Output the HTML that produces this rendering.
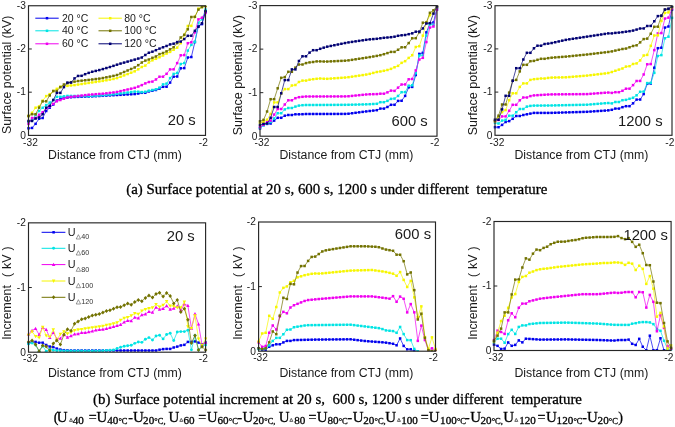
<!DOCTYPE html>
<html><head><meta charset="utf-8"><style>
html,body{margin:0;padding:0;background:#fff;overflow:hidden;width:675px;height:427px;}
svg{display:block;will-change:transform;}
text{fill:#1a1a1a;}
.sf{stroke:#000;stroke-width:0.28px;}
</style></head><body>
<svg width="675" height="427" viewBox="0 0 675 427">
<rect width="675" height="427" fill="#fff"/>
<defs>
<clipPath id="cp1"><rect x="26.5" y="5.75" width="181.0" height="129.65"/></clipPath>
<clipPath id="cp2"><rect x="258" y="5.6" width="181" height="130.6"/></clipPath>
<clipPath id="cp3"><rect x="493" y="5.7" width="181" height="129.60000000000002"/></clipPath>
<clipPath id="cp4"><rect x="26.5" y="222.85" width="181.1" height="129.35"/></clipPath>
<clipPath id="cp5"><rect x="256.6" y="222" width="180.89999999999998" height="129.2"/></clipPath>
<clipPath id="cp6"><rect x="492" y="221.5" width="181.10000000000002" height="129.0"/></clipPath>
</defs>
<g clip-path="url(#cp1)">
<polyline points="28.50,128.30 32.04,127.95 35.58,123.82 39.12,118.70 42.66,118.01 46.20,111.00 49.74,107.66 53.28,104.52 56.82,100.59 60.36,98.80 63.90,97.84 67.44,97.54 70.98,97.23 74.52,96.97 78.06,96.87 81.60,96.76 85.14,96.65 88.68,96.54 92.22,96.38 95.76,96.18 99.30,95.99 102.84,95.79 106.38,95.60 109.92,95.40 113.46,95.21 117.00,95.02 120.54,94.83 124.08,94.64 127.62,94.44 131.16,94.25 134.70,94.06 138.24,93.51 141.78,92.80 145.32,92.79 148.86,91.42 152.40,90.70 155.94,89.98 159.48,88.61 163.02,86.80 166.56,86.73 170.10,82.60 173.64,76.70 177.18,76.51 180.72,68.30 184.26,68.12 187.80,57.50 191.34,57.03 194.88,42.04 198.42,25.99 201.96,24.09 205.50,12.00" fill="none" stroke="#0000ee" stroke-width="0.7" stroke-linejoin="round"/>
<rect x="27.25" y="127.05" width="2.50" height="2.50" fill="#0000ee"/>
<rect x="30.79" y="126.70" width="2.50" height="2.50" fill="#0000ee"/>
<rect x="34.33" y="122.57" width="2.50" height="2.50" fill="#0000ee"/>
<rect x="37.87" y="117.45" width="2.50" height="2.50" fill="#0000ee"/>
<rect x="41.41" y="116.76" width="2.50" height="2.50" fill="#0000ee"/>
<rect x="44.95" y="109.75" width="2.50" height="2.50" fill="#0000ee"/>
<rect x="48.49" y="106.41" width="2.50" height="2.50" fill="#0000ee"/>
<rect x="52.03" y="103.27" width="2.50" height="2.50" fill="#0000ee"/>
<rect x="55.57" y="99.34" width="2.50" height="2.50" fill="#0000ee"/>
<rect x="59.11" y="97.55" width="2.50" height="2.50" fill="#0000ee"/>
<rect x="62.65" y="96.59" width="2.50" height="2.50" fill="#0000ee"/>
<rect x="66.19" y="96.29" width="2.50" height="2.50" fill="#0000ee"/>
<rect x="69.73" y="95.98" width="2.50" height="2.50" fill="#0000ee"/>
<rect x="73.27" y="95.72" width="2.50" height="2.50" fill="#0000ee"/>
<rect x="76.81" y="95.62" width="2.50" height="2.50" fill="#0000ee"/>
<rect x="80.35" y="95.51" width="2.50" height="2.50" fill="#0000ee"/>
<rect x="83.89" y="95.40" width="2.50" height="2.50" fill="#0000ee"/>
<rect x="87.43" y="95.29" width="2.50" height="2.50" fill="#0000ee"/>
<rect x="90.97" y="95.13" width="2.50" height="2.50" fill="#0000ee"/>
<rect x="94.51" y="94.93" width="2.50" height="2.50" fill="#0000ee"/>
<rect x="98.05" y="94.74" width="2.50" height="2.50" fill="#0000ee"/>
<rect x="101.59" y="94.54" width="2.50" height="2.50" fill="#0000ee"/>
<rect x="105.13" y="94.35" width="2.50" height="2.50" fill="#0000ee"/>
<rect x="108.67" y="94.15" width="2.50" height="2.50" fill="#0000ee"/>
<rect x="112.21" y="93.96" width="2.50" height="2.50" fill="#0000ee"/>
<rect x="115.75" y="93.77" width="2.50" height="2.50" fill="#0000ee"/>
<rect x="119.29" y="93.58" width="2.50" height="2.50" fill="#0000ee"/>
<rect x="122.83" y="93.39" width="2.50" height="2.50" fill="#0000ee"/>
<rect x="126.37" y="93.19" width="2.50" height="2.50" fill="#0000ee"/>
<rect x="129.91" y="93.00" width="2.50" height="2.50" fill="#0000ee"/>
<rect x="133.45" y="92.81" width="2.50" height="2.50" fill="#0000ee"/>
<rect x="136.99" y="92.26" width="2.50" height="2.50" fill="#0000ee"/>
<rect x="140.53" y="91.55" width="2.50" height="2.50" fill="#0000ee"/>
<rect x="144.07" y="91.54" width="2.50" height="2.50" fill="#0000ee"/>
<rect x="147.61" y="90.17" width="2.50" height="2.50" fill="#0000ee"/>
<rect x="151.15" y="89.45" width="2.50" height="2.50" fill="#0000ee"/>
<rect x="154.69" y="88.73" width="2.50" height="2.50" fill="#0000ee"/>
<rect x="158.23" y="87.36" width="2.50" height="2.50" fill="#0000ee"/>
<rect x="161.77" y="85.55" width="2.50" height="2.50" fill="#0000ee"/>
<rect x="165.31" y="85.48" width="2.50" height="2.50" fill="#0000ee"/>
<rect x="168.85" y="81.35" width="2.50" height="2.50" fill="#0000ee"/>
<rect x="172.39" y="75.45" width="2.50" height="2.50" fill="#0000ee"/>
<rect x="175.93" y="75.26" width="2.50" height="2.50" fill="#0000ee"/>
<rect x="179.47" y="67.05" width="2.50" height="2.50" fill="#0000ee"/>
<rect x="183.01" y="66.87" width="2.50" height="2.50" fill="#0000ee"/>
<rect x="186.55" y="56.25" width="2.50" height="2.50" fill="#0000ee"/>
<rect x="190.09" y="55.78" width="2.50" height="2.50" fill="#0000ee"/>
<rect x="193.63" y="40.79" width="2.50" height="2.50" fill="#0000ee"/>
<rect x="197.17" y="24.74" width="2.50" height="2.50" fill="#0000ee"/>
<rect x="200.71" y="22.84" width="2.50" height="2.50" fill="#0000ee"/>
<rect x="204.25" y="10.75" width="2.50" height="2.50" fill="#0000ee"/>
<polyline points="28.50,122.00 32.04,119.94 35.58,115.03 39.12,110.98 42.66,107.74 46.20,105.10 49.74,102.57 53.28,100.01 56.82,96.80 60.36,96.80 63.90,96.36 67.44,95.92 70.98,95.95 74.52,96.00 78.06,96.05 81.60,96.10 85.14,96.15 88.68,96.20 92.22,95.95 95.76,95.68 99.30,95.41 102.84,95.14 106.38,94.87 109.92,94.61 113.46,94.18 117.00,93.76 120.54,93.33 124.08,92.91 127.62,92.48 131.16,92.06 134.70,91.63 138.24,91.74 141.78,92.10 145.32,91.79 148.86,90.71 152.40,90.00 155.94,89.28 159.48,87.61 163.02,84.40 166.56,83.61 170.10,78.10 173.64,73.89 177.18,73.00 180.72,64.00 184.26,63.09 187.80,50.60 191.34,44.87 194.88,41.96 198.42,22.68 201.96,19.24 205.50,9.60" fill="none" stroke="#00e4e4" stroke-width="0.7" stroke-linejoin="round"/>
<rect x="27.25" y="120.75" width="2.50" height="2.50" fill="#00e4e4"/>
<rect x="30.79" y="118.69" width="2.50" height="2.50" fill="#00e4e4"/>
<rect x="34.33" y="113.78" width="2.50" height="2.50" fill="#00e4e4"/>
<rect x="37.87" y="109.73" width="2.50" height="2.50" fill="#00e4e4"/>
<rect x="41.41" y="106.49" width="2.50" height="2.50" fill="#00e4e4"/>
<rect x="44.95" y="103.85" width="2.50" height="2.50" fill="#00e4e4"/>
<rect x="48.49" y="101.32" width="2.50" height="2.50" fill="#00e4e4"/>
<rect x="52.03" y="98.76" width="2.50" height="2.50" fill="#00e4e4"/>
<rect x="55.57" y="95.55" width="2.50" height="2.50" fill="#00e4e4"/>
<rect x="59.11" y="95.55" width="2.50" height="2.50" fill="#00e4e4"/>
<rect x="62.65" y="95.11" width="2.50" height="2.50" fill="#00e4e4"/>
<rect x="66.19" y="94.67" width="2.50" height="2.50" fill="#00e4e4"/>
<rect x="69.73" y="94.70" width="2.50" height="2.50" fill="#00e4e4"/>
<rect x="73.27" y="94.75" width="2.50" height="2.50" fill="#00e4e4"/>
<rect x="76.81" y="94.80" width="2.50" height="2.50" fill="#00e4e4"/>
<rect x="80.35" y="94.85" width="2.50" height="2.50" fill="#00e4e4"/>
<rect x="83.89" y="94.90" width="2.50" height="2.50" fill="#00e4e4"/>
<rect x="87.43" y="94.95" width="2.50" height="2.50" fill="#00e4e4"/>
<rect x="90.97" y="94.70" width="2.50" height="2.50" fill="#00e4e4"/>
<rect x="94.51" y="94.43" width="2.50" height="2.50" fill="#00e4e4"/>
<rect x="98.05" y="94.16" width="2.50" height="2.50" fill="#00e4e4"/>
<rect x="101.59" y="93.89" width="2.50" height="2.50" fill="#00e4e4"/>
<rect x="105.13" y="93.62" width="2.50" height="2.50" fill="#00e4e4"/>
<rect x="108.67" y="93.36" width="2.50" height="2.50" fill="#00e4e4"/>
<rect x="112.21" y="92.93" width="2.50" height="2.50" fill="#00e4e4"/>
<rect x="115.75" y="92.51" width="2.50" height="2.50" fill="#00e4e4"/>
<rect x="119.29" y="92.08" width="2.50" height="2.50" fill="#00e4e4"/>
<rect x="122.83" y="91.66" width="2.50" height="2.50" fill="#00e4e4"/>
<rect x="126.37" y="91.23" width="2.50" height="2.50" fill="#00e4e4"/>
<rect x="129.91" y="90.81" width="2.50" height="2.50" fill="#00e4e4"/>
<rect x="133.45" y="90.38" width="2.50" height="2.50" fill="#00e4e4"/>
<rect x="136.99" y="90.49" width="2.50" height="2.50" fill="#00e4e4"/>
<rect x="140.53" y="90.85" width="2.50" height="2.50" fill="#00e4e4"/>
<rect x="144.07" y="90.54" width="2.50" height="2.50" fill="#00e4e4"/>
<rect x="147.61" y="89.46" width="2.50" height="2.50" fill="#00e4e4"/>
<rect x="151.15" y="88.75" width="2.50" height="2.50" fill="#00e4e4"/>
<rect x="154.69" y="88.03" width="2.50" height="2.50" fill="#00e4e4"/>
<rect x="158.23" y="86.36" width="2.50" height="2.50" fill="#00e4e4"/>
<rect x="161.77" y="83.15" width="2.50" height="2.50" fill="#00e4e4"/>
<rect x="165.31" y="82.36" width="2.50" height="2.50" fill="#00e4e4"/>
<rect x="168.85" y="76.85" width="2.50" height="2.50" fill="#00e4e4"/>
<rect x="172.39" y="72.64" width="2.50" height="2.50" fill="#00e4e4"/>
<rect x="175.93" y="71.75" width="2.50" height="2.50" fill="#00e4e4"/>
<rect x="179.47" y="62.75" width="2.50" height="2.50" fill="#00e4e4"/>
<rect x="183.01" y="61.84" width="2.50" height="2.50" fill="#00e4e4"/>
<rect x="186.55" y="49.35" width="2.50" height="2.50" fill="#00e4e4"/>
<rect x="190.09" y="43.62" width="2.50" height="2.50" fill="#00e4e4"/>
<rect x="193.63" y="40.71" width="2.50" height="2.50" fill="#00e4e4"/>
<rect x="197.17" y="21.43" width="2.50" height="2.50" fill="#00e4e4"/>
<rect x="200.71" y="17.99" width="2.50" height="2.50" fill="#00e4e4"/>
<rect x="204.25" y="8.35" width="2.50" height="2.50" fill="#00e4e4"/>
<polyline points="28.50,123.80 32.04,118.00 35.58,118.00 39.12,114.79 42.66,112.23 46.20,108.40 49.74,106.37 53.28,103.91 56.82,101.29 60.36,100.01 63.90,98.70 67.44,97.39 70.98,96.80 74.52,96.39 78.06,95.97 81.60,95.56 85.14,95.14 88.68,94.73 92.22,94.46 95.76,94.20 99.30,93.95 102.84,93.69 106.38,93.32 109.92,92.88 113.46,92.45 117.00,91.94 120.54,91.12 124.08,90.30 127.62,89.49 131.16,88.67 134.70,87.85 138.24,86.58 141.78,85.11 145.32,83.39 148.86,82.02 152.40,81.60 155.94,79.47 159.48,76.72 163.02,76.68 166.56,73.83 170.10,69.40 173.64,69.33 177.18,63.12 180.72,55.30 184.26,55.10 187.80,43.20 191.34,42.29 194.88,32.31 198.42,19.39 201.96,17.72 205.50,12.90" fill="none" stroke="#f000f0" stroke-width="0.7" stroke-linejoin="round"/>
<rect x="27.25" y="122.55" width="2.50" height="2.50" fill="#f000f0"/>
<rect x="30.79" y="116.75" width="2.50" height="2.50" fill="#f000f0"/>
<rect x="34.33" y="116.75" width="2.50" height="2.50" fill="#f000f0"/>
<rect x="37.87" y="113.54" width="2.50" height="2.50" fill="#f000f0"/>
<rect x="41.41" y="110.98" width="2.50" height="2.50" fill="#f000f0"/>
<rect x="44.95" y="107.15" width="2.50" height="2.50" fill="#f000f0"/>
<rect x="48.49" y="105.12" width="2.50" height="2.50" fill="#f000f0"/>
<rect x="52.03" y="102.66" width="2.50" height="2.50" fill="#f000f0"/>
<rect x="55.57" y="100.04" width="2.50" height="2.50" fill="#f000f0"/>
<rect x="59.11" y="98.76" width="2.50" height="2.50" fill="#f000f0"/>
<rect x="62.65" y="97.45" width="2.50" height="2.50" fill="#f000f0"/>
<rect x="66.19" y="96.14" width="2.50" height="2.50" fill="#f000f0"/>
<rect x="69.73" y="95.55" width="2.50" height="2.50" fill="#f000f0"/>
<rect x="73.27" y="95.14" width="2.50" height="2.50" fill="#f000f0"/>
<rect x="76.81" y="94.72" width="2.50" height="2.50" fill="#f000f0"/>
<rect x="80.35" y="94.31" width="2.50" height="2.50" fill="#f000f0"/>
<rect x="83.89" y="93.89" width="2.50" height="2.50" fill="#f000f0"/>
<rect x="87.43" y="93.48" width="2.50" height="2.50" fill="#f000f0"/>
<rect x="90.97" y="93.21" width="2.50" height="2.50" fill="#f000f0"/>
<rect x="94.51" y="92.95" width="2.50" height="2.50" fill="#f000f0"/>
<rect x="98.05" y="92.70" width="2.50" height="2.50" fill="#f000f0"/>
<rect x="101.59" y="92.44" width="2.50" height="2.50" fill="#f000f0"/>
<rect x="105.13" y="92.07" width="2.50" height="2.50" fill="#f000f0"/>
<rect x="108.67" y="91.63" width="2.50" height="2.50" fill="#f000f0"/>
<rect x="112.21" y="91.20" width="2.50" height="2.50" fill="#f000f0"/>
<rect x="115.75" y="90.69" width="2.50" height="2.50" fill="#f000f0"/>
<rect x="119.29" y="89.87" width="2.50" height="2.50" fill="#f000f0"/>
<rect x="122.83" y="89.05" width="2.50" height="2.50" fill="#f000f0"/>
<rect x="126.37" y="88.24" width="2.50" height="2.50" fill="#f000f0"/>
<rect x="129.91" y="87.42" width="2.50" height="2.50" fill="#f000f0"/>
<rect x="133.45" y="86.60" width="2.50" height="2.50" fill="#f000f0"/>
<rect x="136.99" y="85.33" width="2.50" height="2.50" fill="#f000f0"/>
<rect x="140.53" y="83.86" width="2.50" height="2.50" fill="#f000f0"/>
<rect x="144.07" y="82.14" width="2.50" height="2.50" fill="#f000f0"/>
<rect x="147.61" y="80.77" width="2.50" height="2.50" fill="#f000f0"/>
<rect x="151.15" y="80.35" width="2.50" height="2.50" fill="#f000f0"/>
<rect x="154.69" y="78.22" width="2.50" height="2.50" fill="#f000f0"/>
<rect x="158.23" y="75.47" width="2.50" height="2.50" fill="#f000f0"/>
<rect x="161.77" y="75.43" width="2.50" height="2.50" fill="#f000f0"/>
<rect x="165.31" y="72.58" width="2.50" height="2.50" fill="#f000f0"/>
<rect x="168.85" y="68.15" width="2.50" height="2.50" fill="#f000f0"/>
<rect x="172.39" y="68.08" width="2.50" height="2.50" fill="#f000f0"/>
<rect x="175.93" y="61.87" width="2.50" height="2.50" fill="#f000f0"/>
<rect x="179.47" y="54.05" width="2.50" height="2.50" fill="#f000f0"/>
<rect x="183.01" y="53.85" width="2.50" height="2.50" fill="#f000f0"/>
<rect x="186.55" y="41.95" width="2.50" height="2.50" fill="#f000f0"/>
<rect x="190.09" y="41.04" width="2.50" height="2.50" fill="#f000f0"/>
<rect x="193.63" y="31.06" width="2.50" height="2.50" fill="#f000f0"/>
<rect x="197.17" y="18.14" width="2.50" height="2.50" fill="#f000f0"/>
<rect x="200.71" y="16.47" width="2.50" height="2.50" fill="#f000f0"/>
<rect x="204.25" y="11.65" width="2.50" height="2.50" fill="#f000f0"/>
<polyline points="28.50,116.00 32.04,112.84 35.58,107.73 39.12,106.37 42.66,100.66 46.20,96.10 49.74,94.16 53.28,91.02 56.82,88.86 60.36,86.71 63.90,86.18 67.44,85.83 70.98,85.47 74.52,85.08 78.06,84.54 81.60,84.00 85.14,83.47 88.68,82.93 92.22,82.42 95.76,81.91 99.30,81.39 102.84,80.88 106.38,80.27 109.92,79.60 113.46,78.94 117.00,78.13 120.54,76.77 124.08,75.41 127.62,74.05 131.16,72.68 134.70,71.32 138.24,69.31 141.78,67.01 145.32,65.58 148.86,62.44 152.40,60.30 155.94,58.78 159.48,57.21 163.02,55.49 166.56,53.57 170.10,51.90 173.64,49.78 177.18,47.60 180.72,43.15 184.26,34.85 187.80,26.00 191.34,25.90 194.88,16.82 198.42,8.69 201.96,6.98 205.50,6.00" fill="none" stroke="#f6f600" stroke-width="0.7" stroke-linejoin="round"/>
<rect x="27.25" y="114.75" width="2.50" height="2.50" fill="#f6f600"/>
<rect x="30.79" y="111.59" width="2.50" height="2.50" fill="#f6f600"/>
<rect x="34.33" y="106.48" width="2.50" height="2.50" fill="#f6f600"/>
<rect x="37.87" y="105.12" width="2.50" height="2.50" fill="#f6f600"/>
<rect x="41.41" y="99.41" width="2.50" height="2.50" fill="#f6f600"/>
<rect x="44.95" y="94.85" width="2.50" height="2.50" fill="#f6f600"/>
<rect x="48.49" y="92.91" width="2.50" height="2.50" fill="#f6f600"/>
<rect x="52.03" y="89.77" width="2.50" height="2.50" fill="#f6f600"/>
<rect x="55.57" y="87.61" width="2.50" height="2.50" fill="#f6f600"/>
<rect x="59.11" y="85.46" width="2.50" height="2.50" fill="#f6f600"/>
<rect x="62.65" y="84.93" width="2.50" height="2.50" fill="#f6f600"/>
<rect x="66.19" y="84.58" width="2.50" height="2.50" fill="#f6f600"/>
<rect x="69.73" y="84.22" width="2.50" height="2.50" fill="#f6f600"/>
<rect x="73.27" y="83.83" width="2.50" height="2.50" fill="#f6f600"/>
<rect x="76.81" y="83.29" width="2.50" height="2.50" fill="#f6f600"/>
<rect x="80.35" y="82.75" width="2.50" height="2.50" fill="#f6f600"/>
<rect x="83.89" y="82.22" width="2.50" height="2.50" fill="#f6f600"/>
<rect x="87.43" y="81.68" width="2.50" height="2.50" fill="#f6f600"/>
<rect x="90.97" y="81.17" width="2.50" height="2.50" fill="#f6f600"/>
<rect x="94.51" y="80.66" width="2.50" height="2.50" fill="#f6f600"/>
<rect x="98.05" y="80.14" width="2.50" height="2.50" fill="#f6f600"/>
<rect x="101.59" y="79.63" width="2.50" height="2.50" fill="#f6f600"/>
<rect x="105.13" y="79.02" width="2.50" height="2.50" fill="#f6f600"/>
<rect x="108.67" y="78.35" width="2.50" height="2.50" fill="#f6f600"/>
<rect x="112.21" y="77.69" width="2.50" height="2.50" fill="#f6f600"/>
<rect x="115.75" y="76.88" width="2.50" height="2.50" fill="#f6f600"/>
<rect x="119.29" y="75.52" width="2.50" height="2.50" fill="#f6f600"/>
<rect x="122.83" y="74.16" width="2.50" height="2.50" fill="#f6f600"/>
<rect x="126.37" y="72.80" width="2.50" height="2.50" fill="#f6f600"/>
<rect x="129.91" y="71.43" width="2.50" height="2.50" fill="#f6f600"/>
<rect x="133.45" y="70.07" width="2.50" height="2.50" fill="#f6f600"/>
<rect x="136.99" y="68.06" width="2.50" height="2.50" fill="#f6f600"/>
<rect x="140.53" y="65.76" width="2.50" height="2.50" fill="#f6f600"/>
<rect x="144.07" y="64.33" width="2.50" height="2.50" fill="#f6f600"/>
<rect x="147.61" y="61.19" width="2.50" height="2.50" fill="#f6f600"/>
<rect x="151.15" y="59.05" width="2.50" height="2.50" fill="#f6f600"/>
<rect x="154.69" y="57.53" width="2.50" height="2.50" fill="#f6f600"/>
<rect x="158.23" y="55.96" width="2.50" height="2.50" fill="#f6f600"/>
<rect x="161.77" y="54.24" width="2.50" height="2.50" fill="#f6f600"/>
<rect x="165.31" y="52.32" width="2.50" height="2.50" fill="#f6f600"/>
<rect x="168.85" y="50.65" width="2.50" height="2.50" fill="#f6f600"/>
<rect x="172.39" y="48.53" width="2.50" height="2.50" fill="#f6f600"/>
<rect x="175.93" y="46.35" width="2.50" height="2.50" fill="#f6f600"/>
<rect x="179.47" y="41.90" width="2.50" height="2.50" fill="#f6f600"/>
<rect x="183.01" y="33.60" width="2.50" height="2.50" fill="#f6f600"/>
<rect x="186.55" y="24.75" width="2.50" height="2.50" fill="#f6f600"/>
<rect x="190.09" y="24.65" width="2.50" height="2.50" fill="#f6f600"/>
<rect x="193.63" y="15.57" width="2.50" height="2.50" fill="#f6f600"/>
<rect x="197.17" y="7.44" width="2.50" height="2.50" fill="#f6f600"/>
<rect x="200.71" y="5.73" width="2.50" height="2.50" fill="#f6f600"/>
<rect x="204.25" y="4.75" width="2.50" height="2.50" fill="#f6f600"/>
<polyline points="28.50,116.00 32.04,114.20 35.58,114.20 39.12,107.66 42.66,101.37 46.20,101.30 49.74,95.45 53.28,91.02 56.82,90.98 60.36,87.14 63.90,84.50 67.44,83.14 70.98,82.19 74.52,81.62 78.06,81.04 81.60,80.66 85.14,80.29 88.68,79.92 92.22,79.49 95.76,79.06 99.30,78.62 102.84,78.05 106.38,77.32 109.92,76.60 113.46,75.88 117.00,75.00 120.54,73.50 124.08,71.99 127.62,70.48 131.16,68.97 134.70,67.47 138.24,65.17 141.78,62.52 145.32,60.59 148.86,59.51 152.40,57.80 155.94,56.47 159.48,54.11 163.02,52.99 166.56,51.36 170.10,49.30 173.64,47.25 177.18,43.07 180.72,37.49 184.26,34.90 187.80,29.30 191.34,17.00 194.88,16.84 198.42,9.59 201.96,7.08 205.50,6.00" fill="none" stroke="#727200" stroke-width="0.7" stroke-linejoin="round"/>
<rect x="27.25" y="114.75" width="2.50" height="2.50" fill="#727200"/>
<rect x="30.79" y="112.95" width="2.50" height="2.50" fill="#727200"/>
<rect x="34.33" y="112.95" width="2.50" height="2.50" fill="#727200"/>
<rect x="37.87" y="106.41" width="2.50" height="2.50" fill="#727200"/>
<rect x="41.41" y="100.12" width="2.50" height="2.50" fill="#727200"/>
<rect x="44.95" y="100.05" width="2.50" height="2.50" fill="#727200"/>
<rect x="48.49" y="94.20" width="2.50" height="2.50" fill="#727200"/>
<rect x="52.03" y="89.77" width="2.50" height="2.50" fill="#727200"/>
<rect x="55.57" y="89.73" width="2.50" height="2.50" fill="#727200"/>
<rect x="59.11" y="85.89" width="2.50" height="2.50" fill="#727200"/>
<rect x="62.65" y="83.25" width="2.50" height="2.50" fill="#727200"/>
<rect x="66.19" y="81.89" width="2.50" height="2.50" fill="#727200"/>
<rect x="69.73" y="80.94" width="2.50" height="2.50" fill="#727200"/>
<rect x="73.27" y="80.37" width="2.50" height="2.50" fill="#727200"/>
<rect x="76.81" y="79.79" width="2.50" height="2.50" fill="#727200"/>
<rect x="80.35" y="79.41" width="2.50" height="2.50" fill="#727200"/>
<rect x="83.89" y="79.04" width="2.50" height="2.50" fill="#727200"/>
<rect x="87.43" y="78.67" width="2.50" height="2.50" fill="#727200"/>
<rect x="90.97" y="78.24" width="2.50" height="2.50" fill="#727200"/>
<rect x="94.51" y="77.81" width="2.50" height="2.50" fill="#727200"/>
<rect x="98.05" y="77.37" width="2.50" height="2.50" fill="#727200"/>
<rect x="101.59" y="76.80" width="2.50" height="2.50" fill="#727200"/>
<rect x="105.13" y="76.07" width="2.50" height="2.50" fill="#727200"/>
<rect x="108.67" y="75.35" width="2.50" height="2.50" fill="#727200"/>
<rect x="112.21" y="74.63" width="2.50" height="2.50" fill="#727200"/>
<rect x="115.75" y="73.75" width="2.50" height="2.50" fill="#727200"/>
<rect x="119.29" y="72.25" width="2.50" height="2.50" fill="#727200"/>
<rect x="122.83" y="70.74" width="2.50" height="2.50" fill="#727200"/>
<rect x="126.37" y="69.23" width="2.50" height="2.50" fill="#727200"/>
<rect x="129.91" y="67.72" width="2.50" height="2.50" fill="#727200"/>
<rect x="133.45" y="66.22" width="2.50" height="2.50" fill="#727200"/>
<rect x="136.99" y="63.92" width="2.50" height="2.50" fill="#727200"/>
<rect x="140.53" y="61.27" width="2.50" height="2.50" fill="#727200"/>
<rect x="144.07" y="59.34" width="2.50" height="2.50" fill="#727200"/>
<rect x="147.61" y="58.26" width="2.50" height="2.50" fill="#727200"/>
<rect x="151.15" y="56.55" width="2.50" height="2.50" fill="#727200"/>
<rect x="154.69" y="55.22" width="2.50" height="2.50" fill="#727200"/>
<rect x="158.23" y="52.86" width="2.50" height="2.50" fill="#727200"/>
<rect x="161.77" y="51.74" width="2.50" height="2.50" fill="#727200"/>
<rect x="165.31" y="50.11" width="2.50" height="2.50" fill="#727200"/>
<rect x="168.85" y="48.05" width="2.50" height="2.50" fill="#727200"/>
<rect x="172.39" y="46.00" width="2.50" height="2.50" fill="#727200"/>
<rect x="175.93" y="41.82" width="2.50" height="2.50" fill="#727200"/>
<rect x="179.47" y="36.24" width="2.50" height="2.50" fill="#727200"/>
<rect x="183.01" y="33.65" width="2.50" height="2.50" fill="#727200"/>
<rect x="186.55" y="28.05" width="2.50" height="2.50" fill="#727200"/>
<rect x="190.09" y="15.75" width="2.50" height="2.50" fill="#727200"/>
<rect x="193.63" y="15.59" width="2.50" height="2.50" fill="#727200"/>
<rect x="197.17" y="8.34" width="2.50" height="2.50" fill="#727200"/>
<rect x="200.71" y="5.83" width="2.50" height="2.50" fill="#727200"/>
<rect x="204.25" y="4.75" width="2.50" height="2.50" fill="#727200"/>
<polyline points="28.50,121.00 32.04,120.97 35.58,118.51 39.12,117.38 42.66,114.24 46.20,107.70 49.74,105.74 53.28,100.03 56.82,92.90 60.36,92.90 63.90,87.10 67.44,82.60 70.98,82.60 74.52,78.41 78.06,75.94 81.60,75.80 85.14,74.20 88.68,72.89 92.22,71.75 95.76,70.91 99.30,70.07 102.84,69.07 106.38,68.04 109.92,67.02 113.46,65.85 117.00,64.67 120.54,63.58 124.08,62.59 127.62,61.60 131.16,60.60 134.70,59.61 138.24,58.57 141.78,57.51 145.32,54.99 148.86,52.73 152.40,51.70 155.94,50.18 159.48,48.61 163.02,47.29 166.56,45.97 170.10,44.40 173.64,43.68 177.18,42.09 180.72,41.59 184.26,39.05 187.80,35.80 191.34,35.74 194.88,30.81 198.42,26.78 201.96,23.29 205.50,11.20" fill="none" stroke="#000072" stroke-width="0.7" stroke-linejoin="round"/>
<rect x="27.25" y="119.75" width="2.50" height="2.50" fill="#000072"/>
<rect x="30.79" y="119.72" width="2.50" height="2.50" fill="#000072"/>
<rect x="34.33" y="117.26" width="2.50" height="2.50" fill="#000072"/>
<rect x="37.87" y="116.13" width="2.50" height="2.50" fill="#000072"/>
<rect x="41.41" y="112.99" width="2.50" height="2.50" fill="#000072"/>
<rect x="44.95" y="106.45" width="2.50" height="2.50" fill="#000072"/>
<rect x="48.49" y="104.49" width="2.50" height="2.50" fill="#000072"/>
<rect x="52.03" y="98.78" width="2.50" height="2.50" fill="#000072"/>
<rect x="55.57" y="91.65" width="2.50" height="2.50" fill="#000072"/>
<rect x="59.11" y="91.65" width="2.50" height="2.50" fill="#000072"/>
<rect x="62.65" y="85.85" width="2.50" height="2.50" fill="#000072"/>
<rect x="66.19" y="81.35" width="2.50" height="2.50" fill="#000072"/>
<rect x="69.73" y="81.35" width="2.50" height="2.50" fill="#000072"/>
<rect x="73.27" y="77.16" width="2.50" height="2.50" fill="#000072"/>
<rect x="76.81" y="74.69" width="2.50" height="2.50" fill="#000072"/>
<rect x="80.35" y="74.55" width="2.50" height="2.50" fill="#000072"/>
<rect x="83.89" y="72.95" width="2.50" height="2.50" fill="#000072"/>
<rect x="87.43" y="71.64" width="2.50" height="2.50" fill="#000072"/>
<rect x="90.97" y="70.50" width="2.50" height="2.50" fill="#000072"/>
<rect x="94.51" y="69.66" width="2.50" height="2.50" fill="#000072"/>
<rect x="98.05" y="68.82" width="2.50" height="2.50" fill="#000072"/>
<rect x="101.59" y="67.82" width="2.50" height="2.50" fill="#000072"/>
<rect x="105.13" y="66.79" width="2.50" height="2.50" fill="#000072"/>
<rect x="108.67" y="65.77" width="2.50" height="2.50" fill="#000072"/>
<rect x="112.21" y="64.60" width="2.50" height="2.50" fill="#000072"/>
<rect x="115.75" y="63.42" width="2.50" height="2.50" fill="#000072"/>
<rect x="119.29" y="62.33" width="2.50" height="2.50" fill="#000072"/>
<rect x="122.83" y="61.34" width="2.50" height="2.50" fill="#000072"/>
<rect x="126.37" y="60.35" width="2.50" height="2.50" fill="#000072"/>
<rect x="129.91" y="59.35" width="2.50" height="2.50" fill="#000072"/>
<rect x="133.45" y="58.36" width="2.50" height="2.50" fill="#000072"/>
<rect x="136.99" y="57.32" width="2.50" height="2.50" fill="#000072"/>
<rect x="140.53" y="56.26" width="2.50" height="2.50" fill="#000072"/>
<rect x="144.07" y="53.74" width="2.50" height="2.50" fill="#000072"/>
<rect x="147.61" y="51.48" width="2.50" height="2.50" fill="#000072"/>
<rect x="151.15" y="50.45" width="2.50" height="2.50" fill="#000072"/>
<rect x="154.69" y="48.93" width="2.50" height="2.50" fill="#000072"/>
<rect x="158.23" y="47.36" width="2.50" height="2.50" fill="#000072"/>
<rect x="161.77" y="46.04" width="2.50" height="2.50" fill="#000072"/>
<rect x="165.31" y="44.72" width="2.50" height="2.50" fill="#000072"/>
<rect x="168.85" y="43.15" width="2.50" height="2.50" fill="#000072"/>
<rect x="172.39" y="42.43" width="2.50" height="2.50" fill="#000072"/>
<rect x="175.93" y="40.84" width="2.50" height="2.50" fill="#000072"/>
<rect x="179.47" y="40.34" width="2.50" height="2.50" fill="#000072"/>
<rect x="183.01" y="37.80" width="2.50" height="2.50" fill="#000072"/>
<rect x="186.55" y="34.55" width="2.50" height="2.50" fill="#000072"/>
<rect x="190.09" y="34.49" width="2.50" height="2.50" fill="#000072"/>
<rect x="193.63" y="29.56" width="2.50" height="2.50" fill="#000072"/>
<rect x="197.17" y="25.53" width="2.50" height="2.50" fill="#000072"/>
<rect x="200.71" y="22.04" width="2.50" height="2.50" fill="#000072"/>
<rect x="204.25" y="9.95" width="2.50" height="2.50" fill="#000072"/>
</g>
<g clip-path="url(#cp2)">
<polyline points="260.00,128.40 263.54,124.20 267.08,123.90 270.62,123.50 274.16,120.60 277.70,117.80 281.24,117.80 284.78,115.70 288.32,115.00 291.86,115.00 295.40,114.30 298.94,114.30 302.48,114.20 306.02,114.00 309.56,113.99 313.10,113.98 316.64,113.97 320.18,113.97 323.72,113.96 327.26,113.95 330.80,113.94 334.34,113.93 337.88,113.92 341.42,113.91 344.96,113.90 348.50,113.71 352.04,113.25 355.58,112.80 359.12,112.34 362.66,111.89 366.20,111.43 369.74,111.00 373.28,110.60 376.82,110.19 380.36,108.60 383.90,108.60 387.44,106.97 390.98,104.80 394.52,104.78 398.06,100.90 401.60,100.76 405.14,95.90 408.68,87.30 412.22,86.90 415.76,75.03 419.30,53.88 422.84,52.87 426.38,32.39 429.92,23.47 433.46,22.45 437.00,7.90" fill="none" stroke="#0000ee" stroke-width="0.7" stroke-linejoin="round"/>
<rect x="258.75" y="127.15" width="2.50" height="2.50" fill="#0000ee"/>
<rect x="262.29" y="122.95" width="2.50" height="2.50" fill="#0000ee"/>
<rect x="265.83" y="122.65" width="2.50" height="2.50" fill="#0000ee"/>
<rect x="269.37" y="122.25" width="2.50" height="2.50" fill="#0000ee"/>
<rect x="272.91" y="119.35" width="2.50" height="2.50" fill="#0000ee"/>
<rect x="276.45" y="116.55" width="2.50" height="2.50" fill="#0000ee"/>
<rect x="279.99" y="116.55" width="2.50" height="2.50" fill="#0000ee"/>
<rect x="283.53" y="114.45" width="2.50" height="2.50" fill="#0000ee"/>
<rect x="287.07" y="113.75" width="2.50" height="2.50" fill="#0000ee"/>
<rect x="290.61" y="113.75" width="2.50" height="2.50" fill="#0000ee"/>
<rect x="294.15" y="113.05" width="2.50" height="2.50" fill="#0000ee"/>
<rect x="297.69" y="113.05" width="2.50" height="2.50" fill="#0000ee"/>
<rect x="301.23" y="112.95" width="2.50" height="2.50" fill="#0000ee"/>
<rect x="304.77" y="112.75" width="2.50" height="2.50" fill="#0000ee"/>
<rect x="308.31" y="112.74" width="2.50" height="2.50" fill="#0000ee"/>
<rect x="311.85" y="112.73" width="2.50" height="2.50" fill="#0000ee"/>
<rect x="315.39" y="112.72" width="2.50" height="2.50" fill="#0000ee"/>
<rect x="318.93" y="112.72" width="2.50" height="2.50" fill="#0000ee"/>
<rect x="322.47" y="112.71" width="2.50" height="2.50" fill="#0000ee"/>
<rect x="326.01" y="112.70" width="2.50" height="2.50" fill="#0000ee"/>
<rect x="329.55" y="112.69" width="2.50" height="2.50" fill="#0000ee"/>
<rect x="333.09" y="112.68" width="2.50" height="2.50" fill="#0000ee"/>
<rect x="336.63" y="112.67" width="2.50" height="2.50" fill="#0000ee"/>
<rect x="340.17" y="112.66" width="2.50" height="2.50" fill="#0000ee"/>
<rect x="343.71" y="112.65" width="2.50" height="2.50" fill="#0000ee"/>
<rect x="347.25" y="112.46" width="2.50" height="2.50" fill="#0000ee"/>
<rect x="350.79" y="112.00" width="2.50" height="2.50" fill="#0000ee"/>
<rect x="354.33" y="111.55" width="2.50" height="2.50" fill="#0000ee"/>
<rect x="357.87" y="111.09" width="2.50" height="2.50" fill="#0000ee"/>
<rect x="361.41" y="110.64" width="2.50" height="2.50" fill="#0000ee"/>
<rect x="364.95" y="110.18" width="2.50" height="2.50" fill="#0000ee"/>
<rect x="368.49" y="109.75" width="2.50" height="2.50" fill="#0000ee"/>
<rect x="372.03" y="109.35" width="2.50" height="2.50" fill="#0000ee"/>
<rect x="375.57" y="108.94" width="2.50" height="2.50" fill="#0000ee"/>
<rect x="379.11" y="107.35" width="2.50" height="2.50" fill="#0000ee"/>
<rect x="382.65" y="107.35" width="2.50" height="2.50" fill="#0000ee"/>
<rect x="386.19" y="105.72" width="2.50" height="2.50" fill="#0000ee"/>
<rect x="389.73" y="103.55" width="2.50" height="2.50" fill="#0000ee"/>
<rect x="393.27" y="103.53" width="2.50" height="2.50" fill="#0000ee"/>
<rect x="396.81" y="99.65" width="2.50" height="2.50" fill="#0000ee"/>
<rect x="400.35" y="99.51" width="2.50" height="2.50" fill="#0000ee"/>
<rect x="403.89" y="94.65" width="2.50" height="2.50" fill="#0000ee"/>
<rect x="407.43" y="86.05" width="2.50" height="2.50" fill="#0000ee"/>
<rect x="410.97" y="85.65" width="2.50" height="2.50" fill="#0000ee"/>
<rect x="414.51" y="73.78" width="2.50" height="2.50" fill="#0000ee"/>
<rect x="418.05" y="52.63" width="2.50" height="2.50" fill="#0000ee"/>
<rect x="421.59" y="51.62" width="2.50" height="2.50" fill="#0000ee"/>
<rect x="425.13" y="31.14" width="2.50" height="2.50" fill="#0000ee"/>
<rect x="428.67" y="22.22" width="2.50" height="2.50" fill="#0000ee"/>
<rect x="432.21" y="21.20" width="2.50" height="2.50" fill="#0000ee"/>
<rect x="435.75" y="6.65" width="2.50" height="2.50" fill="#0000ee"/>
<polyline points="260.00,127.70 263.54,125.60 267.08,123.50 270.62,122.00 274.16,118.50 277.70,113.20 281.24,113.20 284.78,109.40 288.32,108.00 291.86,108.00 295.40,106.60 298.94,105.60 302.48,105.20 306.02,105.00 309.56,105.00 313.10,105.00 316.64,104.98 320.18,104.96 323.72,104.94 327.26,104.92 330.80,104.90 334.34,104.88 337.88,104.85 341.42,104.83 344.96,104.81 348.50,104.76 352.04,104.68 355.58,104.60 359.12,104.51 362.66,104.43 366.20,104.34 369.74,104.20 373.28,104.00 376.82,103.79 380.36,102.20 383.90,102.20 387.44,100.88 390.98,98.89 394.52,98.59 398.06,95.93 401.60,92.20 405.14,92.13 408.68,85.70 412.22,85.29 415.76,73.19 419.30,55.50 422.84,55.27 426.38,35.54 429.92,24.33 433.46,24.94 437.00,9.60" fill="none" stroke="#00e4e4" stroke-width="0.7" stroke-linejoin="round"/>
<rect x="258.75" y="126.45" width="2.50" height="2.50" fill="#00e4e4"/>
<rect x="262.29" y="124.35" width="2.50" height="2.50" fill="#00e4e4"/>
<rect x="265.83" y="122.25" width="2.50" height="2.50" fill="#00e4e4"/>
<rect x="269.37" y="120.75" width="2.50" height="2.50" fill="#00e4e4"/>
<rect x="272.91" y="117.25" width="2.50" height="2.50" fill="#00e4e4"/>
<rect x="276.45" y="111.95" width="2.50" height="2.50" fill="#00e4e4"/>
<rect x="279.99" y="111.95" width="2.50" height="2.50" fill="#00e4e4"/>
<rect x="283.53" y="108.15" width="2.50" height="2.50" fill="#00e4e4"/>
<rect x="287.07" y="106.75" width="2.50" height="2.50" fill="#00e4e4"/>
<rect x="290.61" y="106.75" width="2.50" height="2.50" fill="#00e4e4"/>
<rect x="294.15" y="105.35" width="2.50" height="2.50" fill="#00e4e4"/>
<rect x="297.69" y="104.35" width="2.50" height="2.50" fill="#00e4e4"/>
<rect x="301.23" y="103.95" width="2.50" height="2.50" fill="#00e4e4"/>
<rect x="304.77" y="103.75" width="2.50" height="2.50" fill="#00e4e4"/>
<rect x="308.31" y="103.75" width="2.50" height="2.50" fill="#00e4e4"/>
<rect x="311.85" y="103.75" width="2.50" height="2.50" fill="#00e4e4"/>
<rect x="315.39" y="103.73" width="2.50" height="2.50" fill="#00e4e4"/>
<rect x="318.93" y="103.71" width="2.50" height="2.50" fill="#00e4e4"/>
<rect x="322.47" y="103.69" width="2.50" height="2.50" fill="#00e4e4"/>
<rect x="326.01" y="103.67" width="2.50" height="2.50" fill="#00e4e4"/>
<rect x="329.55" y="103.65" width="2.50" height="2.50" fill="#00e4e4"/>
<rect x="333.09" y="103.63" width="2.50" height="2.50" fill="#00e4e4"/>
<rect x="336.63" y="103.60" width="2.50" height="2.50" fill="#00e4e4"/>
<rect x="340.17" y="103.58" width="2.50" height="2.50" fill="#00e4e4"/>
<rect x="343.71" y="103.56" width="2.50" height="2.50" fill="#00e4e4"/>
<rect x="347.25" y="103.51" width="2.50" height="2.50" fill="#00e4e4"/>
<rect x="350.79" y="103.43" width="2.50" height="2.50" fill="#00e4e4"/>
<rect x="354.33" y="103.35" width="2.50" height="2.50" fill="#00e4e4"/>
<rect x="357.87" y="103.26" width="2.50" height="2.50" fill="#00e4e4"/>
<rect x="361.41" y="103.18" width="2.50" height="2.50" fill="#00e4e4"/>
<rect x="364.95" y="103.09" width="2.50" height="2.50" fill="#00e4e4"/>
<rect x="368.49" y="102.95" width="2.50" height="2.50" fill="#00e4e4"/>
<rect x="372.03" y="102.75" width="2.50" height="2.50" fill="#00e4e4"/>
<rect x="375.57" y="102.54" width="2.50" height="2.50" fill="#00e4e4"/>
<rect x="379.11" y="100.95" width="2.50" height="2.50" fill="#00e4e4"/>
<rect x="382.65" y="100.95" width="2.50" height="2.50" fill="#00e4e4"/>
<rect x="386.19" y="99.63" width="2.50" height="2.50" fill="#00e4e4"/>
<rect x="389.73" y="97.64" width="2.50" height="2.50" fill="#00e4e4"/>
<rect x="393.27" y="97.34" width="2.50" height="2.50" fill="#00e4e4"/>
<rect x="396.81" y="94.68" width="2.50" height="2.50" fill="#00e4e4"/>
<rect x="400.35" y="90.95" width="2.50" height="2.50" fill="#00e4e4"/>
<rect x="403.89" y="90.88" width="2.50" height="2.50" fill="#00e4e4"/>
<rect x="407.43" y="84.45" width="2.50" height="2.50" fill="#00e4e4"/>
<rect x="410.97" y="84.04" width="2.50" height="2.50" fill="#00e4e4"/>
<rect x="414.51" y="71.94" width="2.50" height="2.50" fill="#00e4e4"/>
<rect x="418.05" y="54.25" width="2.50" height="2.50" fill="#00e4e4"/>
<rect x="421.59" y="54.02" width="2.50" height="2.50" fill="#00e4e4"/>
<rect x="425.13" y="34.29" width="2.50" height="2.50" fill="#00e4e4"/>
<rect x="428.67" y="23.08" width="2.50" height="2.50" fill="#00e4e4"/>
<rect x="432.21" y="23.69" width="2.50" height="2.50" fill="#00e4e4"/>
<rect x="435.75" y="8.35" width="2.50" height="2.50" fill="#00e4e4"/>
<polyline points="260.00,127.00 263.54,124.90 267.08,122.00 270.62,120.60 274.16,114.60 277.70,109.00 281.24,109.00 284.78,104.50 288.32,100.30 291.86,100.30 295.40,98.20 298.94,97.20 302.48,96.80 306.02,96.50 309.56,96.49 313.10,96.48 316.64,96.47 320.18,96.47 323.72,96.46 327.26,96.45 330.80,96.44 334.34,96.43 337.88,96.42 341.42,96.41 344.96,96.40 348.50,96.25 352.04,95.90 355.58,95.54 359.12,95.19 362.66,94.83 366.20,94.48 369.74,94.26 373.28,94.18 376.82,94.10 380.36,93.70 383.90,93.70 387.44,92.38 390.98,90.61 394.52,90.88 398.06,87.65 401.60,84.50 405.14,84.44 408.68,79.30 412.22,79.01 415.76,70.41 419.30,59.56 422.84,57.82 426.38,42.06 429.92,27.57 433.46,26.51 437.00,9.60" fill="none" stroke="#f000f0" stroke-width="0.7" stroke-linejoin="round"/>
<rect x="258.75" y="125.75" width="2.50" height="2.50" fill="#f000f0"/>
<rect x="262.29" y="123.65" width="2.50" height="2.50" fill="#f000f0"/>
<rect x="265.83" y="120.75" width="2.50" height="2.50" fill="#f000f0"/>
<rect x="269.37" y="119.35" width="2.50" height="2.50" fill="#f000f0"/>
<rect x="272.91" y="113.35" width="2.50" height="2.50" fill="#f000f0"/>
<rect x="276.45" y="107.75" width="2.50" height="2.50" fill="#f000f0"/>
<rect x="279.99" y="107.75" width="2.50" height="2.50" fill="#f000f0"/>
<rect x="283.53" y="103.25" width="2.50" height="2.50" fill="#f000f0"/>
<rect x="287.07" y="99.05" width="2.50" height="2.50" fill="#f000f0"/>
<rect x="290.61" y="99.05" width="2.50" height="2.50" fill="#f000f0"/>
<rect x="294.15" y="96.95" width="2.50" height="2.50" fill="#f000f0"/>
<rect x="297.69" y="95.95" width="2.50" height="2.50" fill="#f000f0"/>
<rect x="301.23" y="95.55" width="2.50" height="2.50" fill="#f000f0"/>
<rect x="304.77" y="95.25" width="2.50" height="2.50" fill="#f000f0"/>
<rect x="308.31" y="95.24" width="2.50" height="2.50" fill="#f000f0"/>
<rect x="311.85" y="95.23" width="2.50" height="2.50" fill="#f000f0"/>
<rect x="315.39" y="95.22" width="2.50" height="2.50" fill="#f000f0"/>
<rect x="318.93" y="95.22" width="2.50" height="2.50" fill="#f000f0"/>
<rect x="322.47" y="95.21" width="2.50" height="2.50" fill="#f000f0"/>
<rect x="326.01" y="95.20" width="2.50" height="2.50" fill="#f000f0"/>
<rect x="329.55" y="95.19" width="2.50" height="2.50" fill="#f000f0"/>
<rect x="333.09" y="95.18" width="2.50" height="2.50" fill="#f000f0"/>
<rect x="336.63" y="95.17" width="2.50" height="2.50" fill="#f000f0"/>
<rect x="340.17" y="95.16" width="2.50" height="2.50" fill="#f000f0"/>
<rect x="343.71" y="95.15" width="2.50" height="2.50" fill="#f000f0"/>
<rect x="347.25" y="95.00" width="2.50" height="2.50" fill="#f000f0"/>
<rect x="350.79" y="94.65" width="2.50" height="2.50" fill="#f000f0"/>
<rect x="354.33" y="94.29" width="2.50" height="2.50" fill="#f000f0"/>
<rect x="357.87" y="93.94" width="2.50" height="2.50" fill="#f000f0"/>
<rect x="361.41" y="93.58" width="2.50" height="2.50" fill="#f000f0"/>
<rect x="364.95" y="93.23" width="2.50" height="2.50" fill="#f000f0"/>
<rect x="368.49" y="93.01" width="2.50" height="2.50" fill="#f000f0"/>
<rect x="372.03" y="92.93" width="2.50" height="2.50" fill="#f000f0"/>
<rect x="375.57" y="92.85" width="2.50" height="2.50" fill="#f000f0"/>
<rect x="379.11" y="92.45" width="2.50" height="2.50" fill="#f000f0"/>
<rect x="382.65" y="92.45" width="2.50" height="2.50" fill="#f000f0"/>
<rect x="386.19" y="91.13" width="2.50" height="2.50" fill="#f000f0"/>
<rect x="389.73" y="89.36" width="2.50" height="2.50" fill="#f000f0"/>
<rect x="393.27" y="89.63" width="2.50" height="2.50" fill="#f000f0"/>
<rect x="396.81" y="86.40" width="2.50" height="2.50" fill="#f000f0"/>
<rect x="400.35" y="83.25" width="2.50" height="2.50" fill="#f000f0"/>
<rect x="403.89" y="83.19" width="2.50" height="2.50" fill="#f000f0"/>
<rect x="407.43" y="78.05" width="2.50" height="2.50" fill="#f000f0"/>
<rect x="410.97" y="77.76" width="2.50" height="2.50" fill="#f000f0"/>
<rect x="414.51" y="69.16" width="2.50" height="2.50" fill="#f000f0"/>
<rect x="418.05" y="58.31" width="2.50" height="2.50" fill="#f000f0"/>
<rect x="421.59" y="56.57" width="2.50" height="2.50" fill="#f000f0"/>
<rect x="425.13" y="40.81" width="2.50" height="2.50" fill="#f000f0"/>
<rect x="428.67" y="26.32" width="2.50" height="2.50" fill="#f000f0"/>
<rect x="432.21" y="25.26" width="2.50" height="2.50" fill="#f000f0"/>
<rect x="435.75" y="8.35" width="2.50" height="2.50" fill="#f000f0"/>
<polyline points="260.00,122.80 263.54,122.00 267.08,119.70 270.62,114.00 274.16,102.40 277.70,102.40 281.24,93.50 284.78,89.10 288.32,89.10 291.86,85.50 295.40,85.00 298.94,82.00 302.48,80.60 306.02,80.60 309.56,79.70 313.10,79.20 316.64,78.80 320.18,78.50 323.72,78.74 327.26,78.81 330.80,78.56 334.34,78.30 337.88,78.05 341.42,77.80 344.96,77.55 348.50,77.18 352.04,76.66 355.58,76.13 359.12,75.61 362.66,75.09 366.20,74.57 369.74,73.85 373.28,72.92 376.82,72.00 380.36,71.49 383.90,70.80 387.44,69.99 390.98,68.86 394.52,67.29 398.06,65.85 401.60,62.85 405.14,61.16 408.68,57.94 412.22,55.22 415.76,46.99 419.30,46.20 422.84,35.65 426.38,22.53 429.92,15.22 433.46,12.79 437.00,6.60" fill="none" stroke="#f6f600" stroke-width="0.7" stroke-linejoin="round"/>
<rect x="258.75" y="121.55" width="2.50" height="2.50" fill="#f6f600"/>
<rect x="262.29" y="120.75" width="2.50" height="2.50" fill="#f6f600"/>
<rect x="265.83" y="118.45" width="2.50" height="2.50" fill="#f6f600"/>
<rect x="269.37" y="112.75" width="2.50" height="2.50" fill="#f6f600"/>
<rect x="272.91" y="101.15" width="2.50" height="2.50" fill="#f6f600"/>
<rect x="276.45" y="101.15" width="2.50" height="2.50" fill="#f6f600"/>
<rect x="279.99" y="92.25" width="2.50" height="2.50" fill="#f6f600"/>
<rect x="283.53" y="87.85" width="2.50" height="2.50" fill="#f6f600"/>
<rect x="287.07" y="87.85" width="2.50" height="2.50" fill="#f6f600"/>
<rect x="290.61" y="84.25" width="2.50" height="2.50" fill="#f6f600"/>
<rect x="294.15" y="83.75" width="2.50" height="2.50" fill="#f6f600"/>
<rect x="297.69" y="80.75" width="2.50" height="2.50" fill="#f6f600"/>
<rect x="301.23" y="79.35" width="2.50" height="2.50" fill="#f6f600"/>
<rect x="304.77" y="79.35" width="2.50" height="2.50" fill="#f6f600"/>
<rect x="308.31" y="78.45" width="2.50" height="2.50" fill="#f6f600"/>
<rect x="311.85" y="77.95" width="2.50" height="2.50" fill="#f6f600"/>
<rect x="315.39" y="77.55" width="2.50" height="2.50" fill="#f6f600"/>
<rect x="318.93" y="77.25" width="2.50" height="2.50" fill="#f6f600"/>
<rect x="322.47" y="77.49" width="2.50" height="2.50" fill="#f6f600"/>
<rect x="326.01" y="77.56" width="2.50" height="2.50" fill="#f6f600"/>
<rect x="329.55" y="77.31" width="2.50" height="2.50" fill="#f6f600"/>
<rect x="333.09" y="77.05" width="2.50" height="2.50" fill="#f6f600"/>
<rect x="336.63" y="76.80" width="2.50" height="2.50" fill="#f6f600"/>
<rect x="340.17" y="76.55" width="2.50" height="2.50" fill="#f6f600"/>
<rect x="343.71" y="76.30" width="2.50" height="2.50" fill="#f6f600"/>
<rect x="347.25" y="75.93" width="2.50" height="2.50" fill="#f6f600"/>
<rect x="350.79" y="75.41" width="2.50" height="2.50" fill="#f6f600"/>
<rect x="354.33" y="74.88" width="2.50" height="2.50" fill="#f6f600"/>
<rect x="357.87" y="74.36" width="2.50" height="2.50" fill="#f6f600"/>
<rect x="361.41" y="73.84" width="2.50" height="2.50" fill="#f6f600"/>
<rect x="364.95" y="73.32" width="2.50" height="2.50" fill="#f6f600"/>
<rect x="368.49" y="72.60" width="2.50" height="2.50" fill="#f6f600"/>
<rect x="372.03" y="71.67" width="2.50" height="2.50" fill="#f6f600"/>
<rect x="375.57" y="70.75" width="2.50" height="2.50" fill="#f6f600"/>
<rect x="379.11" y="70.24" width="2.50" height="2.50" fill="#f6f600"/>
<rect x="382.65" y="69.55" width="2.50" height="2.50" fill="#f6f600"/>
<rect x="386.19" y="68.74" width="2.50" height="2.50" fill="#f6f600"/>
<rect x="389.73" y="67.61" width="2.50" height="2.50" fill="#f6f600"/>
<rect x="393.27" y="66.04" width="2.50" height="2.50" fill="#f6f600"/>
<rect x="396.81" y="64.60" width="2.50" height="2.50" fill="#f6f600"/>
<rect x="400.35" y="61.60" width="2.50" height="2.50" fill="#f6f600"/>
<rect x="403.89" y="59.91" width="2.50" height="2.50" fill="#f6f600"/>
<rect x="407.43" y="56.69" width="2.50" height="2.50" fill="#f6f600"/>
<rect x="410.97" y="53.97" width="2.50" height="2.50" fill="#f6f600"/>
<rect x="414.51" y="45.74" width="2.50" height="2.50" fill="#f6f600"/>
<rect x="418.05" y="44.95" width="2.50" height="2.50" fill="#f6f600"/>
<rect x="421.59" y="34.40" width="2.50" height="2.50" fill="#f6f600"/>
<rect x="425.13" y="21.28" width="2.50" height="2.50" fill="#f6f600"/>
<rect x="428.67" y="13.97" width="2.50" height="2.50" fill="#f6f600"/>
<rect x="432.21" y="11.54" width="2.50" height="2.50" fill="#f6f600"/>
<rect x="435.75" y="5.35" width="2.50" height="2.50" fill="#f6f600"/>
<polyline points="260.00,121.30 263.54,119.90 267.08,111.50 270.62,99.20 274.16,99.20 277.70,88.30 281.24,77.80 284.78,77.10 288.32,71.80 291.86,71.80 295.40,67.60 298.94,64.50 302.48,64.50 306.02,63.10 309.56,62.40 313.10,62.00 316.64,61.40 320.18,61.40 323.72,61.52 327.26,61.54 330.80,61.37 334.34,61.20 337.88,61.03 341.42,60.87 344.96,60.70 348.50,60.37 352.04,59.83 355.58,59.29 359.12,58.75 362.66,58.21 366.20,57.67 369.74,57.10 373.28,56.50 376.82,55.90 380.36,55.18 383.90,54.20 387.44,53.09 390.98,51.90 394.52,51.89 398.06,49.76 401.60,47.30 405.14,47.25 408.68,43.09 412.22,38.30 415.76,38.20 419.30,32.32 422.84,22.70 426.38,22.48 429.92,12.82 433.46,10.33 437.00,6.00" fill="none" stroke="#727200" stroke-width="0.7" stroke-linejoin="round"/>
<rect x="258.75" y="120.05" width="2.50" height="2.50" fill="#727200"/>
<rect x="262.29" y="118.65" width="2.50" height="2.50" fill="#727200"/>
<rect x="265.83" y="110.25" width="2.50" height="2.50" fill="#727200"/>
<rect x="269.37" y="97.95" width="2.50" height="2.50" fill="#727200"/>
<rect x="272.91" y="97.95" width="2.50" height="2.50" fill="#727200"/>
<rect x="276.45" y="87.05" width="2.50" height="2.50" fill="#727200"/>
<rect x="279.99" y="76.55" width="2.50" height="2.50" fill="#727200"/>
<rect x="283.53" y="75.85" width="2.50" height="2.50" fill="#727200"/>
<rect x="287.07" y="70.55" width="2.50" height="2.50" fill="#727200"/>
<rect x="290.61" y="70.55" width="2.50" height="2.50" fill="#727200"/>
<rect x="294.15" y="66.35" width="2.50" height="2.50" fill="#727200"/>
<rect x="297.69" y="63.25" width="2.50" height="2.50" fill="#727200"/>
<rect x="301.23" y="63.25" width="2.50" height="2.50" fill="#727200"/>
<rect x="304.77" y="61.85" width="2.50" height="2.50" fill="#727200"/>
<rect x="308.31" y="61.15" width="2.50" height="2.50" fill="#727200"/>
<rect x="311.85" y="60.75" width="2.50" height="2.50" fill="#727200"/>
<rect x="315.39" y="60.15" width="2.50" height="2.50" fill="#727200"/>
<rect x="318.93" y="60.15" width="2.50" height="2.50" fill="#727200"/>
<rect x="322.47" y="60.27" width="2.50" height="2.50" fill="#727200"/>
<rect x="326.01" y="60.29" width="2.50" height="2.50" fill="#727200"/>
<rect x="329.55" y="60.12" width="2.50" height="2.50" fill="#727200"/>
<rect x="333.09" y="59.95" width="2.50" height="2.50" fill="#727200"/>
<rect x="336.63" y="59.78" width="2.50" height="2.50" fill="#727200"/>
<rect x="340.17" y="59.62" width="2.50" height="2.50" fill="#727200"/>
<rect x="343.71" y="59.45" width="2.50" height="2.50" fill="#727200"/>
<rect x="347.25" y="59.12" width="2.50" height="2.50" fill="#727200"/>
<rect x="350.79" y="58.58" width="2.50" height="2.50" fill="#727200"/>
<rect x="354.33" y="58.04" width="2.50" height="2.50" fill="#727200"/>
<rect x="357.87" y="57.50" width="2.50" height="2.50" fill="#727200"/>
<rect x="361.41" y="56.96" width="2.50" height="2.50" fill="#727200"/>
<rect x="364.95" y="56.42" width="2.50" height="2.50" fill="#727200"/>
<rect x="368.49" y="55.85" width="2.50" height="2.50" fill="#727200"/>
<rect x="372.03" y="55.25" width="2.50" height="2.50" fill="#727200"/>
<rect x="375.57" y="54.65" width="2.50" height="2.50" fill="#727200"/>
<rect x="379.11" y="53.93" width="2.50" height="2.50" fill="#727200"/>
<rect x="382.65" y="52.95" width="2.50" height="2.50" fill="#727200"/>
<rect x="386.19" y="51.84" width="2.50" height="2.50" fill="#727200"/>
<rect x="389.73" y="50.65" width="2.50" height="2.50" fill="#727200"/>
<rect x="393.27" y="50.64" width="2.50" height="2.50" fill="#727200"/>
<rect x="396.81" y="48.51" width="2.50" height="2.50" fill="#727200"/>
<rect x="400.35" y="46.05" width="2.50" height="2.50" fill="#727200"/>
<rect x="403.89" y="46.00" width="2.50" height="2.50" fill="#727200"/>
<rect x="407.43" y="41.84" width="2.50" height="2.50" fill="#727200"/>
<rect x="410.97" y="37.05" width="2.50" height="2.50" fill="#727200"/>
<rect x="414.51" y="36.95" width="2.50" height="2.50" fill="#727200"/>
<rect x="418.05" y="31.07" width="2.50" height="2.50" fill="#727200"/>
<rect x="421.59" y="21.45" width="2.50" height="2.50" fill="#727200"/>
<rect x="425.13" y="21.23" width="2.50" height="2.50" fill="#727200"/>
<rect x="428.67" y="11.57" width="2.50" height="2.50" fill="#727200"/>
<rect x="432.21" y="9.08" width="2.50" height="2.50" fill="#727200"/>
<rect x="435.75" y="4.75" width="2.50" height="2.50" fill="#727200"/>
<polyline points="260.00,124.90 263.54,123.90 267.08,123.50 270.62,117.80 274.16,107.00 277.70,107.00 281.24,93.30 284.78,80.10 288.32,80.10 291.86,69.40 295.40,69.40 298.94,61.00 302.48,56.30 306.02,56.30 309.56,52.60 313.10,50.20 316.64,50.20 320.18,48.80 323.72,47.66 327.26,46.66 330.80,45.94 334.34,45.22 337.88,44.50 341.42,43.78 344.96,43.06 348.50,42.41 352.04,41.89 355.58,41.36 359.12,40.84 362.66,40.32 366.20,39.80 369.74,39.37 373.28,39.09 376.82,38.80 380.36,38.29 383.90,37.80 387.44,37.50 390.98,37.19 394.52,36.69 398.06,35.79 401.60,35.29 405.14,34.99 408.68,34.18 412.22,33.34 415.76,31.70 419.30,31.61 422.84,28.44 426.38,23.50 429.92,23.17 433.46,13.58 437.00,6.30" fill="none" stroke="#000072" stroke-width="0.7" stroke-linejoin="round"/>
<rect x="258.75" y="123.65" width="2.50" height="2.50" fill="#000072"/>
<rect x="262.29" y="122.65" width="2.50" height="2.50" fill="#000072"/>
<rect x="265.83" y="122.25" width="2.50" height="2.50" fill="#000072"/>
<rect x="269.37" y="116.55" width="2.50" height="2.50" fill="#000072"/>
<rect x="272.91" y="105.75" width="2.50" height="2.50" fill="#000072"/>
<rect x="276.45" y="105.75" width="2.50" height="2.50" fill="#000072"/>
<rect x="279.99" y="92.05" width="2.50" height="2.50" fill="#000072"/>
<rect x="283.53" y="78.85" width="2.50" height="2.50" fill="#000072"/>
<rect x="287.07" y="78.85" width="2.50" height="2.50" fill="#000072"/>
<rect x="290.61" y="68.15" width="2.50" height="2.50" fill="#000072"/>
<rect x="294.15" y="68.15" width="2.50" height="2.50" fill="#000072"/>
<rect x="297.69" y="59.75" width="2.50" height="2.50" fill="#000072"/>
<rect x="301.23" y="55.05" width="2.50" height="2.50" fill="#000072"/>
<rect x="304.77" y="55.05" width="2.50" height="2.50" fill="#000072"/>
<rect x="308.31" y="51.35" width="2.50" height="2.50" fill="#000072"/>
<rect x="311.85" y="48.95" width="2.50" height="2.50" fill="#000072"/>
<rect x="315.39" y="48.95" width="2.50" height="2.50" fill="#000072"/>
<rect x="318.93" y="47.55" width="2.50" height="2.50" fill="#000072"/>
<rect x="322.47" y="46.41" width="2.50" height="2.50" fill="#000072"/>
<rect x="326.01" y="45.41" width="2.50" height="2.50" fill="#000072"/>
<rect x="329.55" y="44.69" width="2.50" height="2.50" fill="#000072"/>
<rect x="333.09" y="43.97" width="2.50" height="2.50" fill="#000072"/>
<rect x="336.63" y="43.25" width="2.50" height="2.50" fill="#000072"/>
<rect x="340.17" y="42.53" width="2.50" height="2.50" fill="#000072"/>
<rect x="343.71" y="41.81" width="2.50" height="2.50" fill="#000072"/>
<rect x="347.25" y="41.16" width="2.50" height="2.50" fill="#000072"/>
<rect x="350.79" y="40.64" width="2.50" height="2.50" fill="#000072"/>
<rect x="354.33" y="40.11" width="2.50" height="2.50" fill="#000072"/>
<rect x="357.87" y="39.59" width="2.50" height="2.50" fill="#000072"/>
<rect x="361.41" y="39.07" width="2.50" height="2.50" fill="#000072"/>
<rect x="364.95" y="38.55" width="2.50" height="2.50" fill="#000072"/>
<rect x="368.49" y="38.12" width="2.50" height="2.50" fill="#000072"/>
<rect x="372.03" y="37.84" width="2.50" height="2.50" fill="#000072"/>
<rect x="375.57" y="37.55" width="2.50" height="2.50" fill="#000072"/>
<rect x="379.11" y="37.04" width="2.50" height="2.50" fill="#000072"/>
<rect x="382.65" y="36.55" width="2.50" height="2.50" fill="#000072"/>
<rect x="386.19" y="36.25" width="2.50" height="2.50" fill="#000072"/>
<rect x="389.73" y="35.94" width="2.50" height="2.50" fill="#000072"/>
<rect x="393.27" y="35.44" width="2.50" height="2.50" fill="#000072"/>
<rect x="396.81" y="34.54" width="2.50" height="2.50" fill="#000072"/>
<rect x="400.35" y="34.04" width="2.50" height="2.50" fill="#000072"/>
<rect x="403.89" y="33.74" width="2.50" height="2.50" fill="#000072"/>
<rect x="407.43" y="32.93" width="2.50" height="2.50" fill="#000072"/>
<rect x="410.97" y="32.09" width="2.50" height="2.50" fill="#000072"/>
<rect x="414.51" y="30.45" width="2.50" height="2.50" fill="#000072"/>
<rect x="418.05" y="30.36" width="2.50" height="2.50" fill="#000072"/>
<rect x="421.59" y="27.19" width="2.50" height="2.50" fill="#000072"/>
<rect x="425.13" y="22.25" width="2.50" height="2.50" fill="#000072"/>
<rect x="428.67" y="21.92" width="2.50" height="2.50" fill="#000072"/>
<rect x="432.21" y="12.33" width="2.50" height="2.50" fill="#000072"/>
<rect x="435.75" y="5.05" width="2.50" height="2.50" fill="#000072"/>
</g>
<g clip-path="url(#cp3)">
<polyline points="495.00,127.20 498.54,127.20 502.08,124.90 505.62,122.00 509.16,121.10 512.70,118.80 516.24,116.00 519.78,116.00 523.32,115.00 526.86,114.30 530.40,113.60 533.94,112.90 537.48,112.90 541.02,112.90 544.56,112.90 548.10,112.90 551.64,112.85 555.18,112.75 558.72,112.64 562.26,112.54 565.80,112.43 569.34,112.33 572.88,112.22 576.42,112.11 579.96,112.01 583.50,111.90 587.04,111.80 590.58,111.56 594.12,111.33 597.66,111.09 601.20,110.85 604.74,110.62 608.28,110.36 611.82,109.79 615.36,108.60 618.90,108.60 622.44,107.19 625.98,106.20 629.52,106.18 633.06,103.33 636.60,99.60 640.14,99.54 643.68,94.06 647.22,83.80 650.76,83.53 654.30,67.74 657.84,48.20 661.38,47.73 664.92,27.57 668.46,26.51 672.00,9.60" fill="none" stroke="#0000ee" stroke-width="0.7" stroke-linejoin="round"/>
<rect x="493.75" y="125.95" width="2.50" height="2.50" fill="#0000ee"/>
<rect x="497.29" y="125.95" width="2.50" height="2.50" fill="#0000ee"/>
<rect x="500.83" y="123.65" width="2.50" height="2.50" fill="#0000ee"/>
<rect x="504.37" y="120.75" width="2.50" height="2.50" fill="#0000ee"/>
<rect x="507.91" y="119.85" width="2.50" height="2.50" fill="#0000ee"/>
<rect x="511.45" y="117.55" width="2.50" height="2.50" fill="#0000ee"/>
<rect x="514.99" y="114.75" width="2.50" height="2.50" fill="#0000ee"/>
<rect x="518.53" y="114.75" width="2.50" height="2.50" fill="#0000ee"/>
<rect x="522.07" y="113.75" width="2.50" height="2.50" fill="#0000ee"/>
<rect x="525.61" y="113.05" width="2.50" height="2.50" fill="#0000ee"/>
<rect x="529.15" y="112.35" width="2.50" height="2.50" fill="#0000ee"/>
<rect x="532.69" y="111.65" width="2.50" height="2.50" fill="#0000ee"/>
<rect x="536.23" y="111.65" width="2.50" height="2.50" fill="#0000ee"/>
<rect x="539.77" y="111.65" width="2.50" height="2.50" fill="#0000ee"/>
<rect x="543.31" y="111.65" width="2.50" height="2.50" fill="#0000ee"/>
<rect x="546.85" y="111.65" width="2.50" height="2.50" fill="#0000ee"/>
<rect x="550.39" y="111.60" width="2.50" height="2.50" fill="#0000ee"/>
<rect x="553.93" y="111.50" width="2.50" height="2.50" fill="#0000ee"/>
<rect x="557.47" y="111.39" width="2.50" height="2.50" fill="#0000ee"/>
<rect x="561.01" y="111.29" width="2.50" height="2.50" fill="#0000ee"/>
<rect x="564.55" y="111.18" width="2.50" height="2.50" fill="#0000ee"/>
<rect x="568.09" y="111.08" width="2.50" height="2.50" fill="#0000ee"/>
<rect x="571.63" y="110.97" width="2.50" height="2.50" fill="#0000ee"/>
<rect x="575.17" y="110.86" width="2.50" height="2.50" fill="#0000ee"/>
<rect x="578.71" y="110.76" width="2.50" height="2.50" fill="#0000ee"/>
<rect x="582.25" y="110.65" width="2.50" height="2.50" fill="#0000ee"/>
<rect x="585.79" y="110.55" width="2.50" height="2.50" fill="#0000ee"/>
<rect x="589.33" y="110.31" width="2.50" height="2.50" fill="#0000ee"/>
<rect x="592.87" y="110.08" width="2.50" height="2.50" fill="#0000ee"/>
<rect x="596.41" y="109.84" width="2.50" height="2.50" fill="#0000ee"/>
<rect x="599.95" y="109.60" width="2.50" height="2.50" fill="#0000ee"/>
<rect x="603.49" y="109.37" width="2.50" height="2.50" fill="#0000ee"/>
<rect x="607.03" y="109.11" width="2.50" height="2.50" fill="#0000ee"/>
<rect x="610.57" y="108.54" width="2.50" height="2.50" fill="#0000ee"/>
<rect x="614.11" y="107.35" width="2.50" height="2.50" fill="#0000ee"/>
<rect x="617.65" y="107.35" width="2.50" height="2.50" fill="#0000ee"/>
<rect x="621.19" y="105.94" width="2.50" height="2.50" fill="#0000ee"/>
<rect x="624.73" y="104.95" width="2.50" height="2.50" fill="#0000ee"/>
<rect x="628.27" y="104.93" width="2.50" height="2.50" fill="#0000ee"/>
<rect x="631.81" y="102.08" width="2.50" height="2.50" fill="#0000ee"/>
<rect x="635.35" y="98.35" width="2.50" height="2.50" fill="#0000ee"/>
<rect x="638.89" y="98.29" width="2.50" height="2.50" fill="#0000ee"/>
<rect x="642.43" y="92.81" width="2.50" height="2.50" fill="#0000ee"/>
<rect x="645.97" y="82.55" width="2.50" height="2.50" fill="#0000ee"/>
<rect x="649.51" y="82.28" width="2.50" height="2.50" fill="#0000ee"/>
<rect x="653.05" y="66.49" width="2.50" height="2.50" fill="#0000ee"/>
<rect x="656.59" y="46.95" width="2.50" height="2.50" fill="#0000ee"/>
<rect x="660.13" y="46.48" width="2.50" height="2.50" fill="#0000ee"/>
<rect x="663.67" y="26.32" width="2.50" height="2.50" fill="#0000ee"/>
<rect x="667.21" y="25.26" width="2.50" height="2.50" fill="#0000ee"/>
<rect x="670.75" y="8.35" width="2.50" height="2.50" fill="#0000ee"/>
<polyline points="495.00,122.80 498.54,123.50 502.08,120.60 505.62,119.90 509.16,115.70 512.70,115.70 516.24,112.20 519.78,109.00 523.32,109.00 526.86,106.60 530.40,105.90 533.94,105.60 537.48,105.58 541.02,105.56 544.56,105.53 548.10,105.51 551.64,105.46 555.18,105.39 558.72,105.31 562.26,105.23 565.80,105.16 569.34,105.08 572.88,105.01 576.42,104.93 579.96,104.85 583.50,104.78 587.04,104.70 590.58,104.41 594.12,104.12 597.66,103.84 601.20,103.55 604.74,103.26 608.28,103.03 611.82,103.39 615.36,102.00 618.90,102.00 622.44,100.20 625.98,99.88 629.52,98.79 633.06,97.76 636.60,95.30 640.14,91.80 643.68,91.60 647.22,83.10 650.76,82.93 654.30,72.82 657.84,55.99 661.38,55.11 664.92,38.26 668.46,36.68 672.00,17.80" fill="none" stroke="#00e4e4" stroke-width="0.7" stroke-linejoin="round"/>
<rect x="493.75" y="121.55" width="2.50" height="2.50" fill="#00e4e4"/>
<rect x="497.29" y="122.25" width="2.50" height="2.50" fill="#00e4e4"/>
<rect x="500.83" y="119.35" width="2.50" height="2.50" fill="#00e4e4"/>
<rect x="504.37" y="118.65" width="2.50" height="2.50" fill="#00e4e4"/>
<rect x="507.91" y="114.45" width="2.50" height="2.50" fill="#00e4e4"/>
<rect x="511.45" y="114.45" width="2.50" height="2.50" fill="#00e4e4"/>
<rect x="514.99" y="110.95" width="2.50" height="2.50" fill="#00e4e4"/>
<rect x="518.53" y="107.75" width="2.50" height="2.50" fill="#00e4e4"/>
<rect x="522.07" y="107.75" width="2.50" height="2.50" fill="#00e4e4"/>
<rect x="525.61" y="105.35" width="2.50" height="2.50" fill="#00e4e4"/>
<rect x="529.15" y="104.65" width="2.50" height="2.50" fill="#00e4e4"/>
<rect x="532.69" y="104.35" width="2.50" height="2.50" fill="#00e4e4"/>
<rect x="536.23" y="104.33" width="2.50" height="2.50" fill="#00e4e4"/>
<rect x="539.77" y="104.31" width="2.50" height="2.50" fill="#00e4e4"/>
<rect x="543.31" y="104.28" width="2.50" height="2.50" fill="#00e4e4"/>
<rect x="546.85" y="104.26" width="2.50" height="2.50" fill="#00e4e4"/>
<rect x="550.39" y="104.21" width="2.50" height="2.50" fill="#00e4e4"/>
<rect x="553.93" y="104.14" width="2.50" height="2.50" fill="#00e4e4"/>
<rect x="557.47" y="104.06" width="2.50" height="2.50" fill="#00e4e4"/>
<rect x="561.01" y="103.98" width="2.50" height="2.50" fill="#00e4e4"/>
<rect x="564.55" y="103.91" width="2.50" height="2.50" fill="#00e4e4"/>
<rect x="568.09" y="103.83" width="2.50" height="2.50" fill="#00e4e4"/>
<rect x="571.63" y="103.76" width="2.50" height="2.50" fill="#00e4e4"/>
<rect x="575.17" y="103.68" width="2.50" height="2.50" fill="#00e4e4"/>
<rect x="578.71" y="103.60" width="2.50" height="2.50" fill="#00e4e4"/>
<rect x="582.25" y="103.53" width="2.50" height="2.50" fill="#00e4e4"/>
<rect x="585.79" y="103.45" width="2.50" height="2.50" fill="#00e4e4"/>
<rect x="589.33" y="103.16" width="2.50" height="2.50" fill="#00e4e4"/>
<rect x="592.87" y="102.87" width="2.50" height="2.50" fill="#00e4e4"/>
<rect x="596.41" y="102.59" width="2.50" height="2.50" fill="#00e4e4"/>
<rect x="599.95" y="102.30" width="2.50" height="2.50" fill="#00e4e4"/>
<rect x="603.49" y="102.01" width="2.50" height="2.50" fill="#00e4e4"/>
<rect x="607.03" y="101.78" width="2.50" height="2.50" fill="#00e4e4"/>
<rect x="610.57" y="102.14" width="2.50" height="2.50" fill="#00e4e4"/>
<rect x="614.11" y="100.75" width="2.50" height="2.50" fill="#00e4e4"/>
<rect x="617.65" y="100.75" width="2.50" height="2.50" fill="#00e4e4"/>
<rect x="621.19" y="98.95" width="2.50" height="2.50" fill="#00e4e4"/>
<rect x="624.73" y="98.63" width="2.50" height="2.50" fill="#00e4e4"/>
<rect x="628.27" y="97.54" width="2.50" height="2.50" fill="#00e4e4"/>
<rect x="631.81" y="96.51" width="2.50" height="2.50" fill="#00e4e4"/>
<rect x="635.35" y="94.05" width="2.50" height="2.50" fill="#00e4e4"/>
<rect x="638.89" y="90.55" width="2.50" height="2.50" fill="#00e4e4"/>
<rect x="642.43" y="90.35" width="2.50" height="2.50" fill="#00e4e4"/>
<rect x="645.97" y="81.85" width="2.50" height="2.50" fill="#00e4e4"/>
<rect x="649.51" y="81.68" width="2.50" height="2.50" fill="#00e4e4"/>
<rect x="653.05" y="71.57" width="2.50" height="2.50" fill="#00e4e4"/>
<rect x="656.59" y="54.74" width="2.50" height="2.50" fill="#00e4e4"/>
<rect x="660.13" y="53.86" width="2.50" height="2.50" fill="#00e4e4"/>
<rect x="663.67" y="37.01" width="2.50" height="2.50" fill="#00e4e4"/>
<rect x="667.21" y="35.43" width="2.50" height="2.50" fill="#00e4e4"/>
<rect x="670.75" y="16.55" width="2.50" height="2.50" fill="#00e4e4"/>
<polyline points="495.00,121.30 498.54,120.00 502.08,116.40 505.62,116.40 509.16,110.80 512.70,104.80 516.24,104.80 519.78,100.30 523.32,97.50 526.86,97.50 530.40,96.10 533.94,95.40 537.48,95.18 541.02,94.96 544.56,94.74 548.10,94.52 551.64,94.39 555.18,94.36 558.72,94.33 562.26,94.30 565.80,94.27 569.34,94.24 572.88,94.21 576.42,94.19 579.96,94.16 583.50,94.13 587.04,94.10 590.58,93.83 594.12,93.56 597.66,93.29 601.20,93.02 604.74,92.75 608.28,92.53 611.82,92.90 615.36,92.20 618.90,92.20 622.44,90.78 625.98,88.70 629.52,88.68 633.06,85.13 636.60,81.00 640.14,80.93 643.68,74.46 647.22,64.30 650.76,64.07 654.30,50.12 657.84,33.40 661.38,33.06 664.92,18.57 668.46,17.65 672.00,8.70" fill="none" stroke="#f000f0" stroke-width="0.7" stroke-linejoin="round"/>
<rect x="493.75" y="120.05" width="2.50" height="2.50" fill="#f000f0"/>
<rect x="497.29" y="118.75" width="2.50" height="2.50" fill="#f000f0"/>
<rect x="500.83" y="115.15" width="2.50" height="2.50" fill="#f000f0"/>
<rect x="504.37" y="115.15" width="2.50" height="2.50" fill="#f000f0"/>
<rect x="507.91" y="109.55" width="2.50" height="2.50" fill="#f000f0"/>
<rect x="511.45" y="103.55" width="2.50" height="2.50" fill="#f000f0"/>
<rect x="514.99" y="103.55" width="2.50" height="2.50" fill="#f000f0"/>
<rect x="518.53" y="99.05" width="2.50" height="2.50" fill="#f000f0"/>
<rect x="522.07" y="96.25" width="2.50" height="2.50" fill="#f000f0"/>
<rect x="525.61" y="96.25" width="2.50" height="2.50" fill="#f000f0"/>
<rect x="529.15" y="94.85" width="2.50" height="2.50" fill="#f000f0"/>
<rect x="532.69" y="94.15" width="2.50" height="2.50" fill="#f000f0"/>
<rect x="536.23" y="93.93" width="2.50" height="2.50" fill="#f000f0"/>
<rect x="539.77" y="93.71" width="2.50" height="2.50" fill="#f000f0"/>
<rect x="543.31" y="93.49" width="2.50" height="2.50" fill="#f000f0"/>
<rect x="546.85" y="93.27" width="2.50" height="2.50" fill="#f000f0"/>
<rect x="550.39" y="93.14" width="2.50" height="2.50" fill="#f000f0"/>
<rect x="553.93" y="93.11" width="2.50" height="2.50" fill="#f000f0"/>
<rect x="557.47" y="93.08" width="2.50" height="2.50" fill="#f000f0"/>
<rect x="561.01" y="93.05" width="2.50" height="2.50" fill="#f000f0"/>
<rect x="564.55" y="93.02" width="2.50" height="2.50" fill="#f000f0"/>
<rect x="568.09" y="92.99" width="2.50" height="2.50" fill="#f000f0"/>
<rect x="571.63" y="92.96" width="2.50" height="2.50" fill="#f000f0"/>
<rect x="575.17" y="92.94" width="2.50" height="2.50" fill="#f000f0"/>
<rect x="578.71" y="92.91" width="2.50" height="2.50" fill="#f000f0"/>
<rect x="582.25" y="92.88" width="2.50" height="2.50" fill="#f000f0"/>
<rect x="585.79" y="92.85" width="2.50" height="2.50" fill="#f000f0"/>
<rect x="589.33" y="92.58" width="2.50" height="2.50" fill="#f000f0"/>
<rect x="592.87" y="92.31" width="2.50" height="2.50" fill="#f000f0"/>
<rect x="596.41" y="92.04" width="2.50" height="2.50" fill="#f000f0"/>
<rect x="599.95" y="91.77" width="2.50" height="2.50" fill="#f000f0"/>
<rect x="603.49" y="91.50" width="2.50" height="2.50" fill="#f000f0"/>
<rect x="607.03" y="91.28" width="2.50" height="2.50" fill="#f000f0"/>
<rect x="610.57" y="91.65" width="2.50" height="2.50" fill="#f000f0"/>
<rect x="614.11" y="90.95" width="2.50" height="2.50" fill="#f000f0"/>
<rect x="617.65" y="90.95" width="2.50" height="2.50" fill="#f000f0"/>
<rect x="621.19" y="89.53" width="2.50" height="2.50" fill="#f000f0"/>
<rect x="624.73" y="87.45" width="2.50" height="2.50" fill="#f000f0"/>
<rect x="628.27" y="87.43" width="2.50" height="2.50" fill="#f000f0"/>
<rect x="631.81" y="83.88" width="2.50" height="2.50" fill="#f000f0"/>
<rect x="635.35" y="79.75" width="2.50" height="2.50" fill="#f000f0"/>
<rect x="638.89" y="79.68" width="2.50" height="2.50" fill="#f000f0"/>
<rect x="642.43" y="73.21" width="2.50" height="2.50" fill="#f000f0"/>
<rect x="645.97" y="63.05" width="2.50" height="2.50" fill="#f000f0"/>
<rect x="649.51" y="62.82" width="2.50" height="2.50" fill="#f000f0"/>
<rect x="653.05" y="48.87" width="2.50" height="2.50" fill="#f000f0"/>
<rect x="656.59" y="32.15" width="2.50" height="2.50" fill="#f000f0"/>
<rect x="660.13" y="31.81" width="2.50" height="2.50" fill="#f000f0"/>
<rect x="663.67" y="17.32" width="2.50" height="2.50" fill="#f000f0"/>
<rect x="667.21" y="16.40" width="2.50" height="2.50" fill="#f000f0"/>
<rect x="670.75" y="7.45" width="2.50" height="2.50" fill="#f000f0"/>
<polyline points="495.00,121.30 498.54,117.10 502.08,112.20 505.62,110.10 509.16,100.30 512.70,93.30 516.24,93.30 519.78,86.90 523.32,83.40 526.86,83.40 530.40,79.90 533.94,79.20 537.48,78.90 541.02,78.50 544.56,78.50 548.10,77.91 551.64,77.57 555.18,77.50 558.72,77.44 562.26,77.37 565.80,77.30 569.34,77.03 572.88,76.74 576.42,76.46 579.96,76.17 583.50,75.88 587.04,75.60 590.58,75.17 594.12,74.75 597.66,74.33 601.20,73.91 604.74,73.49 608.28,73.02 611.82,71.99 615.36,70.78 618.90,69.60 622.44,68.48 625.98,66.59 629.52,66.19 633.06,63.99 636.60,63.42 640.14,60.44 643.68,55.49 647.22,54.89 650.76,45.82 654.30,35.50 657.84,35.34 661.38,20.91 664.92,12.89 668.46,12.41 672.00,7.10" fill="none" stroke="#f6f600" stroke-width="0.7" stroke-linejoin="round"/>
<rect x="493.75" y="120.05" width="2.50" height="2.50" fill="#f6f600"/>
<rect x="497.29" y="115.85" width="2.50" height="2.50" fill="#f6f600"/>
<rect x="500.83" y="110.95" width="2.50" height="2.50" fill="#f6f600"/>
<rect x="504.37" y="108.85" width="2.50" height="2.50" fill="#f6f600"/>
<rect x="507.91" y="99.05" width="2.50" height="2.50" fill="#f6f600"/>
<rect x="511.45" y="92.05" width="2.50" height="2.50" fill="#f6f600"/>
<rect x="514.99" y="92.05" width="2.50" height="2.50" fill="#f6f600"/>
<rect x="518.53" y="85.65" width="2.50" height="2.50" fill="#f6f600"/>
<rect x="522.07" y="82.15" width="2.50" height="2.50" fill="#f6f600"/>
<rect x="525.61" y="82.15" width="2.50" height="2.50" fill="#f6f600"/>
<rect x="529.15" y="78.65" width="2.50" height="2.50" fill="#f6f600"/>
<rect x="532.69" y="77.95" width="2.50" height="2.50" fill="#f6f600"/>
<rect x="536.23" y="77.65" width="2.50" height="2.50" fill="#f6f600"/>
<rect x="539.77" y="77.25" width="2.50" height="2.50" fill="#f6f600"/>
<rect x="543.31" y="77.25" width="2.50" height="2.50" fill="#f6f600"/>
<rect x="546.85" y="76.66" width="2.50" height="2.50" fill="#f6f600"/>
<rect x="550.39" y="76.32" width="2.50" height="2.50" fill="#f6f600"/>
<rect x="553.93" y="76.25" width="2.50" height="2.50" fill="#f6f600"/>
<rect x="557.47" y="76.19" width="2.50" height="2.50" fill="#f6f600"/>
<rect x="561.01" y="76.12" width="2.50" height="2.50" fill="#f6f600"/>
<rect x="564.55" y="76.05" width="2.50" height="2.50" fill="#f6f600"/>
<rect x="568.09" y="75.78" width="2.50" height="2.50" fill="#f6f600"/>
<rect x="571.63" y="75.49" width="2.50" height="2.50" fill="#f6f600"/>
<rect x="575.17" y="75.21" width="2.50" height="2.50" fill="#f6f600"/>
<rect x="578.71" y="74.92" width="2.50" height="2.50" fill="#f6f600"/>
<rect x="582.25" y="74.63" width="2.50" height="2.50" fill="#f6f600"/>
<rect x="585.79" y="74.35" width="2.50" height="2.50" fill="#f6f600"/>
<rect x="589.33" y="73.92" width="2.50" height="2.50" fill="#f6f600"/>
<rect x="592.87" y="73.50" width="2.50" height="2.50" fill="#f6f600"/>
<rect x="596.41" y="73.08" width="2.50" height="2.50" fill="#f6f600"/>
<rect x="599.95" y="72.66" width="2.50" height="2.50" fill="#f6f600"/>
<rect x="603.49" y="72.24" width="2.50" height="2.50" fill="#f6f600"/>
<rect x="607.03" y="71.77" width="2.50" height="2.50" fill="#f6f600"/>
<rect x="610.57" y="70.74" width="2.50" height="2.50" fill="#f6f600"/>
<rect x="614.11" y="69.53" width="2.50" height="2.50" fill="#f6f600"/>
<rect x="617.65" y="68.35" width="2.50" height="2.50" fill="#f6f600"/>
<rect x="621.19" y="67.23" width="2.50" height="2.50" fill="#f6f600"/>
<rect x="624.73" y="65.34" width="2.50" height="2.50" fill="#f6f600"/>
<rect x="628.27" y="64.94" width="2.50" height="2.50" fill="#f6f600"/>
<rect x="631.81" y="62.74" width="2.50" height="2.50" fill="#f6f600"/>
<rect x="635.35" y="62.17" width="2.50" height="2.50" fill="#f6f600"/>
<rect x="638.89" y="59.19" width="2.50" height="2.50" fill="#f6f600"/>
<rect x="642.43" y="54.24" width="2.50" height="2.50" fill="#f6f600"/>
<rect x="645.97" y="53.64" width="2.50" height="2.50" fill="#f6f600"/>
<rect x="649.51" y="44.57" width="2.50" height="2.50" fill="#f6f600"/>
<rect x="653.05" y="34.25" width="2.50" height="2.50" fill="#f6f600"/>
<rect x="656.59" y="34.09" width="2.50" height="2.50" fill="#f6f600"/>
<rect x="660.13" y="19.66" width="2.50" height="2.50" fill="#f6f600"/>
<rect x="663.67" y="11.64" width="2.50" height="2.50" fill="#f6f600"/>
<rect x="667.21" y="11.16" width="2.50" height="2.50" fill="#f6f600"/>
<rect x="670.75" y="5.85" width="2.50" height="2.50" fill="#f6f600"/>
<polyline points="495.00,120.60 498.54,115.70 502.08,104.50 505.62,104.50 509.16,92.60 512.70,80.60 516.24,79.90 519.78,71.40 523.32,64.80 526.86,64.80 530.40,61.20 533.94,60.90 537.48,59.80 541.02,58.80 544.56,58.80 548.10,58.15 551.64,57.68 555.18,57.41 558.72,57.15 562.26,56.88 565.80,56.62 569.34,56.27 572.88,55.91 576.42,55.56 579.96,55.20 583.50,54.85 587.04,54.50 590.58,54.07 594.12,53.65 597.66,53.23 601.20,52.81 604.74,52.39 608.28,51.96 611.82,51.40 615.36,50.59 618.90,49.80 622.44,49.00 625.98,48.57 629.52,47.29 633.06,45.99 636.60,45.32 640.14,42.36 643.68,39.09 647.22,38.64 650.76,33.78 654.30,26.80 657.84,26.68 661.38,15.95 664.92,9.59 668.46,9.16 672.00,6.60" fill="none" stroke="#727200" stroke-width="0.7" stroke-linejoin="round"/>
<rect x="493.75" y="119.35" width="2.50" height="2.50" fill="#727200"/>
<rect x="497.29" y="114.45" width="2.50" height="2.50" fill="#727200"/>
<rect x="500.83" y="103.25" width="2.50" height="2.50" fill="#727200"/>
<rect x="504.37" y="103.25" width="2.50" height="2.50" fill="#727200"/>
<rect x="507.91" y="91.35" width="2.50" height="2.50" fill="#727200"/>
<rect x="511.45" y="79.35" width="2.50" height="2.50" fill="#727200"/>
<rect x="514.99" y="78.65" width="2.50" height="2.50" fill="#727200"/>
<rect x="518.53" y="70.15" width="2.50" height="2.50" fill="#727200"/>
<rect x="522.07" y="63.55" width="2.50" height="2.50" fill="#727200"/>
<rect x="525.61" y="63.55" width="2.50" height="2.50" fill="#727200"/>
<rect x="529.15" y="59.95" width="2.50" height="2.50" fill="#727200"/>
<rect x="532.69" y="59.65" width="2.50" height="2.50" fill="#727200"/>
<rect x="536.23" y="58.55" width="2.50" height="2.50" fill="#727200"/>
<rect x="539.77" y="57.55" width="2.50" height="2.50" fill="#727200"/>
<rect x="543.31" y="57.55" width="2.50" height="2.50" fill="#727200"/>
<rect x="546.85" y="56.90" width="2.50" height="2.50" fill="#727200"/>
<rect x="550.39" y="56.43" width="2.50" height="2.50" fill="#727200"/>
<rect x="553.93" y="56.16" width="2.50" height="2.50" fill="#727200"/>
<rect x="557.47" y="55.90" width="2.50" height="2.50" fill="#727200"/>
<rect x="561.01" y="55.63" width="2.50" height="2.50" fill="#727200"/>
<rect x="564.55" y="55.37" width="2.50" height="2.50" fill="#727200"/>
<rect x="568.09" y="55.02" width="2.50" height="2.50" fill="#727200"/>
<rect x="571.63" y="54.66" width="2.50" height="2.50" fill="#727200"/>
<rect x="575.17" y="54.31" width="2.50" height="2.50" fill="#727200"/>
<rect x="578.71" y="53.95" width="2.50" height="2.50" fill="#727200"/>
<rect x="582.25" y="53.60" width="2.50" height="2.50" fill="#727200"/>
<rect x="585.79" y="53.25" width="2.50" height="2.50" fill="#727200"/>
<rect x="589.33" y="52.82" width="2.50" height="2.50" fill="#727200"/>
<rect x="592.87" y="52.40" width="2.50" height="2.50" fill="#727200"/>
<rect x="596.41" y="51.98" width="2.50" height="2.50" fill="#727200"/>
<rect x="599.95" y="51.56" width="2.50" height="2.50" fill="#727200"/>
<rect x="603.49" y="51.14" width="2.50" height="2.50" fill="#727200"/>
<rect x="607.03" y="50.71" width="2.50" height="2.50" fill="#727200"/>
<rect x="610.57" y="50.15" width="2.50" height="2.50" fill="#727200"/>
<rect x="614.11" y="49.34" width="2.50" height="2.50" fill="#727200"/>
<rect x="617.65" y="48.55" width="2.50" height="2.50" fill="#727200"/>
<rect x="621.19" y="47.75" width="2.50" height="2.50" fill="#727200"/>
<rect x="624.73" y="47.32" width="2.50" height="2.50" fill="#727200"/>
<rect x="628.27" y="46.04" width="2.50" height="2.50" fill="#727200"/>
<rect x="631.81" y="44.74" width="2.50" height="2.50" fill="#727200"/>
<rect x="635.35" y="44.07" width="2.50" height="2.50" fill="#727200"/>
<rect x="638.89" y="41.11" width="2.50" height="2.50" fill="#727200"/>
<rect x="642.43" y="37.84" width="2.50" height="2.50" fill="#727200"/>
<rect x="645.97" y="37.39" width="2.50" height="2.50" fill="#727200"/>
<rect x="649.51" y="32.53" width="2.50" height="2.50" fill="#727200"/>
<rect x="653.05" y="25.55" width="2.50" height="2.50" fill="#727200"/>
<rect x="656.59" y="25.43" width="2.50" height="2.50" fill="#727200"/>
<rect x="660.13" y="14.70" width="2.50" height="2.50" fill="#727200"/>
<rect x="663.67" y="8.34" width="2.50" height="2.50" fill="#727200"/>
<rect x="667.21" y="7.91" width="2.50" height="2.50" fill="#727200"/>
<rect x="670.75" y="5.35" width="2.50" height="2.50" fill="#727200"/>
<polyline points="495.00,119.70 498.54,119.70 502.08,109.40 505.62,95.80 509.16,95.80 512.70,80.80 516.24,68.20 519.78,68.20 523.32,59.50 526.86,52.80 530.40,52.80 533.94,48.30 537.48,45.70 541.02,45.70 544.56,44.00 548.10,43.61 551.64,43.03 555.18,42.24 558.72,41.45 562.26,40.66 565.80,39.87 569.34,39.31 572.88,38.77 576.42,38.23 579.96,37.70 583.50,37.16 587.04,36.62 590.58,36.08 594.12,35.55 597.66,35.01 601.20,34.47 604.74,33.93 608.28,33.40 611.82,33.40 615.36,32.89 618.90,32.60 622.44,32.19 625.98,31.69 629.52,31.20 633.06,30.58 636.60,29.57 640.14,28.50 643.68,28.44 647.22,26.00 650.76,25.92 654.30,21.25 657.84,16.10 661.38,15.66 664.92,9.57 668.46,8.66 672.00,6.30" fill="none" stroke="#000072" stroke-width="0.7" stroke-linejoin="round"/>
<rect x="493.75" y="118.45" width="2.50" height="2.50" fill="#000072"/>
<rect x="497.29" y="118.45" width="2.50" height="2.50" fill="#000072"/>
<rect x="500.83" y="108.15" width="2.50" height="2.50" fill="#000072"/>
<rect x="504.37" y="94.55" width="2.50" height="2.50" fill="#000072"/>
<rect x="507.91" y="94.55" width="2.50" height="2.50" fill="#000072"/>
<rect x="511.45" y="79.55" width="2.50" height="2.50" fill="#000072"/>
<rect x="514.99" y="66.95" width="2.50" height="2.50" fill="#000072"/>
<rect x="518.53" y="66.95" width="2.50" height="2.50" fill="#000072"/>
<rect x="522.07" y="58.25" width="2.50" height="2.50" fill="#000072"/>
<rect x="525.61" y="51.55" width="2.50" height="2.50" fill="#000072"/>
<rect x="529.15" y="51.55" width="2.50" height="2.50" fill="#000072"/>
<rect x="532.69" y="47.05" width="2.50" height="2.50" fill="#000072"/>
<rect x="536.23" y="44.45" width="2.50" height="2.50" fill="#000072"/>
<rect x="539.77" y="44.45" width="2.50" height="2.50" fill="#000072"/>
<rect x="543.31" y="42.75" width="2.50" height="2.50" fill="#000072"/>
<rect x="546.85" y="42.36" width="2.50" height="2.50" fill="#000072"/>
<rect x="550.39" y="41.78" width="2.50" height="2.50" fill="#000072"/>
<rect x="553.93" y="40.99" width="2.50" height="2.50" fill="#000072"/>
<rect x="557.47" y="40.20" width="2.50" height="2.50" fill="#000072"/>
<rect x="561.01" y="39.41" width="2.50" height="2.50" fill="#000072"/>
<rect x="564.55" y="38.62" width="2.50" height="2.50" fill="#000072"/>
<rect x="568.09" y="38.06" width="2.50" height="2.50" fill="#000072"/>
<rect x="571.63" y="37.52" width="2.50" height="2.50" fill="#000072"/>
<rect x="575.17" y="36.98" width="2.50" height="2.50" fill="#000072"/>
<rect x="578.71" y="36.45" width="2.50" height="2.50" fill="#000072"/>
<rect x="582.25" y="35.91" width="2.50" height="2.50" fill="#000072"/>
<rect x="585.79" y="35.37" width="2.50" height="2.50" fill="#000072"/>
<rect x="589.33" y="34.83" width="2.50" height="2.50" fill="#000072"/>
<rect x="592.87" y="34.30" width="2.50" height="2.50" fill="#000072"/>
<rect x="596.41" y="33.76" width="2.50" height="2.50" fill="#000072"/>
<rect x="599.95" y="33.22" width="2.50" height="2.50" fill="#000072"/>
<rect x="603.49" y="32.68" width="2.50" height="2.50" fill="#000072"/>
<rect x="607.03" y="32.15" width="2.50" height="2.50" fill="#000072"/>
<rect x="610.57" y="32.15" width="2.50" height="2.50" fill="#000072"/>
<rect x="614.11" y="31.64" width="2.50" height="2.50" fill="#000072"/>
<rect x="617.65" y="31.35" width="2.50" height="2.50" fill="#000072"/>
<rect x="621.19" y="30.94" width="2.50" height="2.50" fill="#000072"/>
<rect x="624.73" y="30.44" width="2.50" height="2.50" fill="#000072"/>
<rect x="628.27" y="29.95" width="2.50" height="2.50" fill="#000072"/>
<rect x="631.81" y="29.33" width="2.50" height="2.50" fill="#000072"/>
<rect x="635.35" y="28.32" width="2.50" height="2.50" fill="#000072"/>
<rect x="638.89" y="27.25" width="2.50" height="2.50" fill="#000072"/>
<rect x="642.43" y="27.19" width="2.50" height="2.50" fill="#000072"/>
<rect x="645.97" y="24.75" width="2.50" height="2.50" fill="#000072"/>
<rect x="649.51" y="24.67" width="2.50" height="2.50" fill="#000072"/>
<rect x="653.05" y="20.00" width="2.50" height="2.50" fill="#000072"/>
<rect x="656.59" y="14.85" width="2.50" height="2.50" fill="#000072"/>
<rect x="660.13" y="14.41" width="2.50" height="2.50" fill="#000072"/>
<rect x="663.67" y="8.32" width="2.50" height="2.50" fill="#000072"/>
<rect x="667.21" y="7.41" width="2.50" height="2.50" fill="#000072"/>
<rect x="670.75" y="5.05" width="2.50" height="2.50" fill="#000072"/>
</g>
<g clip-path="url(#cp4)">
<polyline points="28.50,343.00 32.04,341.90 35.58,341.90 39.13,342.70 42.67,342.70 46.21,345.00 49.75,346.58 53.29,347.10 56.84,348.61 60.38,349.59 63.92,350.20 67.46,350.40 71.00,350.50 74.55,350.50 78.09,350.50 81.63,350.50 85.17,350.50 88.71,350.50 92.26,350.50 95.80,350.50 99.34,350.50 102.88,350.50 106.42,350.50 109.97,350.50 113.51,350.50 117.05,350.50 120.59,350.50 124.13,350.50 127.68,350.50 131.22,350.50 134.76,350.50 138.30,350.50 141.84,350.50 145.39,350.50 148.93,350.50 152.47,350.50 156.01,350.50 159.55,349.71 163.10,349.10 166.64,348.90 170.18,348.90 173.72,347.49 177.26,346.61 180.81,345.40 184.35,344.86 187.89,341.91 191.43,341.90 194.97,341.40 198.52,342.61 202.06,344.37 205.60,342.60" fill="none" stroke="#0000ee" stroke-width="0.7" stroke-linejoin="round"/>
<rect x="27.25" y="341.75" width="2.50" height="2.50" fill="#0000ee"/>
<rect x="30.79" y="340.65" width="2.50" height="2.50" fill="#0000ee"/>
<rect x="34.33" y="340.65" width="2.50" height="2.50" fill="#0000ee"/>
<rect x="37.88" y="341.45" width="2.50" height="2.50" fill="#0000ee"/>
<rect x="41.42" y="341.45" width="2.50" height="2.50" fill="#0000ee"/>
<rect x="44.96" y="343.75" width="2.50" height="2.50" fill="#0000ee"/>
<rect x="48.50" y="345.33" width="2.50" height="2.50" fill="#0000ee"/>
<rect x="52.04" y="345.85" width="2.50" height="2.50" fill="#0000ee"/>
<rect x="55.59" y="347.36" width="2.50" height="2.50" fill="#0000ee"/>
<rect x="59.13" y="348.34" width="2.50" height="2.50" fill="#0000ee"/>
<rect x="62.67" y="348.95" width="2.50" height="2.50" fill="#0000ee"/>
<rect x="66.21" y="349.15" width="2.50" height="2.50" fill="#0000ee"/>
<rect x="69.75" y="349.25" width="2.50" height="2.50" fill="#0000ee"/>
<rect x="73.30" y="349.25" width="2.50" height="2.50" fill="#0000ee"/>
<rect x="76.84" y="349.25" width="2.50" height="2.50" fill="#0000ee"/>
<rect x="80.38" y="349.25" width="2.50" height="2.50" fill="#0000ee"/>
<rect x="83.92" y="349.25" width="2.50" height="2.50" fill="#0000ee"/>
<rect x="87.46" y="349.25" width="2.50" height="2.50" fill="#0000ee"/>
<rect x="91.01" y="349.25" width="2.50" height="2.50" fill="#0000ee"/>
<rect x="94.55" y="349.25" width="2.50" height="2.50" fill="#0000ee"/>
<rect x="98.09" y="349.25" width="2.50" height="2.50" fill="#0000ee"/>
<rect x="101.63" y="349.25" width="2.50" height="2.50" fill="#0000ee"/>
<rect x="105.17" y="349.25" width="2.50" height="2.50" fill="#0000ee"/>
<rect x="108.72" y="349.25" width="2.50" height="2.50" fill="#0000ee"/>
<rect x="112.26" y="349.25" width="2.50" height="2.50" fill="#0000ee"/>
<rect x="115.80" y="349.25" width="2.50" height="2.50" fill="#0000ee"/>
<rect x="119.34" y="349.25" width="2.50" height="2.50" fill="#0000ee"/>
<rect x="122.88" y="349.25" width="2.50" height="2.50" fill="#0000ee"/>
<rect x="126.43" y="349.25" width="2.50" height="2.50" fill="#0000ee"/>
<rect x="129.97" y="349.25" width="2.50" height="2.50" fill="#0000ee"/>
<rect x="133.51" y="349.25" width="2.50" height="2.50" fill="#0000ee"/>
<rect x="137.05" y="349.25" width="2.50" height="2.50" fill="#0000ee"/>
<rect x="140.59" y="349.25" width="2.50" height="2.50" fill="#0000ee"/>
<rect x="144.14" y="349.25" width="2.50" height="2.50" fill="#0000ee"/>
<rect x="147.68" y="349.25" width="2.50" height="2.50" fill="#0000ee"/>
<rect x="151.22" y="349.25" width="2.50" height="2.50" fill="#0000ee"/>
<rect x="154.76" y="349.25" width="2.50" height="2.50" fill="#0000ee"/>
<rect x="158.30" y="348.46" width="2.50" height="2.50" fill="#0000ee"/>
<rect x="161.85" y="347.85" width="2.50" height="2.50" fill="#0000ee"/>
<rect x="165.39" y="347.65" width="2.50" height="2.50" fill="#0000ee"/>
<rect x="168.93" y="347.65" width="2.50" height="2.50" fill="#0000ee"/>
<rect x="172.47" y="346.24" width="2.50" height="2.50" fill="#0000ee"/>
<rect x="176.01" y="345.36" width="2.50" height="2.50" fill="#0000ee"/>
<rect x="179.56" y="344.15" width="2.50" height="2.50" fill="#0000ee"/>
<rect x="183.10" y="343.61" width="2.50" height="2.50" fill="#0000ee"/>
<rect x="186.64" y="340.66" width="2.50" height="2.50" fill="#0000ee"/>
<rect x="190.18" y="340.65" width="2.50" height="2.50" fill="#0000ee"/>
<rect x="193.72" y="340.15" width="2.50" height="2.50" fill="#0000ee"/>
<rect x="197.27" y="341.36" width="2.50" height="2.50" fill="#0000ee"/>
<rect x="200.81" y="343.12" width="2.50" height="2.50" fill="#0000ee"/>
<rect x="204.35" y="341.35" width="2.50" height="2.50" fill="#0000ee"/>
<polyline points="28.50,344.00 32.04,343.02 35.58,344.99 39.13,351.16 42.67,346.05 46.21,351.19 49.75,349.13 53.29,350.20 56.84,350.70 60.38,350.80 63.92,350.87 67.46,350.95 71.00,351.00 74.55,351.00 78.09,351.00 81.63,351.00 85.17,351.00 88.71,351.00 92.26,351.00 95.80,351.00 99.34,351.00 102.88,350.79 106.42,350.52 109.97,350.26 113.51,350.00 117.05,348.48 120.59,347.30 124.13,346.20 127.68,345.70 131.22,345.19 134.76,343.32 138.30,342.00 141.84,342.36 145.39,339.21 148.93,337.62 152.47,339.98 156.01,336.00 159.55,335.21 163.10,338.90 166.64,334.49 170.18,333.31 173.72,340.55 177.26,331.99 180.81,331.60 184.35,331.58 187.89,330.20 191.43,349.87 194.97,335.51 198.52,349.98 202.06,345.69 205.60,345.00" fill="none" stroke="#00e4e4" stroke-width="0.7" stroke-linejoin="round"/>
<circle cx="28.50" cy="344.00" r="1.44" fill="#00e4e4"/>
<circle cx="32.04" cy="343.02" r="1.44" fill="#00e4e4"/>
<circle cx="35.58" cy="344.99" r="1.44" fill="#00e4e4"/>
<circle cx="39.13" cy="351.16" r="1.44" fill="#00e4e4"/>
<circle cx="42.67" cy="346.05" r="1.44" fill="#00e4e4"/>
<circle cx="46.21" cy="351.19" r="1.44" fill="#00e4e4"/>
<circle cx="49.75" cy="349.13" r="1.44" fill="#00e4e4"/>
<circle cx="53.29" cy="350.20" r="1.44" fill="#00e4e4"/>
<circle cx="56.84" cy="350.70" r="1.44" fill="#00e4e4"/>
<circle cx="60.38" cy="350.80" r="1.44" fill="#00e4e4"/>
<circle cx="63.92" cy="350.87" r="1.44" fill="#00e4e4"/>
<circle cx="67.46" cy="350.95" r="1.44" fill="#00e4e4"/>
<circle cx="71.00" cy="351.00" r="1.44" fill="#00e4e4"/>
<circle cx="74.55" cy="351.00" r="1.44" fill="#00e4e4"/>
<circle cx="78.09" cy="351.00" r="1.44" fill="#00e4e4"/>
<circle cx="81.63" cy="351.00" r="1.44" fill="#00e4e4"/>
<circle cx="85.17" cy="351.00" r="1.44" fill="#00e4e4"/>
<circle cx="88.71" cy="351.00" r="1.44" fill="#00e4e4"/>
<circle cx="92.26" cy="351.00" r="1.44" fill="#00e4e4"/>
<circle cx="95.80" cy="351.00" r="1.44" fill="#00e4e4"/>
<circle cx="99.34" cy="351.00" r="1.44" fill="#00e4e4"/>
<circle cx="102.88" cy="350.79" r="1.44" fill="#00e4e4"/>
<circle cx="106.42" cy="350.52" r="1.44" fill="#00e4e4"/>
<circle cx="109.97" cy="350.26" r="1.44" fill="#00e4e4"/>
<circle cx="113.51" cy="350.00" r="1.44" fill="#00e4e4"/>
<circle cx="117.05" cy="348.48" r="1.44" fill="#00e4e4"/>
<circle cx="120.59" cy="347.30" r="1.44" fill="#00e4e4"/>
<circle cx="124.13" cy="346.20" r="1.44" fill="#00e4e4"/>
<circle cx="127.68" cy="345.70" r="1.44" fill="#00e4e4"/>
<circle cx="131.22" cy="345.19" r="1.44" fill="#00e4e4"/>
<circle cx="134.76" cy="343.32" r="1.44" fill="#00e4e4"/>
<circle cx="138.30" cy="342.00" r="1.44" fill="#00e4e4"/>
<circle cx="141.84" cy="342.36" r="1.44" fill="#00e4e4"/>
<circle cx="145.39" cy="339.21" r="1.44" fill="#00e4e4"/>
<circle cx="148.93" cy="337.62" r="1.44" fill="#00e4e4"/>
<circle cx="152.47" cy="339.98" r="1.44" fill="#00e4e4"/>
<circle cx="156.01" cy="336.00" r="1.44" fill="#00e4e4"/>
<circle cx="159.55" cy="335.21" r="1.44" fill="#00e4e4"/>
<circle cx="163.10" cy="338.90" r="1.44" fill="#00e4e4"/>
<circle cx="166.64" cy="334.49" r="1.44" fill="#00e4e4"/>
<circle cx="170.18" cy="333.31" r="1.44" fill="#00e4e4"/>
<circle cx="173.72" cy="340.55" r="1.44" fill="#00e4e4"/>
<circle cx="177.26" cy="331.99" r="1.44" fill="#00e4e4"/>
<circle cx="180.81" cy="331.60" r="1.44" fill="#00e4e4"/>
<circle cx="184.35" cy="331.58" r="1.44" fill="#00e4e4"/>
<circle cx="187.89" cy="330.20" r="1.44" fill="#00e4e4"/>
<circle cx="191.43" cy="349.87" r="1.44" fill="#00e4e4"/>
<circle cx="194.97" cy="335.51" r="1.44" fill="#00e4e4"/>
<circle cx="198.52" cy="349.98" r="1.44" fill="#00e4e4"/>
<circle cx="202.06" cy="345.69" r="1.44" fill="#00e4e4"/>
<circle cx="205.60" cy="345.00" r="1.44" fill="#00e4e4"/>
<polyline points="28.50,334.20 32.04,330.58 35.58,328.51 39.13,334.65 42.67,327.56 46.21,329.62 49.75,337.69 53.29,332.71 56.84,338.80 60.38,338.30 63.92,334.71 67.46,337.27 71.00,336.00 74.55,334.19 78.09,333.80 81.63,332.70 85.17,332.70 88.71,332.00 92.26,331.21 95.80,330.20 99.34,329.70 102.88,329.30 106.42,328.69 109.97,327.51 113.51,326.70 117.05,325.69 120.59,324.70 124.13,322.18 127.68,320.61 131.22,320.88 134.76,317.44 138.30,318.20 141.84,314.89 145.39,314.10 148.93,311.71 152.47,312.49 156.01,307.31 159.55,309.27 163.10,308.70 166.64,305.84 170.18,309.38 173.72,308.48 177.26,306.03 180.81,310.29 184.35,304.22 187.89,305.60 191.43,328.27 194.97,313.81 198.52,324.20 202.06,344.86 205.60,342.30" fill="none" stroke="#f000f0" stroke-width="0.7" stroke-linejoin="round"/>
<path d="M28.50 332.32L30.25 335.57L26.75 335.57Z" fill="#f000f0"/>
<path d="M32.04 328.70L33.79 331.95L30.29 331.95Z" fill="#f000f0"/>
<path d="M35.58 326.63L37.33 329.88L33.83 329.88Z" fill="#f000f0"/>
<path d="M39.13 332.77L40.88 336.02L37.38 336.02Z" fill="#f000f0"/>
<path d="M42.67 325.69L44.42 328.94L40.92 328.94Z" fill="#f000f0"/>
<path d="M46.21 327.75L47.96 331.00L44.46 331.00Z" fill="#f000f0"/>
<path d="M49.75 335.82L51.50 339.07L48.00 339.07Z" fill="#f000f0"/>
<path d="M53.29 330.83L55.04 334.08L51.54 334.08Z" fill="#f000f0"/>
<path d="M56.84 336.92L58.59 340.17L55.09 340.17Z" fill="#f000f0"/>
<path d="M60.38 336.43L62.13 339.68L58.63 339.68Z" fill="#f000f0"/>
<path d="M63.92 332.84L65.67 336.09L62.17 336.09Z" fill="#f000f0"/>
<path d="M67.46 335.40L69.21 338.65L65.71 338.65Z" fill="#f000f0"/>
<path d="M71.00 334.12L72.75 337.37L69.25 337.37Z" fill="#f000f0"/>
<path d="M74.55 332.32L76.30 335.57L72.80 335.57Z" fill="#f000f0"/>
<path d="M78.09 331.93L79.84 335.18L76.34 335.18Z" fill="#f000f0"/>
<path d="M81.63 330.82L83.38 334.07L79.88 334.07Z" fill="#f000f0"/>
<path d="M85.17 330.82L86.92 334.07L83.42 334.07Z" fill="#f000f0"/>
<path d="M88.71 330.12L90.46 333.37L86.96 333.37Z" fill="#f000f0"/>
<path d="M92.26 329.33L94.01 332.58L90.51 332.58Z" fill="#f000f0"/>
<path d="M95.80 328.33L97.55 331.58L94.05 331.58Z" fill="#f000f0"/>
<path d="M99.34 327.82L101.09 331.07L97.59 331.07Z" fill="#f000f0"/>
<path d="M102.88 327.43L104.63 330.68L101.13 330.68Z" fill="#f000f0"/>
<path d="M106.42 326.82L108.17 330.07L104.67 330.07Z" fill="#f000f0"/>
<path d="M109.97 325.64L111.72 328.89L108.22 328.89Z" fill="#f000f0"/>
<path d="M113.51 324.82L115.26 328.07L111.76 328.07Z" fill="#f000f0"/>
<path d="M117.05 323.81L118.80 327.06L115.30 327.06Z" fill="#f000f0"/>
<path d="M120.59 322.83L122.34 326.08L118.84 326.08Z" fill="#f000f0"/>
<path d="M124.13 320.31L125.88 323.56L122.38 323.56Z" fill="#f000f0"/>
<path d="M127.68 318.74L129.43 321.99L125.93 321.99Z" fill="#f000f0"/>
<path d="M131.22 319.01L132.97 322.26L129.47 322.26Z" fill="#f000f0"/>
<path d="M134.76 315.56L136.51 318.81L133.01 318.81Z" fill="#f000f0"/>
<path d="M138.30 316.32L140.05 319.57L136.55 319.57Z" fill="#f000f0"/>
<path d="M141.84 313.02L143.59 316.27L140.09 316.27Z" fill="#f000f0"/>
<path d="M145.39 312.23L147.14 315.48L143.64 315.48Z" fill="#f000f0"/>
<path d="M148.93 309.83L150.68 313.08L147.18 313.08Z" fill="#f000f0"/>
<path d="M152.47 310.62L154.22 313.87L150.72 313.87Z" fill="#f000f0"/>
<path d="M156.01 305.43L157.76 308.68L154.26 308.68Z" fill="#f000f0"/>
<path d="M159.55 307.40L161.30 310.65L157.80 310.65Z" fill="#f000f0"/>
<path d="M163.10 306.83L164.85 310.08L161.35 310.08Z" fill="#f000f0"/>
<path d="M166.64 303.96L168.39 307.21L164.89 307.21Z" fill="#f000f0"/>
<path d="M170.18 307.50L171.93 310.75L168.43 310.75Z" fill="#f000f0"/>
<path d="M173.72 306.61L175.47 309.86L171.97 309.86Z" fill="#f000f0"/>
<path d="M177.26 304.15L179.01 307.40L175.51 307.40Z" fill="#f000f0"/>
<path d="M180.81 308.41L182.56 311.66L179.06 311.66Z" fill="#f000f0"/>
<path d="M184.35 302.34L186.10 305.59L182.60 305.59Z" fill="#f000f0"/>
<path d="M187.89 303.72L189.64 306.97L186.14 306.97Z" fill="#f000f0"/>
<path d="M191.43 326.39L193.18 329.64L189.68 329.64Z" fill="#f000f0"/>
<path d="M194.97 311.93L196.72 315.18L193.22 315.18Z" fill="#f000f0"/>
<path d="M198.52 322.32L200.27 325.57L196.77 325.57Z" fill="#f000f0"/>
<path d="M202.06 342.98L203.81 346.23L200.31 346.23Z" fill="#f000f0"/>
<path d="M205.60 340.43L207.35 343.68L203.85 343.68Z" fill="#f000f0"/>
<polyline points="28.50,335.20 32.04,331.65 35.58,336.28 39.13,337.72 42.67,327.10 46.21,335.70 49.75,336.79 53.29,329.61 56.84,339.84 60.38,334.23 63.92,331.61 67.46,333.68 71.00,332.40 74.55,330.49 78.09,329.70 81.63,329.30 85.17,328.70 88.71,328.20 92.26,327.51 95.80,327.20 99.34,326.69 102.88,326.00 106.42,325.20 109.97,324.51 113.51,323.70 117.05,322.67 120.59,320.21 124.13,318.19 127.68,317.41 131.22,315.69 134.76,313.33 138.30,314.10 141.84,310.88 145.39,309.31 148.93,308.49 152.47,307.71 156.01,304.41 159.55,306.77 163.10,305.20 166.64,301.45 170.18,305.97 173.72,306.01 177.26,307.68 180.81,307.69 184.35,301.93 187.89,326.63 191.43,328.29 194.97,315.59 198.52,338.83 202.06,345.59 205.60,338.80" fill="none" stroke="#f6f600" stroke-width="0.7" stroke-linejoin="round"/>
<path d="M28.50 337.07L30.25 333.82L26.75 333.82Z" fill="#f6f600"/>
<path d="M32.04 333.53L33.79 330.28L30.29 330.28Z" fill="#f6f600"/>
<path d="M35.58 338.15L37.33 334.90L33.83 334.90Z" fill="#f6f600"/>
<path d="M39.13 339.60L40.88 336.35L37.38 336.35Z" fill="#f6f600"/>
<path d="M42.67 328.97L44.42 325.72L40.92 325.72Z" fill="#f6f600"/>
<path d="M46.21 337.58L47.96 334.33L44.46 334.33Z" fill="#f6f600"/>
<path d="M49.75 338.66L51.50 335.41L48.00 335.41Z" fill="#f6f600"/>
<path d="M53.29 331.49L55.04 328.24L51.54 328.24Z" fill="#f6f600"/>
<path d="M56.84 341.72L58.59 338.47L55.09 338.47Z" fill="#f6f600"/>
<path d="M60.38 336.11L62.13 332.86L58.63 332.86Z" fill="#f6f600"/>
<path d="M63.92 333.49L65.67 330.24L62.17 330.24Z" fill="#f6f600"/>
<path d="M67.46 335.55L69.21 332.30L65.71 332.30Z" fill="#f6f600"/>
<path d="M71.00 334.27L72.75 331.02L69.25 331.02Z" fill="#f6f600"/>
<path d="M74.55 332.36L76.30 329.11L72.80 329.11Z" fill="#f6f600"/>
<path d="M78.09 331.58L79.84 328.33L76.34 328.33Z" fill="#f6f600"/>
<path d="M81.63 331.17L83.38 327.92L79.88 327.92Z" fill="#f6f600"/>
<path d="M85.17 330.58L86.92 327.33L83.42 327.33Z" fill="#f6f600"/>
<path d="M88.71 330.07L90.46 326.82L86.96 326.82Z" fill="#f6f600"/>
<path d="M92.26 329.38L94.01 326.13L90.51 326.13Z" fill="#f6f600"/>
<path d="M95.80 329.08L97.55 325.83L94.05 325.83Z" fill="#f6f600"/>
<path d="M99.34 328.57L101.09 325.32L97.59 325.32Z" fill="#f6f600"/>
<path d="M102.88 327.88L104.63 324.63L101.13 324.63Z" fill="#f6f600"/>
<path d="M106.42 327.07L108.17 323.82L104.67 323.82Z" fill="#f6f600"/>
<path d="M109.97 326.38L111.72 323.13L108.22 323.13Z" fill="#f6f600"/>
<path d="M113.51 325.57L115.26 322.32L111.76 322.32Z" fill="#f6f600"/>
<path d="M117.05 324.54L118.80 321.29L115.30 321.29Z" fill="#f6f600"/>
<path d="M120.59 322.08L122.34 318.83L118.84 318.83Z" fill="#f6f600"/>
<path d="M124.13 320.07L125.88 316.82L122.38 316.82Z" fill="#f6f600"/>
<path d="M127.68 319.28L129.43 316.03L125.93 316.03Z" fill="#f6f600"/>
<path d="M131.22 317.56L132.97 314.31L129.47 314.31Z" fill="#f6f600"/>
<path d="M134.76 315.20L136.51 311.95L133.01 311.95Z" fill="#f6f600"/>
<path d="M138.30 315.97L140.05 312.72L136.55 312.72Z" fill="#f6f600"/>
<path d="M141.84 312.76L143.59 309.51L140.09 309.51Z" fill="#f6f600"/>
<path d="M145.39 311.18L147.14 307.93L143.64 307.93Z" fill="#f6f600"/>
<path d="M148.93 310.37L150.68 307.12L147.18 307.12Z" fill="#f6f600"/>
<path d="M152.47 309.58L154.22 306.33L150.72 306.33Z" fill="#f6f600"/>
<path d="M156.01 306.28L157.76 303.03L154.26 303.03Z" fill="#f6f600"/>
<path d="M159.55 308.64L161.30 305.39L157.80 305.39Z" fill="#f6f600"/>
<path d="M163.10 307.08L164.85 303.83L161.35 303.83Z" fill="#f6f600"/>
<path d="M166.64 303.32L168.39 300.07L164.89 300.07Z" fill="#f6f600"/>
<path d="M170.18 307.85L171.93 304.60L168.43 304.60Z" fill="#f6f600"/>
<path d="M173.72 307.89L175.47 304.64L171.97 304.64Z" fill="#f6f600"/>
<path d="M177.26 309.56L179.01 306.31L175.51 306.31Z" fill="#f6f600"/>
<path d="M180.81 309.56L182.56 306.31L179.06 306.31Z" fill="#f6f600"/>
<path d="M184.35 303.81L186.10 300.56L182.60 300.56Z" fill="#f6f600"/>
<path d="M187.89 328.51L189.64 325.26L186.14 325.26Z" fill="#f6f600"/>
<path d="M191.43 330.16L193.18 326.91L189.68 326.91Z" fill="#f6f600"/>
<path d="M194.97 317.47L196.72 314.22L193.22 314.22Z" fill="#f6f600"/>
<path d="M198.52 340.71L200.27 337.46L196.77 337.46Z" fill="#f6f600"/>
<path d="M202.06 347.46L203.81 344.21L200.31 344.21Z" fill="#f6f600"/>
<path d="M205.60 340.68L207.35 337.43L203.85 337.43Z" fill="#f6f600"/>
<polyline points="28.50,341.90 32.04,340.45 35.58,344.48 39.13,351.16 42.67,345.55 46.21,346.61 49.75,350.65 53.29,343.51 56.84,340.44 60.38,344.47 63.92,334.67 67.46,329.16 71.00,330.79 74.55,323.67 78.09,321.51 81.63,319.19 85.17,318.51 88.71,316.99 92.26,315.52 95.80,314.70 99.34,313.98 102.88,312.51 106.42,310.99 109.97,310.21 113.51,308.70 117.05,307.20 120.59,307.10 124.13,305.18 127.68,303.61 131.22,304.69 134.76,302.03 138.30,299.90 141.84,301.16 145.39,297.91 148.93,295.52 152.47,297.58 156.01,293.90 159.55,292.81 163.10,296.60 166.64,292.93 170.18,295.88 173.72,303.38 177.26,299.94 180.81,311.99 184.35,308.65 187.89,319.77 191.43,343.03 194.97,335.46 198.52,349.98 202.06,346.65 205.60,350.00" fill="none" stroke="#727200" stroke-width="0.7" stroke-linejoin="round"/>
<path d="M28.50 339.90L30.25 341.90L28.50 343.90L26.75 341.90Z" fill="#727200"/>
<path d="M32.04 338.45L33.79 340.45L32.04 342.45L30.29 340.45Z" fill="#727200"/>
<path d="M35.58 342.48L37.33 344.48L35.58 346.48L33.83 344.48Z" fill="#727200"/>
<path d="M39.13 349.16L40.88 351.16L39.13 353.16L37.38 351.16Z" fill="#727200"/>
<path d="M42.67 343.55L44.42 345.55L42.67 347.55L40.92 345.55Z" fill="#727200"/>
<path d="M46.21 344.61L47.96 346.61L46.21 348.61L44.46 346.61Z" fill="#727200"/>
<path d="M49.75 348.65L51.50 350.65L49.75 352.65L48.00 350.65Z" fill="#727200"/>
<path d="M53.29 341.51L55.04 343.51L53.29 345.51L51.54 343.51Z" fill="#727200"/>
<path d="M56.84 338.44L58.59 340.44L56.84 342.44L55.09 340.44Z" fill="#727200"/>
<path d="M60.38 342.47L62.13 344.47L60.38 346.47L58.63 344.47Z" fill="#727200"/>
<path d="M63.92 332.67L65.67 334.67L63.92 336.67L62.17 334.67Z" fill="#727200"/>
<path d="M67.46 327.16L69.21 329.16L67.46 331.16L65.71 329.16Z" fill="#727200"/>
<path d="M71.00 328.79L72.75 330.79L71.00 332.79L69.25 330.79Z" fill="#727200"/>
<path d="M74.55 321.67L76.30 323.67L74.55 325.67L72.80 323.67Z" fill="#727200"/>
<path d="M78.09 319.51L79.84 321.51L78.09 323.51L76.34 321.51Z" fill="#727200"/>
<path d="M81.63 317.19L83.38 319.19L81.63 321.19L79.88 319.19Z" fill="#727200"/>
<path d="M85.17 316.51L86.92 318.51L85.17 320.51L83.42 318.51Z" fill="#727200"/>
<path d="M88.71 314.99L90.46 316.99L88.71 318.99L86.96 316.99Z" fill="#727200"/>
<path d="M92.26 313.52L94.01 315.52L92.26 317.52L90.51 315.52Z" fill="#727200"/>
<path d="M95.80 312.70L97.55 314.70L95.80 316.70L94.05 314.70Z" fill="#727200"/>
<path d="M99.34 311.98L101.09 313.98L99.34 315.98L97.59 313.98Z" fill="#727200"/>
<path d="M102.88 310.51L104.63 312.51L102.88 314.51L101.13 312.51Z" fill="#727200"/>
<path d="M106.42 308.99L108.17 310.99L106.42 312.99L104.67 310.99Z" fill="#727200"/>
<path d="M109.97 308.21L111.72 310.21L109.97 312.21L108.22 310.21Z" fill="#727200"/>
<path d="M113.51 306.70L115.26 308.70L113.51 310.70L111.76 308.70Z" fill="#727200"/>
<path d="M117.05 305.20L118.80 307.20L117.05 309.20L115.30 307.20Z" fill="#727200"/>
<path d="M120.59 305.10L122.34 307.10L120.59 309.10L118.84 307.10Z" fill="#727200"/>
<path d="M124.13 303.18L125.88 305.18L124.13 307.18L122.38 305.18Z" fill="#727200"/>
<path d="M127.68 301.61L129.43 303.61L127.68 305.61L125.93 303.61Z" fill="#727200"/>
<path d="M131.22 302.69L132.97 304.69L131.22 306.69L129.47 304.69Z" fill="#727200"/>
<path d="M134.76 300.03L136.51 302.03L134.76 304.03L133.01 302.03Z" fill="#727200"/>
<path d="M138.30 297.90L140.05 299.90L138.30 301.90L136.55 299.90Z" fill="#727200"/>
<path d="M141.84 299.16L143.59 301.16L141.84 303.16L140.09 301.16Z" fill="#727200"/>
<path d="M145.39 295.91L147.14 297.91L145.39 299.91L143.64 297.91Z" fill="#727200"/>
<path d="M148.93 293.52L150.68 295.52L148.93 297.52L147.18 295.52Z" fill="#727200"/>
<path d="M152.47 295.58L154.22 297.58L152.47 299.58L150.72 297.58Z" fill="#727200"/>
<path d="M156.01 291.90L157.76 293.90L156.01 295.90L154.26 293.90Z" fill="#727200"/>
<path d="M159.55 290.81L161.30 292.81L159.55 294.81L157.80 292.81Z" fill="#727200"/>
<path d="M163.10 294.60L164.85 296.60L163.10 298.60L161.35 296.60Z" fill="#727200"/>
<path d="M166.64 290.93L168.39 292.93L166.64 294.93L164.89 292.93Z" fill="#727200"/>
<path d="M170.18 293.88L171.93 295.88L170.18 297.88L168.43 295.88Z" fill="#727200"/>
<path d="M173.72 301.38L175.47 303.38L173.72 305.38L171.97 303.38Z" fill="#727200"/>
<path d="M177.26 297.94L179.01 299.94L177.26 301.94L175.51 299.94Z" fill="#727200"/>
<path d="M180.81 309.99L182.56 311.99L180.81 313.99L179.06 311.99Z" fill="#727200"/>
<path d="M184.35 306.65L186.10 308.65L184.35 310.65L182.60 308.65Z" fill="#727200"/>
<path d="M187.89 317.77L189.64 319.77L187.89 321.77L186.14 319.77Z" fill="#727200"/>
<path d="M191.43 341.03L193.18 343.03L191.43 345.03L189.68 343.03Z" fill="#727200"/>
<path d="M194.97 333.46L196.72 335.46L194.97 337.46L193.22 335.46Z" fill="#727200"/>
<path d="M198.52 347.98L200.27 349.98L198.52 351.98L196.77 349.98Z" fill="#727200"/>
<path d="M202.06 344.65L203.81 346.65L202.06 348.65L200.31 346.65Z" fill="#727200"/>
<path d="M205.60 348.00L207.35 350.00L205.60 352.00L203.85 350.00Z" fill="#727200"/>
</g>
<g clip-path="url(#cp5)">
<polyline points="258.60,348.30 262.14,349.70 265.68,349.70 269.21,346.79 272.75,345.32 276.29,344.30 279.83,344.29 283.37,342.42 286.90,340.90 290.44,340.90 293.98,340.09 297.52,340.01 301.06,339.93 304.59,339.84 308.13,339.76 311.67,339.68 315.21,339.60 318.75,339.57 322.28,339.54 325.82,339.51 329.36,339.48 332.90,339.45 336.44,339.42 339.97,339.39 343.51,339.36 347.05,339.33 350.59,339.30 354.13,339.72 357.66,340.14 361.20,340.56 364.74,340.97 368.28,341.28 371.82,341.54 375.35,341.80 378.89,342.05 382.43,342.31 385.97,342.66 389.51,343.22 393.04,343.79 396.58,345.29 400.12,338.44 403.66,345.91 407.20,349.30 410.73,349.32 414.27,351.28" fill="none" stroke="#0000ee" stroke-width="0.7" stroke-linejoin="round"/>
<rect x="257.35" y="347.05" width="2.50" height="2.50" fill="#0000ee"/>
<rect x="260.89" y="348.45" width="2.50" height="2.50" fill="#0000ee"/>
<rect x="264.43" y="348.45" width="2.50" height="2.50" fill="#0000ee"/>
<rect x="267.96" y="345.54" width="2.50" height="2.50" fill="#0000ee"/>
<rect x="271.50" y="344.07" width="2.50" height="2.50" fill="#0000ee"/>
<rect x="275.04" y="343.05" width="2.50" height="2.50" fill="#0000ee"/>
<rect x="278.58" y="343.04" width="2.50" height="2.50" fill="#0000ee"/>
<rect x="282.12" y="341.17" width="2.50" height="2.50" fill="#0000ee"/>
<rect x="285.65" y="339.65" width="2.50" height="2.50" fill="#0000ee"/>
<rect x="289.19" y="339.65" width="2.50" height="2.50" fill="#0000ee"/>
<rect x="292.73" y="338.84" width="2.50" height="2.50" fill="#0000ee"/>
<rect x="296.27" y="338.76" width="2.50" height="2.50" fill="#0000ee"/>
<rect x="299.81" y="338.68" width="2.50" height="2.50" fill="#0000ee"/>
<rect x="303.34" y="338.59" width="2.50" height="2.50" fill="#0000ee"/>
<rect x="306.88" y="338.51" width="2.50" height="2.50" fill="#0000ee"/>
<rect x="310.42" y="338.43" width="2.50" height="2.50" fill="#0000ee"/>
<rect x="313.96" y="338.35" width="2.50" height="2.50" fill="#0000ee"/>
<rect x="317.50" y="338.32" width="2.50" height="2.50" fill="#0000ee"/>
<rect x="321.03" y="338.29" width="2.50" height="2.50" fill="#0000ee"/>
<rect x="324.57" y="338.26" width="2.50" height="2.50" fill="#0000ee"/>
<rect x="328.11" y="338.23" width="2.50" height="2.50" fill="#0000ee"/>
<rect x="331.65" y="338.20" width="2.50" height="2.50" fill="#0000ee"/>
<rect x="335.19" y="338.17" width="2.50" height="2.50" fill="#0000ee"/>
<rect x="338.72" y="338.14" width="2.50" height="2.50" fill="#0000ee"/>
<rect x="342.26" y="338.11" width="2.50" height="2.50" fill="#0000ee"/>
<rect x="345.80" y="338.08" width="2.50" height="2.50" fill="#0000ee"/>
<rect x="349.34" y="338.05" width="2.50" height="2.50" fill="#0000ee"/>
<rect x="352.88" y="338.47" width="2.50" height="2.50" fill="#0000ee"/>
<rect x="356.41" y="338.89" width="2.50" height="2.50" fill="#0000ee"/>
<rect x="359.95" y="339.31" width="2.50" height="2.50" fill="#0000ee"/>
<rect x="363.49" y="339.72" width="2.50" height="2.50" fill="#0000ee"/>
<rect x="367.03" y="340.03" width="2.50" height="2.50" fill="#0000ee"/>
<rect x="370.57" y="340.29" width="2.50" height="2.50" fill="#0000ee"/>
<rect x="374.10" y="340.55" width="2.50" height="2.50" fill="#0000ee"/>
<rect x="377.64" y="340.80" width="2.50" height="2.50" fill="#0000ee"/>
<rect x="381.18" y="341.06" width="2.50" height="2.50" fill="#0000ee"/>
<rect x="384.72" y="341.41" width="2.50" height="2.50" fill="#0000ee"/>
<rect x="388.26" y="341.97" width="2.50" height="2.50" fill="#0000ee"/>
<rect x="391.79" y="342.54" width="2.50" height="2.50" fill="#0000ee"/>
<rect x="395.33" y="344.04" width="2.50" height="2.50" fill="#0000ee"/>
<rect x="398.87" y="337.19" width="2.50" height="2.50" fill="#0000ee"/>
<rect x="402.41" y="344.66" width="2.50" height="2.50" fill="#0000ee"/>
<rect x="405.95" y="348.05" width="2.50" height="2.50" fill="#0000ee"/>
<rect x="409.48" y="348.07" width="2.50" height="2.50" fill="#0000ee"/>
<rect x="413.02" y="350.03" width="2.50" height="2.50" fill="#0000ee"/>
<polyline points="258.60,349.00 262.14,348.99 265.68,348.30 269.21,345.28 272.75,340.96 276.29,337.91 279.83,337.87 283.37,334.23 286.90,329.80 290.44,329.50 293.98,327.24 297.52,326.66 301.06,326.09 304.59,325.51 308.13,325.18 311.67,325.14 315.21,325.10 318.75,325.06 322.28,325.02 325.82,324.98 329.36,324.94 332.90,324.90 336.44,324.86 339.97,324.82 343.51,324.78 347.05,324.74 350.59,324.70 354.13,325.13 357.66,325.56 361.20,325.99 364.74,326.42 368.28,326.85 371.82,327.28 375.35,327.71 378.89,328.14 382.43,329.08 385.97,330.40 389.51,330.75 393.04,331.09 396.58,332.79 400.12,326.94 403.66,334.11 407.20,340.09 410.73,340.18 414.27,348.93 417.81,351.30" fill="none" stroke="#00e4e4" stroke-width="0.7" stroke-linejoin="round"/>
<rect x="257.35" y="347.75" width="2.50" height="2.50" fill="#00e4e4"/>
<rect x="260.89" y="347.74" width="2.50" height="2.50" fill="#00e4e4"/>
<rect x="264.43" y="347.05" width="2.50" height="2.50" fill="#00e4e4"/>
<rect x="267.96" y="344.03" width="2.50" height="2.50" fill="#00e4e4"/>
<rect x="271.50" y="339.71" width="2.50" height="2.50" fill="#00e4e4"/>
<rect x="275.04" y="336.66" width="2.50" height="2.50" fill="#00e4e4"/>
<rect x="278.58" y="336.62" width="2.50" height="2.50" fill="#00e4e4"/>
<rect x="282.12" y="332.98" width="2.50" height="2.50" fill="#00e4e4"/>
<rect x="285.65" y="328.55" width="2.50" height="2.50" fill="#00e4e4"/>
<rect x="289.19" y="328.25" width="2.50" height="2.50" fill="#00e4e4"/>
<rect x="292.73" y="325.99" width="2.50" height="2.50" fill="#00e4e4"/>
<rect x="296.27" y="325.41" width="2.50" height="2.50" fill="#00e4e4"/>
<rect x="299.81" y="324.84" width="2.50" height="2.50" fill="#00e4e4"/>
<rect x="303.34" y="324.26" width="2.50" height="2.50" fill="#00e4e4"/>
<rect x="306.88" y="323.93" width="2.50" height="2.50" fill="#00e4e4"/>
<rect x="310.42" y="323.89" width="2.50" height="2.50" fill="#00e4e4"/>
<rect x="313.96" y="323.85" width="2.50" height="2.50" fill="#00e4e4"/>
<rect x="317.50" y="323.81" width="2.50" height="2.50" fill="#00e4e4"/>
<rect x="321.03" y="323.77" width="2.50" height="2.50" fill="#00e4e4"/>
<rect x="324.57" y="323.73" width="2.50" height="2.50" fill="#00e4e4"/>
<rect x="328.11" y="323.69" width="2.50" height="2.50" fill="#00e4e4"/>
<rect x="331.65" y="323.65" width="2.50" height="2.50" fill="#00e4e4"/>
<rect x="335.19" y="323.61" width="2.50" height="2.50" fill="#00e4e4"/>
<rect x="338.72" y="323.57" width="2.50" height="2.50" fill="#00e4e4"/>
<rect x="342.26" y="323.53" width="2.50" height="2.50" fill="#00e4e4"/>
<rect x="345.80" y="323.49" width="2.50" height="2.50" fill="#00e4e4"/>
<rect x="349.34" y="323.45" width="2.50" height="2.50" fill="#00e4e4"/>
<rect x="352.88" y="323.88" width="2.50" height="2.50" fill="#00e4e4"/>
<rect x="356.41" y="324.31" width="2.50" height="2.50" fill="#00e4e4"/>
<rect x="359.95" y="324.74" width="2.50" height="2.50" fill="#00e4e4"/>
<rect x="363.49" y="325.17" width="2.50" height="2.50" fill="#00e4e4"/>
<rect x="367.03" y="325.60" width="2.50" height="2.50" fill="#00e4e4"/>
<rect x="370.57" y="326.03" width="2.50" height="2.50" fill="#00e4e4"/>
<rect x="374.10" y="326.46" width="2.50" height="2.50" fill="#00e4e4"/>
<rect x="377.64" y="326.89" width="2.50" height="2.50" fill="#00e4e4"/>
<rect x="381.18" y="327.83" width="2.50" height="2.50" fill="#00e4e4"/>
<rect x="384.72" y="329.15" width="2.50" height="2.50" fill="#00e4e4"/>
<rect x="388.26" y="329.50" width="2.50" height="2.50" fill="#00e4e4"/>
<rect x="391.79" y="329.84" width="2.50" height="2.50" fill="#00e4e4"/>
<rect x="395.33" y="331.54" width="2.50" height="2.50" fill="#00e4e4"/>
<rect x="398.87" y="325.69" width="2.50" height="2.50" fill="#00e4e4"/>
<rect x="402.41" y="332.86" width="2.50" height="2.50" fill="#00e4e4"/>
<rect x="405.95" y="338.84" width="2.50" height="2.50" fill="#00e4e4"/>
<rect x="409.48" y="338.93" width="2.50" height="2.50" fill="#00e4e4"/>
<rect x="413.02" y="347.68" width="2.50" height="2.50" fill="#00e4e4"/>
<rect x="416.56" y="350.05" width="2.50" height="2.50" fill="#00e4e4"/>
<polyline points="258.60,342.40 262.14,346.79 265.68,346.01 269.21,332.77 272.75,325.50 276.29,329.49 279.83,316.46 283.37,311.84 286.90,313.29 290.44,307.50 293.98,305.25 297.52,303.83 301.06,302.41 304.59,300.97 308.13,300.05 311.67,299.71 315.21,299.37 318.75,299.04 322.28,298.73 325.82,298.44 329.36,298.15 332.90,297.86 336.44,297.56 339.97,297.27 343.51,296.98 347.05,296.69 350.59,296.40 354.13,296.40 357.66,296.40 361.20,296.40 364.74,296.40 368.28,296.40 371.82,296.40 375.35,296.82 378.89,297.25 382.43,297.69 385.97,298.14 389.51,298.67 393.04,296.16 396.58,301.77 400.12,296.61 403.66,298.77 407.20,312.38 410.73,304.08 414.27,312.33 417.81,340.86 421.35,325.62 424.89,340.04 428.42,350.28 431.96,348.32 435.50,350.50" fill="none" stroke="#f000f0" stroke-width="0.7" stroke-linejoin="round"/>
<rect x="257.35" y="341.15" width="2.50" height="2.50" fill="#f000f0"/>
<rect x="260.89" y="345.54" width="2.50" height="2.50" fill="#f000f0"/>
<rect x="264.43" y="344.76" width="2.50" height="2.50" fill="#f000f0"/>
<rect x="267.96" y="331.52" width="2.50" height="2.50" fill="#f000f0"/>
<rect x="271.50" y="324.25" width="2.50" height="2.50" fill="#f000f0"/>
<rect x="275.04" y="328.24" width="2.50" height="2.50" fill="#f000f0"/>
<rect x="278.58" y="315.21" width="2.50" height="2.50" fill="#f000f0"/>
<rect x="282.12" y="310.59" width="2.50" height="2.50" fill="#f000f0"/>
<rect x="285.65" y="312.04" width="2.50" height="2.50" fill="#f000f0"/>
<rect x="289.19" y="306.25" width="2.50" height="2.50" fill="#f000f0"/>
<rect x="292.73" y="304.00" width="2.50" height="2.50" fill="#f000f0"/>
<rect x="296.27" y="302.58" width="2.50" height="2.50" fill="#f000f0"/>
<rect x="299.81" y="301.16" width="2.50" height="2.50" fill="#f000f0"/>
<rect x="303.34" y="299.72" width="2.50" height="2.50" fill="#f000f0"/>
<rect x="306.88" y="298.80" width="2.50" height="2.50" fill="#f000f0"/>
<rect x="310.42" y="298.46" width="2.50" height="2.50" fill="#f000f0"/>
<rect x="313.96" y="298.12" width="2.50" height="2.50" fill="#f000f0"/>
<rect x="317.50" y="297.79" width="2.50" height="2.50" fill="#f000f0"/>
<rect x="321.03" y="297.48" width="2.50" height="2.50" fill="#f000f0"/>
<rect x="324.57" y="297.19" width="2.50" height="2.50" fill="#f000f0"/>
<rect x="328.11" y="296.90" width="2.50" height="2.50" fill="#f000f0"/>
<rect x="331.65" y="296.61" width="2.50" height="2.50" fill="#f000f0"/>
<rect x="335.19" y="296.31" width="2.50" height="2.50" fill="#f000f0"/>
<rect x="338.72" y="296.02" width="2.50" height="2.50" fill="#f000f0"/>
<rect x="342.26" y="295.73" width="2.50" height="2.50" fill="#f000f0"/>
<rect x="345.80" y="295.44" width="2.50" height="2.50" fill="#f000f0"/>
<rect x="349.34" y="295.15" width="2.50" height="2.50" fill="#f000f0"/>
<rect x="352.88" y="295.15" width="2.50" height="2.50" fill="#f000f0"/>
<rect x="356.41" y="295.15" width="2.50" height="2.50" fill="#f000f0"/>
<rect x="359.95" y="295.15" width="2.50" height="2.50" fill="#f000f0"/>
<rect x="363.49" y="295.15" width="2.50" height="2.50" fill="#f000f0"/>
<rect x="367.03" y="295.15" width="2.50" height="2.50" fill="#f000f0"/>
<rect x="370.57" y="295.15" width="2.50" height="2.50" fill="#f000f0"/>
<rect x="374.10" y="295.57" width="2.50" height="2.50" fill="#f000f0"/>
<rect x="377.64" y="296.00" width="2.50" height="2.50" fill="#f000f0"/>
<rect x="381.18" y="296.44" width="2.50" height="2.50" fill="#f000f0"/>
<rect x="384.72" y="296.89" width="2.50" height="2.50" fill="#f000f0"/>
<rect x="388.26" y="297.42" width="2.50" height="2.50" fill="#f000f0"/>
<rect x="391.79" y="294.91" width="2.50" height="2.50" fill="#f000f0"/>
<rect x="395.33" y="300.52" width="2.50" height="2.50" fill="#f000f0"/>
<rect x="398.87" y="295.36" width="2.50" height="2.50" fill="#f000f0"/>
<rect x="402.41" y="297.52" width="2.50" height="2.50" fill="#f000f0"/>
<rect x="405.95" y="311.13" width="2.50" height="2.50" fill="#f000f0"/>
<rect x="409.48" y="302.83" width="2.50" height="2.50" fill="#f000f0"/>
<rect x="413.02" y="311.08" width="2.50" height="2.50" fill="#f000f0"/>
<rect x="416.56" y="339.61" width="2.50" height="2.50" fill="#f000f0"/>
<rect x="420.10" y="324.37" width="2.50" height="2.50" fill="#f000f0"/>
<rect x="423.64" y="338.79" width="2.50" height="2.50" fill="#f000f0"/>
<rect x="427.17" y="349.03" width="2.50" height="2.50" fill="#f000f0"/>
<rect x="430.71" y="347.07" width="2.50" height="2.50" fill="#f000f0"/>
<rect x="434.25" y="349.25" width="2.50" height="2.50" fill="#f000f0"/>
<polyline points="258.60,341.60 262.14,333.49 265.68,332.80 269.21,315.81 272.75,318.76 276.29,307.03 279.83,292.46 283.37,287.84 286.90,286.40 290.44,282.27 293.98,280.81 297.52,277.30 301.06,276.31 304.59,275.20 308.13,274.51 311.67,273.81 315.21,273.50 318.75,273.57 322.28,273.39 325.82,273.05 329.36,272.70 332.90,272.35 336.44,272.00 339.97,271.65 343.51,271.30 347.05,270.95 350.59,270.60 354.13,270.50 357.66,270.40 361.20,270.30 364.74,270.20 368.28,270.10 371.82,270.00 375.35,270.47 378.89,270.96 382.43,271.45 385.97,272.03 389.51,272.86 393.04,273.69 396.58,275.79 400.12,272.04 403.66,279.91 407.20,286.99 410.73,280.86 414.27,297.37 417.81,317.27 421.35,306.36 424.89,337.08 428.42,348.75 431.96,337.33 435.50,349.00" fill="none" stroke="#f6f600" stroke-width="0.7" stroke-linejoin="round"/>
<rect x="257.35" y="340.35" width="2.50" height="2.50" fill="#f6f600"/>
<rect x="260.89" y="332.24" width="2.50" height="2.50" fill="#f6f600"/>
<rect x="264.43" y="331.55" width="2.50" height="2.50" fill="#f6f600"/>
<rect x="267.96" y="314.56" width="2.50" height="2.50" fill="#f6f600"/>
<rect x="271.50" y="317.51" width="2.50" height="2.50" fill="#f6f600"/>
<rect x="275.04" y="305.78" width="2.50" height="2.50" fill="#f6f600"/>
<rect x="278.58" y="291.21" width="2.50" height="2.50" fill="#f6f600"/>
<rect x="282.12" y="286.59" width="2.50" height="2.50" fill="#f6f600"/>
<rect x="285.65" y="285.15" width="2.50" height="2.50" fill="#f6f600"/>
<rect x="289.19" y="281.02" width="2.50" height="2.50" fill="#f6f600"/>
<rect x="292.73" y="279.56" width="2.50" height="2.50" fill="#f6f600"/>
<rect x="296.27" y="276.05" width="2.50" height="2.50" fill="#f6f600"/>
<rect x="299.81" y="275.06" width="2.50" height="2.50" fill="#f6f600"/>
<rect x="303.34" y="273.95" width="2.50" height="2.50" fill="#f6f600"/>
<rect x="306.88" y="273.26" width="2.50" height="2.50" fill="#f6f600"/>
<rect x="310.42" y="272.56" width="2.50" height="2.50" fill="#f6f600"/>
<rect x="313.96" y="272.25" width="2.50" height="2.50" fill="#f6f600"/>
<rect x="317.50" y="272.32" width="2.50" height="2.50" fill="#f6f600"/>
<rect x="321.03" y="272.14" width="2.50" height="2.50" fill="#f6f600"/>
<rect x="324.57" y="271.80" width="2.50" height="2.50" fill="#f6f600"/>
<rect x="328.11" y="271.45" width="2.50" height="2.50" fill="#f6f600"/>
<rect x="331.65" y="271.10" width="2.50" height="2.50" fill="#f6f600"/>
<rect x="335.19" y="270.75" width="2.50" height="2.50" fill="#f6f600"/>
<rect x="338.72" y="270.40" width="2.50" height="2.50" fill="#f6f600"/>
<rect x="342.26" y="270.05" width="2.50" height="2.50" fill="#f6f600"/>
<rect x="345.80" y="269.70" width="2.50" height="2.50" fill="#f6f600"/>
<rect x="349.34" y="269.35" width="2.50" height="2.50" fill="#f6f600"/>
<rect x="352.88" y="269.25" width="2.50" height="2.50" fill="#f6f600"/>
<rect x="356.41" y="269.15" width="2.50" height="2.50" fill="#f6f600"/>
<rect x="359.95" y="269.05" width="2.50" height="2.50" fill="#f6f600"/>
<rect x="363.49" y="268.95" width="2.50" height="2.50" fill="#f6f600"/>
<rect x="367.03" y="268.85" width="2.50" height="2.50" fill="#f6f600"/>
<rect x="370.57" y="268.75" width="2.50" height="2.50" fill="#f6f600"/>
<rect x="374.10" y="269.22" width="2.50" height="2.50" fill="#f6f600"/>
<rect x="377.64" y="269.71" width="2.50" height="2.50" fill="#f6f600"/>
<rect x="381.18" y="270.20" width="2.50" height="2.50" fill="#f6f600"/>
<rect x="384.72" y="270.78" width="2.50" height="2.50" fill="#f6f600"/>
<rect x="388.26" y="271.61" width="2.50" height="2.50" fill="#f6f600"/>
<rect x="391.79" y="272.44" width="2.50" height="2.50" fill="#f6f600"/>
<rect x="395.33" y="274.54" width="2.50" height="2.50" fill="#f6f600"/>
<rect x="398.87" y="270.79" width="2.50" height="2.50" fill="#f6f600"/>
<rect x="402.41" y="278.66" width="2.50" height="2.50" fill="#f6f600"/>
<rect x="405.95" y="285.74" width="2.50" height="2.50" fill="#f6f600"/>
<rect x="409.48" y="279.61" width="2.50" height="2.50" fill="#f6f600"/>
<rect x="413.02" y="296.12" width="2.50" height="2.50" fill="#f6f600"/>
<rect x="416.56" y="316.02" width="2.50" height="2.50" fill="#f6f600"/>
<rect x="420.10" y="305.11" width="2.50" height="2.50" fill="#f6f600"/>
<rect x="423.64" y="335.83" width="2.50" height="2.50" fill="#f6f600"/>
<rect x="427.17" y="347.50" width="2.50" height="2.50" fill="#f6f600"/>
<rect x="430.71" y="336.08" width="2.50" height="2.50" fill="#f6f600"/>
<rect x="434.25" y="347.75" width="2.50" height="2.50" fill="#f6f600"/>
<polyline points="258.60,348.30 262.14,348.99 265.68,348.30 269.21,342.36 272.75,331.45 276.29,334.19 279.83,315.66 283.37,297.77 286.90,298.98 290.44,283.85 293.98,284.30 297.52,272.57 301.06,266.08 304.59,266.00 308.13,260.90 311.67,256.93 315.21,256.59 318.75,254.03 322.28,251.46 325.82,250.35 329.36,249.74 332.90,249.13 336.44,248.54 339.97,247.98 343.51,247.42 347.05,246.86 350.59,246.30 354.13,246.30 357.66,246.30 361.20,246.30 364.74,246.30 368.28,246.42 371.82,246.60 375.35,246.77 378.89,247.22 382.43,248.48 385.97,249.57 389.51,250.18 393.04,250.79 396.58,254.68 400.12,254.74 403.66,261.22 407.20,274.39 410.73,272.47 414.27,290.16 417.81,319.48 421.35,313.69 424.89,337.80 428.42,350.23 431.96,350.99 435.50,351.00" fill="none" stroke="#727200" stroke-width="0.7" stroke-linejoin="round"/>
<rect x="257.35" y="347.05" width="2.50" height="2.50" fill="#727200"/>
<rect x="260.89" y="347.74" width="2.50" height="2.50" fill="#727200"/>
<rect x="264.43" y="347.05" width="2.50" height="2.50" fill="#727200"/>
<rect x="267.96" y="341.11" width="2.50" height="2.50" fill="#727200"/>
<rect x="271.50" y="330.20" width="2.50" height="2.50" fill="#727200"/>
<rect x="275.04" y="332.94" width="2.50" height="2.50" fill="#727200"/>
<rect x="278.58" y="314.41" width="2.50" height="2.50" fill="#727200"/>
<rect x="282.12" y="296.52" width="2.50" height="2.50" fill="#727200"/>
<rect x="285.65" y="297.73" width="2.50" height="2.50" fill="#727200"/>
<rect x="289.19" y="282.60" width="2.50" height="2.50" fill="#727200"/>
<rect x="292.73" y="283.05" width="2.50" height="2.50" fill="#727200"/>
<rect x="296.27" y="271.32" width="2.50" height="2.50" fill="#727200"/>
<rect x="299.81" y="264.83" width="2.50" height="2.50" fill="#727200"/>
<rect x="303.34" y="264.75" width="2.50" height="2.50" fill="#727200"/>
<rect x="306.88" y="259.65" width="2.50" height="2.50" fill="#727200"/>
<rect x="310.42" y="255.68" width="2.50" height="2.50" fill="#727200"/>
<rect x="313.96" y="255.34" width="2.50" height="2.50" fill="#727200"/>
<rect x="317.50" y="252.78" width="2.50" height="2.50" fill="#727200"/>
<rect x="321.03" y="250.21" width="2.50" height="2.50" fill="#727200"/>
<rect x="324.57" y="249.10" width="2.50" height="2.50" fill="#727200"/>
<rect x="328.11" y="248.49" width="2.50" height="2.50" fill="#727200"/>
<rect x="331.65" y="247.88" width="2.50" height="2.50" fill="#727200"/>
<rect x="335.19" y="247.29" width="2.50" height="2.50" fill="#727200"/>
<rect x="338.72" y="246.73" width="2.50" height="2.50" fill="#727200"/>
<rect x="342.26" y="246.17" width="2.50" height="2.50" fill="#727200"/>
<rect x="345.80" y="245.61" width="2.50" height="2.50" fill="#727200"/>
<rect x="349.34" y="245.05" width="2.50" height="2.50" fill="#727200"/>
<rect x="352.88" y="245.05" width="2.50" height="2.50" fill="#727200"/>
<rect x="356.41" y="245.05" width="2.50" height="2.50" fill="#727200"/>
<rect x="359.95" y="245.05" width="2.50" height="2.50" fill="#727200"/>
<rect x="363.49" y="245.05" width="2.50" height="2.50" fill="#727200"/>
<rect x="367.03" y="245.17" width="2.50" height="2.50" fill="#727200"/>
<rect x="370.57" y="245.35" width="2.50" height="2.50" fill="#727200"/>
<rect x="374.10" y="245.52" width="2.50" height="2.50" fill="#727200"/>
<rect x="377.64" y="245.97" width="2.50" height="2.50" fill="#727200"/>
<rect x="381.18" y="247.23" width="2.50" height="2.50" fill="#727200"/>
<rect x="384.72" y="248.32" width="2.50" height="2.50" fill="#727200"/>
<rect x="388.26" y="248.93" width="2.50" height="2.50" fill="#727200"/>
<rect x="391.79" y="249.54" width="2.50" height="2.50" fill="#727200"/>
<rect x="395.33" y="253.43" width="2.50" height="2.50" fill="#727200"/>
<rect x="398.87" y="253.49" width="2.50" height="2.50" fill="#727200"/>
<rect x="402.41" y="259.97" width="2.50" height="2.50" fill="#727200"/>
<rect x="405.95" y="273.14" width="2.50" height="2.50" fill="#727200"/>
<rect x="409.48" y="271.22" width="2.50" height="2.50" fill="#727200"/>
<rect x="413.02" y="288.91" width="2.50" height="2.50" fill="#727200"/>
<rect x="416.56" y="318.23" width="2.50" height="2.50" fill="#727200"/>
<rect x="420.10" y="312.44" width="2.50" height="2.50" fill="#727200"/>
<rect x="423.64" y="336.55" width="2.50" height="2.50" fill="#727200"/>
<rect x="427.17" y="348.98" width="2.50" height="2.50" fill="#727200"/>
<rect x="430.71" y="349.74" width="2.50" height="2.50" fill="#727200"/>
<rect x="434.25" y="349.75" width="2.50" height="2.50" fill="#727200"/>
</g>
<g clip-path="url(#cp6)">
<polyline points="494.00,344.60 497.54,345.84 501.08,348.99 504.63,348.65 508.17,342.46 511.71,345.80 515.25,344.91 518.79,340.41 522.34,342.36 525.88,338.72 529.42,338.92 532.96,339.15 536.50,339.38 540.05,339.60 543.59,339.57 547.13,339.55 550.67,339.52 554.21,339.49 557.76,339.47 561.30,339.44 564.84,339.41 568.38,339.43 571.92,339.50 575.47,339.57 579.01,339.64 582.55,339.70 586.09,339.77 589.63,339.84 593.18,339.90 596.72,339.97 600.26,340.08 603.80,340.21 607.34,340.35 610.89,340.48 614.43,340.54 617.97,340.13 621.51,340.02 625.05,340.03 628.60,339.60 632.14,343.81 635.68,344.96 639.22,338.85 642.76,346.76 646.31,350.27 649.85,335.70 653.39,350.30 656.93,350.19 660.47,338.26 664.02,350.30 667.56,350.30" fill="none" stroke="#0000ee" stroke-width="0.7" stroke-linejoin="round"/>
<rect x="492.75" y="343.35" width="2.50" height="2.50" fill="#0000ee"/>
<rect x="496.29" y="344.59" width="2.50" height="2.50" fill="#0000ee"/>
<rect x="499.83" y="347.74" width="2.50" height="2.50" fill="#0000ee"/>
<rect x="503.38" y="347.40" width="2.50" height="2.50" fill="#0000ee"/>
<rect x="506.92" y="341.21" width="2.50" height="2.50" fill="#0000ee"/>
<rect x="510.46" y="344.55" width="2.50" height="2.50" fill="#0000ee"/>
<rect x="514.00" y="343.66" width="2.50" height="2.50" fill="#0000ee"/>
<rect x="517.54" y="339.16" width="2.50" height="2.50" fill="#0000ee"/>
<rect x="521.09" y="341.11" width="2.50" height="2.50" fill="#0000ee"/>
<rect x="524.63" y="337.47" width="2.50" height="2.50" fill="#0000ee"/>
<rect x="528.17" y="337.67" width="2.50" height="2.50" fill="#0000ee"/>
<rect x="531.71" y="337.90" width="2.50" height="2.50" fill="#0000ee"/>
<rect x="535.25" y="338.13" width="2.50" height="2.50" fill="#0000ee"/>
<rect x="538.80" y="338.35" width="2.50" height="2.50" fill="#0000ee"/>
<rect x="542.34" y="338.32" width="2.50" height="2.50" fill="#0000ee"/>
<rect x="545.88" y="338.30" width="2.50" height="2.50" fill="#0000ee"/>
<rect x="549.42" y="338.27" width="2.50" height="2.50" fill="#0000ee"/>
<rect x="552.96" y="338.24" width="2.50" height="2.50" fill="#0000ee"/>
<rect x="556.51" y="338.22" width="2.50" height="2.50" fill="#0000ee"/>
<rect x="560.05" y="338.19" width="2.50" height="2.50" fill="#0000ee"/>
<rect x="563.59" y="338.16" width="2.50" height="2.50" fill="#0000ee"/>
<rect x="567.13" y="338.18" width="2.50" height="2.50" fill="#0000ee"/>
<rect x="570.67" y="338.25" width="2.50" height="2.50" fill="#0000ee"/>
<rect x="574.22" y="338.32" width="2.50" height="2.50" fill="#0000ee"/>
<rect x="577.76" y="338.39" width="2.50" height="2.50" fill="#0000ee"/>
<rect x="581.30" y="338.45" width="2.50" height="2.50" fill="#0000ee"/>
<rect x="584.84" y="338.52" width="2.50" height="2.50" fill="#0000ee"/>
<rect x="588.38" y="338.59" width="2.50" height="2.50" fill="#0000ee"/>
<rect x="591.93" y="338.65" width="2.50" height="2.50" fill="#0000ee"/>
<rect x="595.47" y="338.72" width="2.50" height="2.50" fill="#0000ee"/>
<rect x="599.01" y="338.83" width="2.50" height="2.50" fill="#0000ee"/>
<rect x="602.55" y="338.96" width="2.50" height="2.50" fill="#0000ee"/>
<rect x="606.09" y="339.10" width="2.50" height="2.50" fill="#0000ee"/>
<rect x="609.64" y="339.23" width="2.50" height="2.50" fill="#0000ee"/>
<rect x="613.18" y="339.29" width="2.50" height="2.50" fill="#0000ee"/>
<rect x="616.72" y="338.88" width="2.50" height="2.50" fill="#0000ee"/>
<rect x="620.26" y="338.77" width="2.50" height="2.50" fill="#0000ee"/>
<rect x="623.80" y="338.78" width="2.50" height="2.50" fill="#0000ee"/>
<rect x="627.35" y="338.35" width="2.50" height="2.50" fill="#0000ee"/>
<rect x="630.89" y="342.56" width="2.50" height="2.50" fill="#0000ee"/>
<rect x="634.43" y="343.71" width="2.50" height="2.50" fill="#0000ee"/>
<rect x="637.97" y="337.60" width="2.50" height="2.50" fill="#0000ee"/>
<rect x="641.51" y="345.51" width="2.50" height="2.50" fill="#0000ee"/>
<rect x="645.06" y="349.02" width="2.50" height="2.50" fill="#0000ee"/>
<rect x="648.60" y="334.45" width="2.50" height="2.50" fill="#0000ee"/>
<rect x="652.14" y="349.05" width="2.50" height="2.50" fill="#0000ee"/>
<rect x="655.68" y="348.94" width="2.50" height="2.50" fill="#0000ee"/>
<rect x="659.22" y="337.01" width="2.50" height="2.50" fill="#0000ee"/>
<rect x="662.77" y="349.05" width="2.50" height="2.50" fill="#0000ee"/>
<rect x="666.31" y="349.05" width="2.50" height="2.50" fill="#0000ee"/>
<polyline points="494.00,342.40 497.54,338.70 501.08,338.70 504.63,342.74 508.17,334.08 511.71,329.81 515.25,333.94 518.79,326.91 522.34,325.40 525.88,325.40 529.42,324.06 532.96,323.70 536.50,323.35 540.05,323.00 543.59,322.95 547.13,322.89 550.67,322.84 554.21,322.79 557.76,322.73 561.30,322.68 564.84,322.63 568.38,322.66 571.92,322.77 575.47,322.88 579.01,322.99 582.55,323.10 586.09,323.22 589.63,323.33 593.18,323.44 596.72,323.55 600.26,323.76 603.80,324.03 607.34,324.30 610.89,324.57 614.43,324.81 617.97,324.87 621.51,324.90 625.05,324.90 628.60,324.90 632.14,323.69 635.68,323.18 639.22,322.40 642.76,322.10 646.31,322.10 649.85,322.42 653.39,324.13 656.93,329.01 660.47,330.81 664.02,340.76 667.56,348.72 671.10,350.00" fill="none" stroke="#00e4e4" stroke-width="0.7" stroke-linejoin="round"/>
<rect x="492.75" y="341.15" width="2.50" height="2.50" fill="#00e4e4"/>
<rect x="496.29" y="337.45" width="2.50" height="2.50" fill="#00e4e4"/>
<rect x="499.83" y="337.45" width="2.50" height="2.50" fill="#00e4e4"/>
<rect x="503.38" y="341.49" width="2.50" height="2.50" fill="#00e4e4"/>
<rect x="506.92" y="332.83" width="2.50" height="2.50" fill="#00e4e4"/>
<rect x="510.46" y="328.56" width="2.50" height="2.50" fill="#00e4e4"/>
<rect x="514.00" y="332.69" width="2.50" height="2.50" fill="#00e4e4"/>
<rect x="517.54" y="325.66" width="2.50" height="2.50" fill="#00e4e4"/>
<rect x="521.09" y="324.15" width="2.50" height="2.50" fill="#00e4e4"/>
<rect x="524.63" y="324.15" width="2.50" height="2.50" fill="#00e4e4"/>
<rect x="528.17" y="322.81" width="2.50" height="2.50" fill="#00e4e4"/>
<rect x="531.71" y="322.45" width="2.50" height="2.50" fill="#00e4e4"/>
<rect x="535.25" y="322.10" width="2.50" height="2.50" fill="#00e4e4"/>
<rect x="538.80" y="321.75" width="2.50" height="2.50" fill="#00e4e4"/>
<rect x="542.34" y="321.70" width="2.50" height="2.50" fill="#00e4e4"/>
<rect x="545.88" y="321.64" width="2.50" height="2.50" fill="#00e4e4"/>
<rect x="549.42" y="321.59" width="2.50" height="2.50" fill="#00e4e4"/>
<rect x="552.96" y="321.54" width="2.50" height="2.50" fill="#00e4e4"/>
<rect x="556.51" y="321.48" width="2.50" height="2.50" fill="#00e4e4"/>
<rect x="560.05" y="321.43" width="2.50" height="2.50" fill="#00e4e4"/>
<rect x="563.59" y="321.38" width="2.50" height="2.50" fill="#00e4e4"/>
<rect x="567.13" y="321.41" width="2.50" height="2.50" fill="#00e4e4"/>
<rect x="570.67" y="321.52" width="2.50" height="2.50" fill="#00e4e4"/>
<rect x="574.22" y="321.63" width="2.50" height="2.50" fill="#00e4e4"/>
<rect x="577.76" y="321.74" width="2.50" height="2.50" fill="#00e4e4"/>
<rect x="581.30" y="321.85" width="2.50" height="2.50" fill="#00e4e4"/>
<rect x="584.84" y="321.97" width="2.50" height="2.50" fill="#00e4e4"/>
<rect x="588.38" y="322.08" width="2.50" height="2.50" fill="#00e4e4"/>
<rect x="591.93" y="322.19" width="2.50" height="2.50" fill="#00e4e4"/>
<rect x="595.47" y="322.30" width="2.50" height="2.50" fill="#00e4e4"/>
<rect x="599.01" y="322.51" width="2.50" height="2.50" fill="#00e4e4"/>
<rect x="602.55" y="322.78" width="2.50" height="2.50" fill="#00e4e4"/>
<rect x="606.09" y="323.05" width="2.50" height="2.50" fill="#00e4e4"/>
<rect x="609.64" y="323.32" width="2.50" height="2.50" fill="#00e4e4"/>
<rect x="613.18" y="323.56" width="2.50" height="2.50" fill="#00e4e4"/>
<rect x="616.72" y="323.62" width="2.50" height="2.50" fill="#00e4e4"/>
<rect x="620.26" y="323.65" width="2.50" height="2.50" fill="#00e4e4"/>
<rect x="623.80" y="323.65" width="2.50" height="2.50" fill="#00e4e4"/>
<rect x="627.35" y="323.65" width="2.50" height="2.50" fill="#00e4e4"/>
<rect x="630.89" y="322.44" width="2.50" height="2.50" fill="#00e4e4"/>
<rect x="634.43" y="321.93" width="2.50" height="2.50" fill="#00e4e4"/>
<rect x="637.97" y="321.15" width="2.50" height="2.50" fill="#00e4e4"/>
<rect x="641.51" y="320.85" width="2.50" height="2.50" fill="#00e4e4"/>
<rect x="645.06" y="320.85" width="2.50" height="2.50" fill="#00e4e4"/>
<rect x="648.60" y="321.17" width="2.50" height="2.50" fill="#00e4e4"/>
<rect x="652.14" y="322.88" width="2.50" height="2.50" fill="#00e4e4"/>
<rect x="655.68" y="327.76" width="2.50" height="2.50" fill="#00e4e4"/>
<rect x="659.22" y="329.56" width="2.50" height="2.50" fill="#00e4e4"/>
<rect x="662.77" y="339.51" width="2.50" height="2.50" fill="#00e4e4"/>
<rect x="666.31" y="347.47" width="2.50" height="2.50" fill="#00e4e4"/>
<rect x="669.85" y="348.75" width="2.50" height="2.50" fill="#00e4e4"/>
<polyline points="494.00,340.10 497.54,330.62 501.08,331.99 504.63,333.90 508.17,320.32 511.71,313.31 515.25,317.25 518.79,307.72 522.34,303.60 525.88,303.60 529.42,301.26 532.96,300.42 536.50,299.56 540.05,298.69 543.59,298.27 547.13,297.84 550.67,297.42 554.21,297.05 557.76,296.70 561.30,296.34 564.84,295.98 568.38,295.62 571.92,295.26 575.47,294.90 579.01,294.54 582.55,294.20 586.09,294.20 589.63,294.20 593.18,294.20 596.72,294.20 600.26,293.99 603.80,293.63 607.34,293.27 610.89,292.91 614.43,292.64 617.97,292.93 621.51,292.73 625.05,292.14 628.60,292.00 632.14,292.06 635.68,297.28 639.22,292.00 642.76,292.28 646.31,307.58 649.85,294.89 653.39,301.86 656.93,331.25 660.47,315.26 664.02,327.91 667.56,346.24 671.10,348.70" fill="none" stroke="#f000f0" stroke-width="0.7" stroke-linejoin="round"/>
<rect x="492.75" y="338.85" width="2.50" height="2.50" fill="#f000f0"/>
<rect x="496.29" y="329.37" width="2.50" height="2.50" fill="#f000f0"/>
<rect x="499.83" y="330.74" width="2.50" height="2.50" fill="#f000f0"/>
<rect x="503.38" y="332.65" width="2.50" height="2.50" fill="#f000f0"/>
<rect x="506.92" y="319.07" width="2.50" height="2.50" fill="#f000f0"/>
<rect x="510.46" y="312.06" width="2.50" height="2.50" fill="#f000f0"/>
<rect x="514.00" y="316.00" width="2.50" height="2.50" fill="#f000f0"/>
<rect x="517.54" y="306.47" width="2.50" height="2.50" fill="#f000f0"/>
<rect x="521.09" y="302.35" width="2.50" height="2.50" fill="#f000f0"/>
<rect x="524.63" y="302.35" width="2.50" height="2.50" fill="#f000f0"/>
<rect x="528.17" y="300.01" width="2.50" height="2.50" fill="#f000f0"/>
<rect x="531.71" y="299.17" width="2.50" height="2.50" fill="#f000f0"/>
<rect x="535.25" y="298.31" width="2.50" height="2.50" fill="#f000f0"/>
<rect x="538.80" y="297.44" width="2.50" height="2.50" fill="#f000f0"/>
<rect x="542.34" y="297.02" width="2.50" height="2.50" fill="#f000f0"/>
<rect x="545.88" y="296.59" width="2.50" height="2.50" fill="#f000f0"/>
<rect x="549.42" y="296.17" width="2.50" height="2.50" fill="#f000f0"/>
<rect x="552.96" y="295.80" width="2.50" height="2.50" fill="#f000f0"/>
<rect x="556.51" y="295.45" width="2.50" height="2.50" fill="#f000f0"/>
<rect x="560.05" y="295.09" width="2.50" height="2.50" fill="#f000f0"/>
<rect x="563.59" y="294.73" width="2.50" height="2.50" fill="#f000f0"/>
<rect x="567.13" y="294.37" width="2.50" height="2.50" fill="#f000f0"/>
<rect x="570.67" y="294.01" width="2.50" height="2.50" fill="#f000f0"/>
<rect x="574.22" y="293.65" width="2.50" height="2.50" fill="#f000f0"/>
<rect x="577.76" y="293.29" width="2.50" height="2.50" fill="#f000f0"/>
<rect x="581.30" y="292.95" width="2.50" height="2.50" fill="#f000f0"/>
<rect x="584.84" y="292.95" width="2.50" height="2.50" fill="#f000f0"/>
<rect x="588.38" y="292.95" width="2.50" height="2.50" fill="#f000f0"/>
<rect x="591.93" y="292.95" width="2.50" height="2.50" fill="#f000f0"/>
<rect x="595.47" y="292.95" width="2.50" height="2.50" fill="#f000f0"/>
<rect x="599.01" y="292.74" width="2.50" height="2.50" fill="#f000f0"/>
<rect x="602.55" y="292.38" width="2.50" height="2.50" fill="#f000f0"/>
<rect x="606.09" y="292.02" width="2.50" height="2.50" fill="#f000f0"/>
<rect x="609.64" y="291.66" width="2.50" height="2.50" fill="#f000f0"/>
<rect x="613.18" y="291.39" width="2.50" height="2.50" fill="#f000f0"/>
<rect x="616.72" y="291.68" width="2.50" height="2.50" fill="#f000f0"/>
<rect x="620.26" y="291.48" width="2.50" height="2.50" fill="#f000f0"/>
<rect x="623.80" y="290.89" width="2.50" height="2.50" fill="#f000f0"/>
<rect x="627.35" y="290.75" width="2.50" height="2.50" fill="#f000f0"/>
<rect x="630.89" y="290.81" width="2.50" height="2.50" fill="#f000f0"/>
<rect x="634.43" y="296.03" width="2.50" height="2.50" fill="#f000f0"/>
<rect x="637.97" y="290.75" width="2.50" height="2.50" fill="#f000f0"/>
<rect x="641.51" y="291.03" width="2.50" height="2.50" fill="#f000f0"/>
<rect x="645.06" y="306.33" width="2.50" height="2.50" fill="#f000f0"/>
<rect x="648.60" y="293.64" width="2.50" height="2.50" fill="#f000f0"/>
<rect x="652.14" y="300.61" width="2.50" height="2.50" fill="#f000f0"/>
<rect x="655.68" y="330.00" width="2.50" height="2.50" fill="#f000f0"/>
<rect x="659.22" y="314.01" width="2.50" height="2.50" fill="#f000f0"/>
<rect x="662.77" y="326.66" width="2.50" height="2.50" fill="#f000f0"/>
<rect x="666.31" y="344.99" width="2.50" height="2.50" fill="#f000f0"/>
<rect x="669.85" y="347.45" width="2.50" height="2.50" fill="#f000f0"/>
<polyline points="494.00,341.60 497.54,332.66 501.08,321.05 504.63,315.74 508.17,307.77 511.71,297.39 515.25,294.05 518.79,281.92 522.34,276.89 525.88,276.01 529.42,272.69 532.96,271.51 536.50,270.10 540.05,269.29 543.59,268.80 547.13,268.49 550.67,267.96 554.21,267.44 557.76,266.92 561.30,266.56 564.84,266.20 568.38,265.84 571.92,265.49 575.47,265.13 579.01,264.77 582.55,264.41 586.09,264.16 589.63,263.97 593.18,263.78 596.72,263.58 600.26,263.25 603.80,263.00 607.34,263.00 610.89,262.84 614.43,262.45 617.97,262.53 621.51,262.92 625.05,264.85 628.60,262.80 632.14,263.67 635.68,270.00 639.22,265.72 642.76,268.87 646.31,283.89 649.85,276.07 653.39,288.72 656.93,316.66 660.47,312.88 664.02,326.44 667.56,348.65 671.10,345.40" fill="none" stroke="#f6f600" stroke-width="0.7" stroke-linejoin="round"/>
<rect x="492.75" y="340.35" width="2.50" height="2.50" fill="#f6f600"/>
<rect x="496.29" y="331.41" width="2.50" height="2.50" fill="#f6f600"/>
<rect x="499.83" y="319.80" width="2.50" height="2.50" fill="#f6f600"/>
<rect x="503.38" y="314.49" width="2.50" height="2.50" fill="#f6f600"/>
<rect x="506.92" y="306.52" width="2.50" height="2.50" fill="#f6f600"/>
<rect x="510.46" y="296.14" width="2.50" height="2.50" fill="#f6f600"/>
<rect x="514.00" y="292.80" width="2.50" height="2.50" fill="#f6f600"/>
<rect x="517.54" y="280.67" width="2.50" height="2.50" fill="#f6f600"/>
<rect x="521.09" y="275.64" width="2.50" height="2.50" fill="#f6f600"/>
<rect x="524.63" y="274.76" width="2.50" height="2.50" fill="#f6f600"/>
<rect x="528.17" y="271.44" width="2.50" height="2.50" fill="#f6f600"/>
<rect x="531.71" y="270.26" width="2.50" height="2.50" fill="#f6f600"/>
<rect x="535.25" y="268.85" width="2.50" height="2.50" fill="#f6f600"/>
<rect x="538.80" y="268.04" width="2.50" height="2.50" fill="#f6f600"/>
<rect x="542.34" y="267.55" width="2.50" height="2.50" fill="#f6f600"/>
<rect x="545.88" y="267.24" width="2.50" height="2.50" fill="#f6f600"/>
<rect x="549.42" y="266.71" width="2.50" height="2.50" fill="#f6f600"/>
<rect x="552.96" y="266.19" width="2.50" height="2.50" fill="#f6f600"/>
<rect x="556.51" y="265.67" width="2.50" height="2.50" fill="#f6f600"/>
<rect x="560.05" y="265.31" width="2.50" height="2.50" fill="#f6f600"/>
<rect x="563.59" y="264.95" width="2.50" height="2.50" fill="#f6f600"/>
<rect x="567.13" y="264.59" width="2.50" height="2.50" fill="#f6f600"/>
<rect x="570.67" y="264.24" width="2.50" height="2.50" fill="#f6f600"/>
<rect x="574.22" y="263.88" width="2.50" height="2.50" fill="#f6f600"/>
<rect x="577.76" y="263.52" width="2.50" height="2.50" fill="#f6f600"/>
<rect x="581.30" y="263.16" width="2.50" height="2.50" fill="#f6f600"/>
<rect x="584.84" y="262.91" width="2.50" height="2.50" fill="#f6f600"/>
<rect x="588.38" y="262.72" width="2.50" height="2.50" fill="#f6f600"/>
<rect x="591.93" y="262.53" width="2.50" height="2.50" fill="#f6f600"/>
<rect x="595.47" y="262.33" width="2.50" height="2.50" fill="#f6f600"/>
<rect x="599.01" y="262.00" width="2.50" height="2.50" fill="#f6f600"/>
<rect x="602.55" y="261.75" width="2.50" height="2.50" fill="#f6f600"/>
<rect x="606.09" y="261.75" width="2.50" height="2.50" fill="#f6f600"/>
<rect x="609.64" y="261.59" width="2.50" height="2.50" fill="#f6f600"/>
<rect x="613.18" y="261.20" width="2.50" height="2.50" fill="#f6f600"/>
<rect x="616.72" y="261.28" width="2.50" height="2.50" fill="#f6f600"/>
<rect x="620.26" y="261.67" width="2.50" height="2.50" fill="#f6f600"/>
<rect x="623.80" y="263.60" width="2.50" height="2.50" fill="#f6f600"/>
<rect x="627.35" y="261.55" width="2.50" height="2.50" fill="#f6f600"/>
<rect x="630.89" y="262.42" width="2.50" height="2.50" fill="#f6f600"/>
<rect x="634.43" y="268.75" width="2.50" height="2.50" fill="#f6f600"/>
<rect x="637.97" y="264.47" width="2.50" height="2.50" fill="#f6f600"/>
<rect x="641.51" y="267.62" width="2.50" height="2.50" fill="#f6f600"/>
<rect x="645.06" y="282.64" width="2.50" height="2.50" fill="#f6f600"/>
<rect x="648.60" y="274.82" width="2.50" height="2.50" fill="#f6f600"/>
<rect x="652.14" y="287.47" width="2.50" height="2.50" fill="#f6f600"/>
<rect x="655.68" y="315.41" width="2.50" height="2.50" fill="#f6f600"/>
<rect x="659.22" y="311.63" width="2.50" height="2.50" fill="#f6f600"/>
<rect x="662.77" y="325.19" width="2.50" height="2.50" fill="#f6f600"/>
<rect x="666.31" y="347.40" width="2.50" height="2.50" fill="#f6f600"/>
<rect x="669.85" y="344.15" width="2.50" height="2.50" fill="#f6f600"/>
<polyline points="494.00,340.90 497.54,335.62 501.08,328.63 504.63,312.40 508.17,312.40 511.71,294.46 515.25,279.60 518.79,279.40 522.34,267.51 525.88,258.36 529.42,259.67 532.96,253.66 536.50,249.60 540.05,250.17 543.59,247.91 547.13,246.70 550.67,244.21 554.21,242.83 557.76,241.74 561.30,241.70 564.84,241.60 568.38,240.95 571.92,240.38 575.47,239.99 579.01,239.26 582.55,238.21 586.09,237.75 589.63,237.53 593.18,237.26 596.72,237.00 600.26,237.00 603.80,237.00 607.34,237.00 610.89,236.95 614.43,236.84 617.97,236.13 621.51,238.08 625.05,239.13 628.60,238.20 632.14,241.86 635.68,246.85 639.22,244.75 642.76,253.21 646.31,265.00 649.85,265.22 653.39,281.54 656.93,302.70 660.47,303.12 664.02,323.01 667.56,341.41 671.10,347.90" fill="none" stroke="#727200" stroke-width="0.7" stroke-linejoin="round"/>
<rect x="492.75" y="339.65" width="2.50" height="2.50" fill="#727200"/>
<rect x="496.29" y="334.37" width="2.50" height="2.50" fill="#727200"/>
<rect x="499.83" y="327.38" width="2.50" height="2.50" fill="#727200"/>
<rect x="503.38" y="311.15" width="2.50" height="2.50" fill="#727200"/>
<rect x="506.92" y="311.15" width="2.50" height="2.50" fill="#727200"/>
<rect x="510.46" y="293.21" width="2.50" height="2.50" fill="#727200"/>
<rect x="514.00" y="278.35" width="2.50" height="2.50" fill="#727200"/>
<rect x="517.54" y="278.15" width="2.50" height="2.50" fill="#727200"/>
<rect x="521.09" y="266.26" width="2.50" height="2.50" fill="#727200"/>
<rect x="524.63" y="257.11" width="2.50" height="2.50" fill="#727200"/>
<rect x="528.17" y="258.42" width="2.50" height="2.50" fill="#727200"/>
<rect x="531.71" y="252.41" width="2.50" height="2.50" fill="#727200"/>
<rect x="535.25" y="248.35" width="2.50" height="2.50" fill="#727200"/>
<rect x="538.80" y="248.92" width="2.50" height="2.50" fill="#727200"/>
<rect x="542.34" y="246.66" width="2.50" height="2.50" fill="#727200"/>
<rect x="545.88" y="245.45" width="2.50" height="2.50" fill="#727200"/>
<rect x="549.42" y="242.96" width="2.50" height="2.50" fill="#727200"/>
<rect x="552.96" y="241.58" width="2.50" height="2.50" fill="#727200"/>
<rect x="556.51" y="240.49" width="2.50" height="2.50" fill="#727200"/>
<rect x="560.05" y="240.45" width="2.50" height="2.50" fill="#727200"/>
<rect x="563.59" y="240.35" width="2.50" height="2.50" fill="#727200"/>
<rect x="567.13" y="239.70" width="2.50" height="2.50" fill="#727200"/>
<rect x="570.67" y="239.13" width="2.50" height="2.50" fill="#727200"/>
<rect x="574.22" y="238.74" width="2.50" height="2.50" fill="#727200"/>
<rect x="577.76" y="238.01" width="2.50" height="2.50" fill="#727200"/>
<rect x="581.30" y="236.96" width="2.50" height="2.50" fill="#727200"/>
<rect x="584.84" y="236.50" width="2.50" height="2.50" fill="#727200"/>
<rect x="588.38" y="236.28" width="2.50" height="2.50" fill="#727200"/>
<rect x="591.93" y="236.01" width="2.50" height="2.50" fill="#727200"/>
<rect x="595.47" y="235.75" width="2.50" height="2.50" fill="#727200"/>
<rect x="599.01" y="235.75" width="2.50" height="2.50" fill="#727200"/>
<rect x="602.55" y="235.75" width="2.50" height="2.50" fill="#727200"/>
<rect x="606.09" y="235.75" width="2.50" height="2.50" fill="#727200"/>
<rect x="609.64" y="235.70" width="2.50" height="2.50" fill="#727200"/>
<rect x="613.18" y="235.59" width="2.50" height="2.50" fill="#727200"/>
<rect x="616.72" y="234.88" width="2.50" height="2.50" fill="#727200"/>
<rect x="620.26" y="236.83" width="2.50" height="2.50" fill="#727200"/>
<rect x="623.80" y="237.88" width="2.50" height="2.50" fill="#727200"/>
<rect x="627.35" y="236.95" width="2.50" height="2.50" fill="#727200"/>
<rect x="630.89" y="240.61" width="2.50" height="2.50" fill="#727200"/>
<rect x="634.43" y="245.60" width="2.50" height="2.50" fill="#727200"/>
<rect x="637.97" y="243.50" width="2.50" height="2.50" fill="#727200"/>
<rect x="641.51" y="251.96" width="2.50" height="2.50" fill="#727200"/>
<rect x="645.06" y="263.75" width="2.50" height="2.50" fill="#727200"/>
<rect x="648.60" y="263.97" width="2.50" height="2.50" fill="#727200"/>
<rect x="652.14" y="280.29" width="2.50" height="2.50" fill="#727200"/>
<rect x="655.68" y="301.45" width="2.50" height="2.50" fill="#727200"/>
<rect x="659.22" y="301.87" width="2.50" height="2.50" fill="#727200"/>
<rect x="662.77" y="321.76" width="2.50" height="2.50" fill="#727200"/>
<rect x="666.31" y="340.16" width="2.50" height="2.50" fill="#727200"/>
<rect x="669.85" y="346.65" width="2.50" height="2.50" fill="#727200"/>
</g>
<rect x="28.5" y="5.75" width="177.00" height="129.65" fill="none" stroke="#262626" stroke-width="1.15"/>
<text x="25.80" y="138.70" style="font-family:'Liberation Sans',sans-serif;font-size:10.2px" text-anchor="end" >0</text>
<line x1="28.5" y1="92.18" x2="31.8" y2="92.18" stroke="#262626" stroke-width="1"/>
<text x="25.80" y="95.48" style="font-family:'Liberation Sans',sans-serif;font-size:10.2px" text-anchor="end" >-1</text>
<line x1="28.5" y1="48.97" x2="31.8" y2="48.97" stroke="#262626" stroke-width="1"/>
<text x="25.80" y="52.27" style="font-family:'Liberation Sans',sans-serif;font-size:10.2px" text-anchor="end" >-2</text>
<text x="25.80" y="9.05" style="font-family:'Liberation Sans',sans-serif;font-size:10.2px" text-anchor="end" >-3</text>
<text x="23.10" y="145.60" style="font-family:'Liberation Sans',sans-serif;font-size:10.2px" text-anchor="start" >-32</text>
<text x="207.80" y="145.60" style="font-family:'Liberation Sans',sans-serif;font-size:10.2px" text-anchor="end" >-2</text>
<rect x="260" y="5.6" width="177.00" height="130.60" fill="none" stroke="#262626" stroke-width="1.15"/>
<text x="257.30" y="139.50" style="font-family:'Liberation Sans',sans-serif;font-size:10.2px" text-anchor="end" >0</text>
<line x1="260" y1="92.67" x2="263.3" y2="92.67" stroke="#262626" stroke-width="1"/>
<text x="257.30" y="95.97" style="font-family:'Liberation Sans',sans-serif;font-size:10.2px" text-anchor="end" >-1</text>
<line x1="260" y1="49.13" x2="263.3" y2="49.13" stroke="#262626" stroke-width="1"/>
<text x="257.30" y="52.43" style="font-family:'Liberation Sans',sans-serif;font-size:10.2px" text-anchor="end" >-2</text>
<text x="257.30" y="8.90" style="font-family:'Liberation Sans',sans-serif;font-size:10.2px" text-anchor="end" >-3</text>
<text x="254.60" y="146.40" style="font-family:'Liberation Sans',sans-serif;font-size:10.2px" text-anchor="start" >-32</text>
<text x="439.30" y="146.40" style="font-family:'Liberation Sans',sans-serif;font-size:10.2px" text-anchor="end" >-2</text>
<rect x="495" y="5.7" width="177.00" height="129.60" fill="none" stroke="#262626" stroke-width="1.15"/>
<text x="492.30" y="138.60" style="font-family:'Liberation Sans',sans-serif;font-size:10.2px" text-anchor="end" >0</text>
<line x1="495" y1="92.10" x2="498.3" y2="92.10" stroke="#262626" stroke-width="1"/>
<text x="492.30" y="95.40" style="font-family:'Liberation Sans',sans-serif;font-size:10.2px" text-anchor="end" >-1</text>
<line x1="495" y1="48.90" x2="498.3" y2="48.90" stroke="#262626" stroke-width="1"/>
<text x="492.30" y="52.20" style="font-family:'Liberation Sans',sans-serif;font-size:10.2px" text-anchor="end" >-2</text>
<text x="492.30" y="9.00" style="font-family:'Liberation Sans',sans-serif;font-size:10.2px" text-anchor="end" >-3</text>
<text x="489.60" y="145.50" style="font-family:'Liberation Sans',sans-serif;font-size:10.2px" text-anchor="start" >-32</text>
<text x="674.30" y="145.50" style="font-family:'Liberation Sans',sans-serif;font-size:10.2px" text-anchor="end" >-2</text>
<rect x="28.5" y="222.85" width="177.10" height="129.35" fill="none" stroke="#262626" stroke-width="1.15"/>
<text x="25.80" y="355.50" style="font-family:'Liberation Sans',sans-serif;font-size:10.2px" text-anchor="end" >0</text>
<line x1="28.5" y1="287.52" x2="31.8" y2="287.52" stroke="#262626" stroke-width="1"/>
<text x="25.80" y="290.82" style="font-family:'Liberation Sans',sans-serif;font-size:10.2px" text-anchor="end" >-1</text>
<text x="25.80" y="226.15" style="font-family:'Liberation Sans',sans-serif;font-size:10.2px" text-anchor="end" >-2</text>
<text x="23.10" y="362.40" style="font-family:'Liberation Sans',sans-serif;font-size:10.2px" text-anchor="start" >-32</text>
<text x="207.90" y="362.40" style="font-family:'Liberation Sans',sans-serif;font-size:10.2px" text-anchor="end" >-2</text>
<rect x="258.6" y="222" width="176.90" height="129.20" fill="none" stroke="#262626" stroke-width="1.15"/>
<text x="255.90" y="354.50" style="font-family:'Liberation Sans',sans-serif;font-size:10.2px" text-anchor="end" >0</text>
<line x1="258.6" y1="286.60" x2="261.90000000000003" y2="286.60" stroke="#262626" stroke-width="1"/>
<text x="255.90" y="289.90" style="font-family:'Liberation Sans',sans-serif;font-size:10.2px" text-anchor="end" >-1</text>
<text x="255.90" y="225.30" style="font-family:'Liberation Sans',sans-serif;font-size:10.2px" text-anchor="end" >-2</text>
<text x="253.20" y="361.40" style="font-family:'Liberation Sans',sans-serif;font-size:10.2px" text-anchor="start" >-32</text>
<text x="437.80" y="361.40" style="font-family:'Liberation Sans',sans-serif;font-size:10.2px" text-anchor="end" >-2</text>
<rect x="494" y="221.5" width="177.10" height="129.00" fill="none" stroke="#262626" stroke-width="1.15"/>
<text x="491.30" y="353.80" style="font-family:'Liberation Sans',sans-serif;font-size:10.2px" text-anchor="end" >0</text>
<line x1="494" y1="286.00" x2="497.3" y2="286.00" stroke="#262626" stroke-width="1"/>
<text x="491.30" y="289.30" style="font-family:'Liberation Sans',sans-serif;font-size:10.2px" text-anchor="end" >-1</text>
<text x="491.30" y="224.80" style="font-family:'Liberation Sans',sans-serif;font-size:10.2px" text-anchor="end" >-2</text>
<text x="488.60" y="360.70" style="font-family:'Liberation Sans',sans-serif;font-size:10.2px" text-anchor="start" >-32</text>
<text x="673.40" y="360.70" style="font-family:'Liberation Sans',sans-serif;font-size:10.2px" text-anchor="end" >-2</text>
<text x="48.02" y="158.70" style="font-family:'Liberation Sans',sans-serif;font-size:12.3px" text-anchor="start" >Distance from CTJ (mm)</text>
<text x="279.42" y="158.70" style="font-family:'Liberation Sans',sans-serif;font-size:12.3px" text-anchor="start" >Distance from CTJ (mm)</text>
<text x="514.42" y="158.70" style="font-family:'Liberation Sans',sans-serif;font-size:12.3px" text-anchor="start" >Distance from CTJ (mm)</text>
<text x="47.92" y="376.60" style="font-family:'Liberation Sans',sans-serif;font-size:12.3px" text-anchor="start" >Distance from CTJ (mm)</text>
<text x="279.42" y="376.60" style="font-family:'Liberation Sans',sans-serif;font-size:12.3px" text-anchor="start" >Distance from CTJ (mm)</text>
<text x="514.42" y="376.60" style="font-family:'Liberation Sans',sans-serif;font-size:12.3px" text-anchor="start" >Distance from CTJ (mm)</text>
<text transform="translate(10.8,134.0) rotate(-90)" style="font-family:'Liberation Sans',sans-serif;font-size:12.3px">Surface potential (kV)</text>
<text transform="translate(242.3,135.3) rotate(-90)" style="font-family:'Liberation Sans',sans-serif;font-size:12.5px">Surface potential (kV)</text>
<text transform="translate(477.3,135.3) rotate(-90)" style="font-family:'Liberation Sans',sans-serif;font-size:12.5px">Surface potential (kV)</text>
<text transform="translate(10.6,339.85) rotate(-90)" style="font-family:'Liberation Sans',sans-serif;font-size:12.3px"><tspan x="0">Increment</tspan><tspan x="62.9">(</tspan><tspan x="70.95">kV</tspan><tspan x="89.3">)</tspan></text>
<text transform="translate(242.0,339.85) rotate(-90)" style="font-family:'Liberation Sans',sans-serif;font-size:12.3px"><tspan x="0">Increment</tspan><tspan x="62.9">(</tspan><tspan x="70.95">kV</tspan><tspan x="89.3">)</tspan></text>
<text transform="translate(476.9,339.85) rotate(-90)" style="font-family:'Liberation Sans',sans-serif;font-size:12.3px"><tspan x="0">Increment</tspan><tspan x="62.9">(</tspan><tspan x="70.95">kV</tspan><tspan x="89.3">)</tspan></text>
<text x="167.66" y="125.00" style="font-family:'Liberation Sans',sans-serif;font-size:14.8px" text-anchor="start" >20 s</text>
<text x="391.56" y="125.60" style="font-family:'Liberation Sans',sans-serif;font-size:14.8px" text-anchor="start" >600 s</text>
<text x="618.12" y="125.80" style="font-family:'Liberation Sans',sans-serif;font-size:14.8px" text-anchor="start" >1200 s</text>
<text x="166.76" y="240.80" style="font-family:'Liberation Sans',sans-serif;font-size:14.8px" text-anchor="start" >20 s</text>
<text x="394.86" y="239.40" style="font-family:'Liberation Sans',sans-serif;font-size:14.8px" text-anchor="start" >600 s</text>
<text x="623.42" y="239.60" style="font-family:'Liberation Sans',sans-serif;font-size:14.8px" text-anchor="start" >1200 s</text>
<line x1="35.3" y1="18.2" x2="58.699999999999996" y2="18.2" stroke="#0000ee" stroke-width="1"/>
<rect x="45.75" y="16.95" width="2.50" height="2.50" fill="#0000ee"/>
<text x="61.98" y="21.80" style="font-family:'Liberation Sans',sans-serif;font-size:10.5px" text-anchor="start" >20 °C</text>
<line x1="35.3" y1="30.8" x2="58.699999999999996" y2="30.8" stroke="#00e4e4" stroke-width="1"/>
<rect x="45.75" y="29.55" width="2.50" height="2.50" fill="#00e4e4"/>
<text x="61.98" y="34.40" style="font-family:'Liberation Sans',sans-serif;font-size:10.5px" text-anchor="start" >40 °C</text>
<line x1="35.3" y1="43.8" x2="58.699999999999996" y2="43.8" stroke="#f000f0" stroke-width="1"/>
<rect x="45.75" y="42.55" width="2.50" height="2.50" fill="#f000f0"/>
<text x="61.98" y="47.40" style="font-family:'Liberation Sans',sans-serif;font-size:10.5px" text-anchor="start" >60 °C</text>
<line x1="98.5" y1="18.2" x2="121.9" y2="18.2" stroke="#f6f600" stroke-width="1"/>
<rect x="108.95" y="16.95" width="2.50" height="2.50" fill="#f6f600"/>
<text x="124.27" y="21.80" style="font-family:'Liberation Sans',sans-serif;font-size:10.5px" text-anchor="start" >80 °C</text>
<line x1="98.5" y1="30.8" x2="121.9" y2="30.8" stroke="#727200" stroke-width="1"/>
<rect x="108.95" y="29.55" width="2.50" height="2.50" fill="#727200"/>
<text x="124.27" y="34.40" style="font-family:'Liberation Sans',sans-serif;font-size:10.5px" text-anchor="start" >100 °C</text>
<line x1="98.5" y1="43.8" x2="121.9" y2="43.8" stroke="#000072" stroke-width="1"/>
<rect x="108.95" y="42.55" width="2.50" height="2.50" fill="#000072"/>
<text x="124.27" y="47.40" style="font-family:'Liberation Sans',sans-serif;font-size:10.5px" text-anchor="start" >120 °C</text>
<line x1="41.6" y1="232.3" x2="65.4" y2="232.3" stroke="#0000ee" stroke-width="1"/>
<rect x="52.35" y="231.05" width="2.50" height="2.50" fill="#0000ee"/>
<text x="67.80" y="235.80" style="font-family:'Liberation Sans',sans-serif;font-size:10.8px" text-anchor="start" >U</text>
<path d="M76.2 239.0L78.4 234.70000000000002L80.6 239.0Z" fill="none" stroke="#555" stroke-width="0.6"/>
<text x="81.20" y="239.20" style="font-family:'Liberation Sans',sans-serif;font-size:7.2px;fill:#333" text-anchor="start" >40</text>
<line x1="41.6" y1="248.3" x2="65.4" y2="248.3" stroke="#00e4e4" stroke-width="1"/>
<circle cx="53.60" cy="248.30" r="1.44" fill="#00e4e4"/>
<text x="67.80" y="251.80" style="font-family:'Liberation Sans',sans-serif;font-size:10.8px" text-anchor="start" >U</text>
<path d="M76.2 255.0L78.4 250.70000000000002L80.6 255.0Z" fill="none" stroke="#555" stroke-width="0.6"/>
<text x="81.20" y="255.20" style="font-family:'Liberation Sans',sans-serif;font-size:7.2px;fill:#333" text-anchor="start" >60</text>
<line x1="41.6" y1="264.6" x2="65.4" y2="264.6" stroke="#f000f0" stroke-width="1"/>
<path d="M53.60 262.73L55.35 265.98L51.85 265.98Z" fill="#f000f0"/>
<text x="67.80" y="268.10" style="font-family:'Liberation Sans',sans-serif;font-size:10.8px" text-anchor="start" >U</text>
<path d="M76.2 271.3L78.4 267.0L80.6 271.3Z" fill="none" stroke="#555" stroke-width="0.6"/>
<text x="81.20" y="271.50" style="font-family:'Liberation Sans',sans-serif;font-size:7.2px;fill:#333" text-anchor="start" >80</text>
<line x1="41.6" y1="281" x2="65.4" y2="281" stroke="#f6f600" stroke-width="1"/>
<path d="M53.60 282.88L55.35 279.62L51.85 279.62Z" fill="#f6f600"/>
<text x="67.80" y="284.50" style="font-family:'Liberation Sans',sans-serif;font-size:10.8px" text-anchor="start" >U</text>
<path d="M76.2 287.7L78.4 283.4L80.6 287.7Z" fill="none" stroke="#555" stroke-width="0.6"/>
<text x="81.20" y="287.90" style="font-family:'Liberation Sans',sans-serif;font-size:7.2px;fill:#333" text-anchor="start" >100</text>
<line x1="41.6" y1="297.3" x2="65.4" y2="297.3" stroke="#727200" stroke-width="1"/>
<path d="M53.60 295.30L55.35 297.30L53.60 299.30L51.85 297.30Z" fill="#727200"/>
<text x="67.80" y="300.80" style="font-family:'Liberation Sans',sans-serif;font-size:10.8px" text-anchor="start" >U</text>
<path d="M76.2 304.0L78.4 299.7L80.6 304.0Z" fill="none" stroke="#555" stroke-width="0.6"/>
<text x="81.20" y="304.20" style="font-family:'Liberation Sans',sans-serif;font-size:7.2px;fill:#333" text-anchor="start" >120</text>
<text class="sf" x="126.30" y="194.30" style="font-family:'Liberation Serif',serif;font-size:14.9px;fill:#000" text-anchor="start" xml:space="preserve">(a) Surface potential at 20 s, 600 s, 1200 s under different  temperature</text>
<text class="sf" x="93.10" y="404.20" style="font-family:'Liberation Serif',serif;font-size:14.9px;fill:#000" text-anchor="start" xml:space="preserve">(b) Surface potential increment at 20 s,  600 s, 1200 s under different  temperature</text>
<text class="sf" transform="translate(53.80,421.60) scale(1.0,1)" style="font-family:'Liberation Serif',serif;font-size:14.1px;fill:#000">(</text>
<text class="sf" transform="translate(56.80,421.60) scale(1.06,1)" style="font-family:'Liberation Serif',serif;font-size:14.1px;fill:#000">U</text>
<path d="M69.5 421.40000000000003L71.0 418.40000000000003L72.5 421.40000000000003Z" fill="none" stroke="#222" stroke-width="0.7"/>
<text class="sf" transform="translate(72.80,424.20) scale(1.07,1)" style="font-family:'Liberation Serif',serif;font-size:10.4px;fill:#000">40</text>
<text class="sf" transform="translate(88.80,421.60) scale(1.0,1)" style="font-family:'Liberation Serif',serif;font-size:14.1px;fill:#000">=</text>
<text class="sf" transform="translate(96.50,421.60) scale(1.06,1)" style="font-family:'Liberation Serif',serif;font-size:14.1px;fill:#000">U</text>
<text class="sf" transform="translate(107.20,424.20) scale(1.07,1)" style="font-family:'Liberation Serif',serif;font-size:10.4px;fill:#000">40</text>
<text class="sf" transform="translate(118.43,424.20) scale(1.0,1)" style="font-family:'Liberation Serif',serif;font-size:8.5px;fill:#000">°C</text>
<text class="sf" transform="translate(128.30,421.60) scale(1.0,1)" style="font-family:'Liberation Serif',serif;font-size:14.1px;fill:#000">-</text>
<text class="sf" transform="translate(133.00,421.60) scale(1.06,1)" style="font-family:'Liberation Serif',serif;font-size:14.1px;fill:#000">U</text>
<text class="sf" transform="translate(143.10,424.20) scale(1.07,1)" style="font-family:'Liberation Serif',serif;font-size:10.4px;fill:#000">20</text>
<text class="sf" transform="translate(154.33,424.20) scale(1.0,1)" style="font-family:'Liberation Serif',serif;font-size:8.5px;fill:#000">°C,</text>
<text class="sf" transform="translate(168.60,421.60) scale(1.06,1)" style="font-family:'Liberation Serif',serif;font-size:14.1px;fill:#000">U</text>
<path d="M179.79999999999998 421.40000000000003L181.29999999999998 418.40000000000003L182.79999999999998 421.40000000000003Z" fill="none" stroke="#222" stroke-width="0.7"/>
<text class="sf" transform="translate(183.40,424.20) scale(1.07,1)" style="font-family:'Liberation Serif',serif;font-size:10.4px;fill:#000">60</text>
<text class="sf" transform="translate(198.20,421.60) scale(1.0,1)" style="font-family:'Liberation Serif',serif;font-size:14.1px;fill:#000">=</text>
<text class="sf" transform="translate(206.80,421.60) scale(1.06,1)" style="font-family:'Liberation Serif',serif;font-size:14.1px;fill:#000">U</text>
<text class="sf" transform="translate(217.50,424.20) scale(1.07,1)" style="font-family:'Liberation Serif',serif;font-size:10.4px;fill:#000">60</text>
<text class="sf" transform="translate(228.73,424.20) scale(1.0,1)" style="font-family:'Liberation Serif',serif;font-size:8.5px;fill:#000">°C</text>
<text class="sf" transform="translate(237.60,421.60) scale(1.0,1)" style="font-family:'Liberation Serif',serif;font-size:14.1px;fill:#000">-</text>
<text class="sf" transform="translate(242.40,421.60) scale(1.06,1)" style="font-family:'Liberation Serif',serif;font-size:14.1px;fill:#000">U</text>
<text class="sf" transform="translate(253.00,424.20) scale(1.07,1)" style="font-family:'Liberation Serif',serif;font-size:10.4px;fill:#000">20</text>
<text class="sf" transform="translate(264.23,424.20) scale(1.0,1)" style="font-family:'Liberation Serif',serif;font-size:8.5px;fill:#000">°C,</text>
<text class="sf" transform="translate(278.80,421.60) scale(1.06,1)" style="font-family:'Liberation Serif',serif;font-size:14.1px;fill:#000">U</text>
<path d="M289.8 421.40000000000003L291.3 418.40000000000003L292.8 421.40000000000003Z" fill="none" stroke="#222" stroke-width="0.7"/>
<text class="sf" transform="translate(294.20,424.20) scale(1.07,1)" style="font-family:'Liberation Serif',serif;font-size:10.4px;fill:#000">80</text>
<text class="sf" transform="translate(308.50,421.60) scale(1.0,1)" style="font-family:'Liberation Serif',serif;font-size:14.1px;fill:#000">=</text>
<text class="sf" transform="translate(316.70,421.60) scale(1.06,1)" style="font-family:'Liberation Serif',serif;font-size:14.1px;fill:#000">U</text>
<text class="sf" transform="translate(327.40,424.20) scale(1.07,1)" style="font-family:'Liberation Serif',serif;font-size:10.4px;fill:#000">80</text>
<text class="sf" transform="translate(338.63,424.20) scale(1.0,1)" style="font-family:'Liberation Serif',serif;font-size:8.5px;fill:#000">°C</text>
<text class="sf" transform="translate(347.60,421.60) scale(1.0,1)" style="font-family:'Liberation Serif',serif;font-size:14.1px;fill:#000">-</text>
<text class="sf" transform="translate(352.70,421.60) scale(1.06,1)" style="font-family:'Liberation Serif',serif;font-size:14.1px;fill:#000">U</text>
<text class="sf" transform="translate(363.30,424.20) scale(1.07,1)" style="font-family:'Liberation Serif',serif;font-size:10.4px;fill:#000">20</text>
<text class="sf" transform="translate(374.53,424.20) scale(1.0,1)" style="font-family:'Liberation Serif',serif;font-size:8.5px;fill:#000">°C,</text>
<text class="sf" transform="translate(385.20,421.60) scale(1.06,1)" style="font-family:'Liberation Serif',serif;font-size:14.1px;fill:#000">U</text>
<path d="M397.4 421.40000000000003L398.9 418.40000000000003L400.4 421.40000000000003Z" fill="none" stroke="#222" stroke-width="0.7"/>
<text class="sf" transform="translate(401.20,424.20) scale(1.07,1)" style="font-family:'Liberation Serif',serif;font-size:10.4px;fill:#000">100</text>
<text class="sf" transform="translate(420.80,421.60) scale(1.0,1)" style="font-family:'Liberation Serif',serif;font-size:14.1px;fill:#000">=</text>
<text class="sf" transform="translate(428.80,421.60) scale(1.06,1)" style="font-family:'Liberation Serif',serif;font-size:14.1px;fill:#000">U</text>
<text class="sf" transform="translate(440.10,424.20) scale(1.07,1)" style="font-family:'Liberation Serif',serif;font-size:10.4px;fill:#000">100</text>
<text class="sf" transform="translate(456.89,424.20) scale(1.0,1)" style="font-family:'Liberation Serif',serif;font-size:8.5px;fill:#000">°C</text>
<text class="sf" transform="translate(465.00,421.60) scale(1.0,1)" style="font-family:'Liberation Serif',serif;font-size:14.1px;fill:#000">-</text>
<text class="sf" transform="translate(470.30,421.60) scale(1.06,1)" style="font-family:'Liberation Serif',serif;font-size:14.1px;fill:#000">U</text>
<text class="sf" transform="translate(480.40,424.20) scale(1.07,1)" style="font-family:'Liberation Serif',serif;font-size:10.4px;fill:#000">20</text>
<text class="sf" transform="translate(491.63,424.20) scale(1.0,1)" style="font-family:'Liberation Serif',serif;font-size:8.5px;fill:#000">°C,</text>
<text class="sf" transform="translate(503.30,421.60) scale(1.06,1)" style="font-family:'Liberation Serif',serif;font-size:14.1px;fill:#000">U</text>
<path d="M514.8000000000001 421.40000000000003L516.3000000000001 418.40000000000003L517.8000000000001 421.40000000000003Z" fill="none" stroke="#222" stroke-width="0.7"/>
<text class="sf" transform="translate(519.20,424.20) scale(1.07,1)" style="font-family:'Liberation Serif',serif;font-size:10.4px;fill:#000">120</text>
<text class="sf" transform="translate(537.60,421.60) scale(1.0,1)" style="font-family:'Liberation Serif',serif;font-size:14.1px;fill:#000">=</text>
<text class="sf" transform="translate(545.90,421.60) scale(1.06,1)" style="font-family:'Liberation Serif',serif;font-size:14.1px;fill:#000">U</text>
<text class="sf" transform="translate(556.60,424.20) scale(1.07,1)" style="font-family:'Liberation Serif',serif;font-size:10.4px;fill:#000">120</text>
<text class="sf" transform="translate(573.39,424.20) scale(1.0,1)" style="font-family:'Liberation Serif',serif;font-size:8.5px;fill:#000">°C</text>
<text class="sf" transform="translate(582.20,421.60) scale(1.0,1)" style="font-family:'Liberation Serif',serif;font-size:14.1px;fill:#000">-</text>
<text class="sf" transform="translate(587.00,421.60) scale(1.06,1)" style="font-family:'Liberation Serif',serif;font-size:14.1px;fill:#000">U</text>
<text class="sf" transform="translate(597.60,424.20) scale(1.07,1)" style="font-family:'Liberation Serif',serif;font-size:10.4px;fill:#000">20</text>
<text class="sf" transform="translate(608.83,424.20) scale(1.0,1)" style="font-family:'Liberation Serif',serif;font-size:8.5px;fill:#000">°C</text>
<text class="sf" transform="translate(618.30,421.60) scale(1.0,1)" style="font-family:'Liberation Serif',serif;font-size:14.1px;fill:#000">)</text>
</svg>
</body></html>
